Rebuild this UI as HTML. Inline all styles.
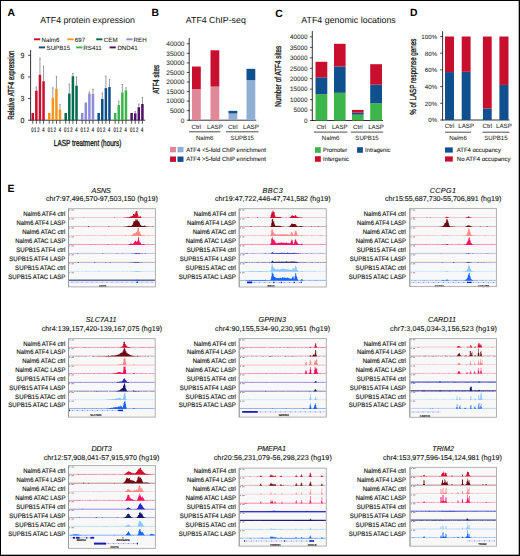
<!DOCTYPE html>
<html><head><meta charset="utf-8"><title>ATF4 figure</title>
<style>html,body{margin:0;padding:0;background:#fff;}body{width:520px;height:556px;overflow:hidden;}svg{display:block;font-family:"Liberation Sans",sans-serif;}text{text-rendering:geometricPrecision;}</style>
</head><body>
<svg width="520" height="556" viewBox="0 0 520 556" font-family="Liberation Sans, sans-serif"><text x="7.60" y="15.90" font-size="10.4" text-anchor="start" fill="#000" font-weight="bold">A</text>
<text x="151.60" y="16.40" font-size="10.4" text-anchor="start" fill="#000" font-weight="bold">B</text>
<text x="275.30" y="16.60" font-size="10.4" text-anchor="start" fill="#000" font-weight="bold">C</text>
<text x="409.90" y="16.40" font-size="10.4" text-anchor="start" fill="#000" font-weight="bold">D</text>
<text x="7.60" y="191.90" font-size="10.4" text-anchor="start" fill="#000" font-weight="bold">E</text>
<text x="87.60" y="22.60" font-size="8.75" text-anchor="middle" fill="#111">ATF4 protein expression</text>
<rect x="34.00" y="38.35" width="6.20" height="1.90" fill="#c8102e"/>
<text x="41.50" y="41.50" font-size="6.2" text-anchor="start" fill="#1a1a1a" stroke="#1a1a1a" stroke-width="0.06">Nalm6</text>
<rect x="67.40" y="38.35" width="6.20" height="1.90" fill="#f7941d"/>
<text x="74.80" y="41.50" font-size="6.2" text-anchor="start" fill="#1a1a1a" stroke="#1a1a1a" stroke-width="0.06">697</text>
<rect x="96.20" y="38.35" width="6.20" height="1.90" fill="#006b4f"/>
<text x="103.80" y="41.50" font-size="6.2" text-anchor="start" fill="#1a1a1a" stroke="#1a1a1a" stroke-width="0.06">CEM</text>
<rect x="126.30" y="38.35" width="6.20" height="1.90" fill="#8b8bd8"/>
<text x="133.60" y="41.50" font-size="6.2" text-anchor="start" fill="#1a1a1a" stroke="#1a1a1a" stroke-width="0.06">REH</text>
<rect x="38.80" y="46.45" width="6.20" height="1.90" fill="#0d4f8b"/>
<text x="46.50" y="49.60" font-size="6.2" text-anchor="start" fill="#1a1a1a" stroke="#1a1a1a" stroke-width="0.06">SUPB15</text>
<rect x="76.20" y="46.45" width="6.20" height="1.90" fill="#3ab54a"/>
<text x="83.30" y="49.60" font-size="6.2" text-anchor="start" fill="#1a1a1a" stroke="#1a1a1a" stroke-width="0.06">RS411</text>
<rect x="109.60" y="46.45" width="6.20" height="1.90" fill="#4b1166"/>
<text x="117.40" y="49.60" font-size="6.2" text-anchor="start" fill="#1a1a1a" stroke="#1a1a1a" stroke-width="0.06">DND41</text>
<line x1="30.60" y1="50.00" x2="30.60" y2="120.60" stroke="#000" stroke-width="0.8"/>
<line x1="30.20" y1="120.20" x2="145.20" y2="120.20" stroke="#000" stroke-width="0.8"/>
<line x1="28.00" y1="120.20" x2="30.60" y2="120.20" stroke="#000" stroke-width="0.7"/>
<text x="24.30" y="122.70" font-size="7.4" text-anchor="end" fill="#222" stroke="#222" stroke-width="0.12" textLength="3.9" lengthAdjust="spacingAndGlyphs">0</text>
<line x1="28.00" y1="98.57" x2="30.60" y2="98.57" stroke="#000" stroke-width="0.7"/>
<text x="24.30" y="101.07" font-size="7.4" text-anchor="end" fill="#222" stroke="#222" stroke-width="0.12" textLength="3.9" lengthAdjust="spacingAndGlyphs">3</text>
<line x1="28.00" y1="76.94" x2="30.60" y2="76.94" stroke="#000" stroke-width="0.7"/>
<text x="24.30" y="79.44" font-size="7.4" text-anchor="end" fill="#222" stroke="#222" stroke-width="0.12" textLength="3.9" lengthAdjust="spacingAndGlyphs">6</text>
<line x1="28.00" y1="55.31" x2="30.60" y2="55.31" stroke="#000" stroke-width="0.7"/>
<text x="24.30" y="57.81" font-size="7.4" text-anchor="end" fill="#222" stroke="#222" stroke-width="0.12" textLength="3.9" lengthAdjust="spacingAndGlyphs">9</text>
<text x="13.90" y="85.20" font-size="8.8" text-anchor="middle" fill="#111" stroke="#111" stroke-width="0.3" textLength="69.3" lengthAdjust="spacingAndGlyphs" transform="rotate(-90 13.90 85.20)">Relative ATF4 expression</text>
<text x="87.60" y="145.60" font-size="8.8" text-anchor="middle" fill="#111" stroke="#111" stroke-width="0.3" textLength="67.5" lengthAdjust="spacingAndGlyphs">LASP treatment (hours)</text>
<rect x="31.50" y="112.99" width="2.50" height="7.21" fill="#c8102e"/>
<line x1="32.75" y1="120.20" x2="32.75" y2="123.80" stroke="#222" stroke-width="0.75"/>
<line x1="36.35" y1="90.64" x2="36.35" y2="87.03" stroke="#5a5a5a" stroke-width="0.6"/>
<line x1="35.65" y1="87.03" x2="37.05" y2="87.03" stroke="#5a5a5a" stroke-width="0.6"/>
<rect x="35.10" y="90.64" width="2.50" height="29.56" fill="#c8102e"/>
<line x1="36.35" y1="120.20" x2="36.35" y2="123.80" stroke="#222" stroke-width="0.75"/>
<line x1="39.95" y1="74.78" x2="39.95" y2="58.19" stroke="#5a5a5a" stroke-width="0.6"/>
<line x1="39.25" y1="58.19" x2="40.65" y2="58.19" stroke="#5a5a5a" stroke-width="0.6"/>
<rect x="38.70" y="74.78" width="2.50" height="45.42" fill="#c8102e"/>
<line x1="39.95" y1="120.20" x2="39.95" y2="123.80" stroke="#222" stroke-width="0.75"/>
<line x1="43.55" y1="81.27" x2="43.55" y2="66.12" stroke="#5a5a5a" stroke-width="0.6"/>
<line x1="42.85" y1="66.12" x2="44.25" y2="66.12" stroke="#5a5a5a" stroke-width="0.6"/>
<rect x="42.30" y="81.27" width="2.50" height="38.93" fill="#c8102e"/>
<line x1="43.55" y1="120.20" x2="43.55" y2="123.80" stroke="#222" stroke-width="0.75"/>
<text x="32.30" y="131.70" font-size="6.6" text-anchor="middle" fill="#222" stroke="#222" stroke-width="0.2" textLength="2.3" lengthAdjust="spacingAndGlyphs">0</text>
<text x="35.10" y="131.70" font-size="6.6" text-anchor="middle" fill="#222" stroke="#222" stroke-width="0.2" textLength="2.3" lengthAdjust="spacingAndGlyphs">1</text>
<text x="38.35" y="131.70" font-size="6.6" text-anchor="middle" fill="#222" stroke="#222" stroke-width="0.2" textLength="2.3" lengthAdjust="spacingAndGlyphs">2</text>
<text x="43.35" y="131.70" font-size="6.6" text-anchor="middle" fill="#222" stroke="#222" stroke-width="0.2" textLength="2.3" lengthAdjust="spacingAndGlyphs">4</text>
<rect x="47.98" y="112.99" width="2.50" height="7.21" fill="#f7941d"/>
<line x1="49.23" y1="120.20" x2="49.23" y2="123.80" stroke="#222" stroke-width="0.75"/>
<line x1="52.83" y1="97.85" x2="52.83" y2="87.75" stroke="#5a5a5a" stroke-width="0.6"/>
<line x1="52.13" y1="87.75" x2="53.53" y2="87.75" stroke="#5a5a5a" stroke-width="0.6"/>
<rect x="51.58" y="97.85" width="2.50" height="22.35" fill="#f7941d"/>
<line x1="52.83" y1="120.20" x2="52.83" y2="123.80" stroke="#222" stroke-width="0.75"/>
<line x1="56.43" y1="88.84" x2="56.43" y2="76.22" stroke="#5a5a5a" stroke-width="0.6"/>
<line x1="55.73" y1="76.22" x2="57.13" y2="76.22" stroke="#5a5a5a" stroke-width="0.6"/>
<rect x="55.18" y="88.84" width="2.50" height="31.36" fill="#f7941d"/>
<line x1="56.43" y1="120.20" x2="56.43" y2="123.80" stroke="#222" stroke-width="0.75"/>
<line x1="60.03" y1="109.39" x2="60.03" y2="104.34" stroke="#5a5a5a" stroke-width="0.6"/>
<line x1="59.33" y1="104.34" x2="60.73" y2="104.34" stroke="#5a5a5a" stroke-width="0.6"/>
<rect x="58.78" y="109.39" width="2.50" height="10.81" fill="#f7941d"/>
<line x1="60.03" y1="120.20" x2="60.03" y2="123.80" stroke="#222" stroke-width="0.75"/>
<text x="48.78" y="131.70" font-size="6.6" text-anchor="middle" fill="#222" stroke="#222" stroke-width="0.2" textLength="2.3" lengthAdjust="spacingAndGlyphs">0</text>
<text x="51.58" y="131.70" font-size="6.6" text-anchor="middle" fill="#222" stroke="#222" stroke-width="0.2" textLength="2.3" lengthAdjust="spacingAndGlyphs">1</text>
<text x="54.83" y="131.70" font-size="6.6" text-anchor="middle" fill="#222" stroke="#222" stroke-width="0.2" textLength="2.3" lengthAdjust="spacingAndGlyphs">2</text>
<text x="59.83" y="131.70" font-size="6.6" text-anchor="middle" fill="#222" stroke="#222" stroke-width="0.2" textLength="2.3" lengthAdjust="spacingAndGlyphs">4</text>
<rect x="64.46" y="112.99" width="2.50" height="7.21" fill="#006b4f"/>
<line x1="65.71" y1="120.20" x2="65.71" y2="123.80" stroke="#222" stroke-width="0.75"/>
<line x1="69.31" y1="93.52" x2="69.31" y2="84.15" stroke="#5a5a5a" stroke-width="0.6"/>
<line x1="68.61" y1="84.15" x2="70.01" y2="84.15" stroke="#5a5a5a" stroke-width="0.6"/>
<rect x="68.06" y="93.52" width="2.50" height="26.68" fill="#006b4f"/>
<line x1="69.31" y1="120.20" x2="69.31" y2="123.80" stroke="#222" stroke-width="0.75"/>
<line x1="72.91" y1="76.22" x2="72.91" y2="73.34" stroke="#5a5a5a" stroke-width="0.6"/>
<line x1="72.21" y1="73.34" x2="73.61" y2="73.34" stroke="#5a5a5a" stroke-width="0.6"/>
<rect x="71.66" y="76.22" width="2.50" height="43.98" fill="#006b4f"/>
<line x1="72.91" y1="120.20" x2="72.91" y2="123.80" stroke="#222" stroke-width="0.75"/>
<line x1="76.51" y1="85.59" x2="76.51" y2="76.94" stroke="#5a5a5a" stroke-width="0.6"/>
<line x1="75.81" y1="76.94" x2="77.21" y2="76.94" stroke="#5a5a5a" stroke-width="0.6"/>
<rect x="75.26" y="85.59" width="2.50" height="34.61" fill="#006b4f"/>
<line x1="76.51" y1="120.20" x2="76.51" y2="123.80" stroke="#222" stroke-width="0.75"/>
<text x="65.26" y="131.70" font-size="6.6" text-anchor="middle" fill="#222" stroke="#222" stroke-width="0.2" textLength="2.3" lengthAdjust="spacingAndGlyphs">0</text>
<text x="68.06" y="131.70" font-size="6.6" text-anchor="middle" fill="#222" stroke="#222" stroke-width="0.2" textLength="2.3" lengthAdjust="spacingAndGlyphs">1</text>
<text x="71.31" y="131.70" font-size="6.6" text-anchor="middle" fill="#222" stroke="#222" stroke-width="0.2" textLength="2.3" lengthAdjust="spacingAndGlyphs">2</text>
<text x="76.31" y="131.70" font-size="6.6" text-anchor="middle" fill="#222" stroke="#222" stroke-width="0.2" textLength="2.3" lengthAdjust="spacingAndGlyphs">4</text>
<rect x="80.94" y="112.99" width="2.50" height="7.21" fill="#8b8bd8"/>
<line x1="82.19" y1="120.20" x2="82.19" y2="123.80" stroke="#222" stroke-width="0.75"/>
<rect x="84.54" y="102.54" width="2.50" height="17.66" fill="#8b8bd8"/>
<line x1="85.79" y1="120.20" x2="85.79" y2="123.80" stroke="#222" stroke-width="0.75"/>
<line x1="89.39" y1="93.52" x2="89.39" y2="92.08" stroke="#5a5a5a" stroke-width="0.6"/>
<line x1="88.69" y1="92.08" x2="90.09" y2="92.08" stroke="#5a5a5a" stroke-width="0.6"/>
<rect x="88.14" y="93.52" width="2.50" height="26.68" fill="#8b8bd8"/>
<line x1="89.39" y1="120.20" x2="89.39" y2="123.80" stroke="#222" stroke-width="0.75"/>
<line x1="92.99" y1="93.88" x2="92.99" y2="89.20" stroke="#5a5a5a" stroke-width="0.6"/>
<line x1="92.29" y1="89.20" x2="93.69" y2="89.20" stroke="#5a5a5a" stroke-width="0.6"/>
<rect x="91.74" y="93.88" width="2.50" height="26.32" fill="#8b8bd8"/>
<line x1="92.99" y1="120.20" x2="92.99" y2="123.80" stroke="#222" stroke-width="0.75"/>
<text x="81.74" y="131.70" font-size="6.6" text-anchor="middle" fill="#222" stroke="#222" stroke-width="0.2" textLength="2.3" lengthAdjust="spacingAndGlyphs">0</text>
<text x="84.54" y="131.70" font-size="6.6" text-anchor="middle" fill="#222" stroke="#222" stroke-width="0.2" textLength="2.3" lengthAdjust="spacingAndGlyphs">1</text>
<text x="87.79" y="131.70" font-size="6.6" text-anchor="middle" fill="#222" stroke="#222" stroke-width="0.2" textLength="2.3" lengthAdjust="spacingAndGlyphs">2</text>
<text x="92.79" y="131.70" font-size="6.6" text-anchor="middle" fill="#222" stroke="#222" stroke-width="0.2" textLength="2.3" lengthAdjust="spacingAndGlyphs">4</text>
<rect x="97.42" y="112.99" width="2.50" height="7.21" fill="#0d4f8b"/>
<line x1="98.67" y1="120.20" x2="98.67" y2="123.80" stroke="#222" stroke-width="0.75"/>
<line x1="102.27" y1="98.93" x2="102.27" y2="93.16" stroke="#5a5a5a" stroke-width="0.6"/>
<line x1="101.57" y1="93.16" x2="102.97" y2="93.16" stroke="#5a5a5a" stroke-width="0.6"/>
<rect x="101.02" y="98.93" width="2.50" height="21.27" fill="#0d4f8b"/>
<line x1="102.27" y1="120.20" x2="102.27" y2="123.80" stroke="#222" stroke-width="0.75"/>
<line x1="105.87" y1="88.12" x2="105.87" y2="76.22" stroke="#5a5a5a" stroke-width="0.6"/>
<line x1="105.17" y1="76.22" x2="106.57" y2="76.22" stroke="#5a5a5a" stroke-width="0.6"/>
<rect x="104.62" y="88.12" width="2.50" height="32.08" fill="#0d4f8b"/>
<line x1="105.87" y1="120.20" x2="105.87" y2="123.80" stroke="#222" stroke-width="0.75"/>
<line x1="109.47" y1="87.03" x2="109.47" y2="79.46" stroke="#5a5a5a" stroke-width="0.6"/>
<line x1="108.77" y1="79.46" x2="110.17" y2="79.46" stroke="#5a5a5a" stroke-width="0.6"/>
<rect x="108.22" y="87.03" width="2.50" height="33.17" fill="#0d4f8b"/>
<line x1="109.47" y1="120.20" x2="109.47" y2="123.80" stroke="#222" stroke-width="0.75"/>
<text x="98.22" y="131.70" font-size="6.6" text-anchor="middle" fill="#222" stroke="#222" stroke-width="0.2" textLength="2.3" lengthAdjust="spacingAndGlyphs">0</text>
<text x="101.02" y="131.70" font-size="6.6" text-anchor="middle" fill="#222" stroke="#222" stroke-width="0.2" textLength="2.3" lengthAdjust="spacingAndGlyphs">1</text>
<text x="104.27" y="131.70" font-size="6.6" text-anchor="middle" fill="#222" stroke="#222" stroke-width="0.2" textLength="2.3" lengthAdjust="spacingAndGlyphs">2</text>
<text x="109.27" y="131.70" font-size="6.6" text-anchor="middle" fill="#222" stroke="#222" stroke-width="0.2" textLength="2.3" lengthAdjust="spacingAndGlyphs">4</text>
<rect x="113.90" y="112.99" width="2.50" height="7.21" fill="#3ab54a"/>
<line x1="115.15" y1="120.20" x2="115.15" y2="123.80" stroke="#222" stroke-width="0.75"/>
<line x1="118.75" y1="105.06" x2="118.75" y2="101.09" stroke="#5a5a5a" stroke-width="0.6"/>
<line x1="118.05" y1="101.09" x2="119.45" y2="101.09" stroke="#5a5a5a" stroke-width="0.6"/>
<rect x="117.50" y="105.06" width="2.50" height="15.14" fill="#3ab54a"/>
<line x1="118.75" y1="120.20" x2="118.75" y2="123.80" stroke="#222" stroke-width="0.75"/>
<line x1="122.35" y1="92.44" x2="122.35" y2="84.51" stroke="#5a5a5a" stroke-width="0.6"/>
<line x1="121.65" y1="84.51" x2="123.05" y2="84.51" stroke="#5a5a5a" stroke-width="0.6"/>
<rect x="121.10" y="92.44" width="2.50" height="27.76" fill="#3ab54a"/>
<line x1="122.35" y1="120.20" x2="122.35" y2="123.80" stroke="#222" stroke-width="0.75"/>
<line x1="125.95" y1="90.28" x2="125.95" y2="87.75" stroke="#5a5a5a" stroke-width="0.6"/>
<line x1="125.25" y1="87.75" x2="126.65" y2="87.75" stroke="#5a5a5a" stroke-width="0.6"/>
<rect x="124.70" y="90.28" width="2.50" height="29.92" fill="#3ab54a"/>
<line x1="125.95" y1="120.20" x2="125.95" y2="123.80" stroke="#222" stroke-width="0.75"/>
<text x="114.70" y="131.70" font-size="6.6" text-anchor="middle" fill="#222" stroke="#222" stroke-width="0.2" textLength="2.3" lengthAdjust="spacingAndGlyphs">0</text>
<text x="117.50" y="131.70" font-size="6.6" text-anchor="middle" fill="#222" stroke="#222" stroke-width="0.2" textLength="2.3" lengthAdjust="spacingAndGlyphs">1</text>
<text x="120.75" y="131.70" font-size="6.6" text-anchor="middle" fill="#222" stroke="#222" stroke-width="0.2" textLength="2.3" lengthAdjust="spacingAndGlyphs">2</text>
<text x="125.75" y="131.70" font-size="6.6" text-anchor="middle" fill="#222" stroke="#222" stroke-width="0.2" textLength="2.3" lengthAdjust="spacingAndGlyphs">4</text>
<rect x="130.38" y="112.99" width="2.50" height="7.21" fill="#4b1166"/>
<line x1="131.63" y1="120.20" x2="131.63" y2="123.80" stroke="#222" stroke-width="0.75"/>
<line x1="135.23" y1="113.35" x2="135.23" y2="111.55" stroke="#5a5a5a" stroke-width="0.6"/>
<line x1="134.53" y1="111.55" x2="135.93" y2="111.55" stroke="#5a5a5a" stroke-width="0.6"/>
<rect x="133.98" y="113.35" width="2.50" height="6.85" fill="#4b1166"/>
<line x1="135.23" y1="120.20" x2="135.23" y2="123.80" stroke="#222" stroke-width="0.75"/>
<line x1="138.83" y1="107.22" x2="138.83" y2="103.98" stroke="#5a5a5a" stroke-width="0.6"/>
<line x1="138.13" y1="103.98" x2="139.53" y2="103.98" stroke="#5a5a5a" stroke-width="0.6"/>
<rect x="137.58" y="107.22" width="2.50" height="12.98" fill="#4b1166"/>
<line x1="138.83" y1="120.20" x2="138.83" y2="123.80" stroke="#222" stroke-width="0.75"/>
<line x1="142.43" y1="103.98" x2="142.43" y2="97.49" stroke="#5a5a5a" stroke-width="0.6"/>
<line x1="141.73" y1="97.49" x2="143.13" y2="97.49" stroke="#5a5a5a" stroke-width="0.6"/>
<rect x="141.18" y="103.98" width="2.50" height="16.22" fill="#4b1166"/>
<line x1="142.43" y1="120.20" x2="142.43" y2="123.80" stroke="#222" stroke-width="0.75"/>
<text x="131.18" y="131.70" font-size="6.6" text-anchor="middle" fill="#222" stroke="#222" stroke-width="0.2" textLength="2.3" lengthAdjust="spacingAndGlyphs">0</text>
<text x="133.98" y="131.70" font-size="6.6" text-anchor="middle" fill="#222" stroke="#222" stroke-width="0.2" textLength="2.3" lengthAdjust="spacingAndGlyphs">1</text>
<text x="137.23" y="131.70" font-size="6.6" text-anchor="middle" fill="#222" stroke="#222" stroke-width="0.2" textLength="2.3" lengthAdjust="spacingAndGlyphs">2</text>
<text x="142.23" y="131.70" font-size="6.6" text-anchor="middle" fill="#222" stroke="#222" stroke-width="0.2" textLength="2.3" lengthAdjust="spacingAndGlyphs">4</text>
<text x="215.80" y="23.00" font-size="8.8" text-anchor="middle" fill="#111">ATF4 ChIP-seq</text>
<line x1="189.20" y1="38.00" x2="189.20" y2="120.60" stroke="#000" stroke-width="0.8"/>
<line x1="186.80" y1="120.20" x2="189.20" y2="120.20" stroke="#000" stroke-width="0.7"/>
<text x="184.40" y="122.50" font-size="6.5" text-anchor="end" fill="#222" stroke="#222" stroke-width="0.04">0</text>
<line x1="186.80" y1="110.65" x2="189.20" y2="110.65" stroke="#000" stroke-width="0.7"/>
<text x="184.40" y="112.95" font-size="6.5" text-anchor="end" fill="#222" stroke="#222" stroke-width="0.04">5000</text>
<line x1="186.80" y1="101.10" x2="189.20" y2="101.10" stroke="#000" stroke-width="0.7"/>
<text x="184.40" y="103.40" font-size="6.5" text-anchor="end" fill="#222" stroke="#222" stroke-width="0.04">10000</text>
<line x1="186.80" y1="91.55" x2="189.20" y2="91.55" stroke="#000" stroke-width="0.7"/>
<text x="184.40" y="93.85" font-size="6.5" text-anchor="end" fill="#222" stroke="#222" stroke-width="0.04">15000</text>
<line x1="186.80" y1="82.00" x2="189.20" y2="82.00" stroke="#000" stroke-width="0.7"/>
<text x="184.40" y="84.30" font-size="6.5" text-anchor="end" fill="#222" stroke="#222" stroke-width="0.04">20000</text>
<line x1="186.80" y1="72.45" x2="189.20" y2="72.45" stroke="#000" stroke-width="0.7"/>
<text x="184.40" y="74.75" font-size="6.5" text-anchor="end" fill="#222" stroke="#222" stroke-width="0.04">25000</text>
<line x1="186.80" y1="62.90" x2="189.20" y2="62.90" stroke="#000" stroke-width="0.7"/>
<text x="184.40" y="65.20" font-size="6.5" text-anchor="end" fill="#222" stroke="#222" stroke-width="0.04">30000</text>
<line x1="186.80" y1="53.35" x2="189.20" y2="53.35" stroke="#000" stroke-width="0.7"/>
<text x="184.40" y="55.65" font-size="6.5" text-anchor="end" fill="#222" stroke="#222" stroke-width="0.04">35000</text>
<line x1="186.80" y1="43.80" x2="189.20" y2="43.80" stroke="#000" stroke-width="0.7"/>
<text x="184.40" y="46.10" font-size="6.5" text-anchor="end" fill="#222" stroke="#222" stroke-width="0.04">40000</text>
<line x1="188.80" y1="120.20" x2="256.30" y2="120.20" stroke="#000" stroke-width="0.8"/>
<rect x="192.00" y="89.07" width="8.80" height="31.13" fill="#e08898"/>
<rect x="192.00" y="66.53" width="8.80" height="22.54" fill="#c8102e"/>
<text x="196.40" y="128.60" font-size="6.2" text-anchor="middle" fill="#222" stroke="#222" stroke-width="0.04">Ctrl</text>
<rect x="210.50" y="86.58" width="8.80" height="33.62" fill="#e08898"/>
<rect x="210.50" y="50.29" width="8.80" height="36.29" fill="#c8102e"/>
<text x="214.90" y="128.60" font-size="6.2" text-anchor="middle" fill="#222" stroke="#222" stroke-width="0.04">LASP</text>
<rect x="228.50" y="113.52" width="8.80" height="6.69" fill="#8fb0d2"/>
<rect x="228.50" y="110.84" width="8.80" height="2.67" fill="#11508e"/>
<text x="232.90" y="128.60" font-size="6.2" text-anchor="middle" fill="#222" stroke="#222" stroke-width="0.04">Ctrl</text>
<rect x="246.50" y="80.09" width="8.80" height="40.11" fill="#8fb0d2"/>
<rect x="246.50" y="68.82" width="8.80" height="11.27" fill="#11508e"/>
<text x="250.90" y="128.60" font-size="6.2" text-anchor="middle" fill="#222" stroke="#222" stroke-width="0.04">LASP</text>
<line x1="189.00" y1="131.80" x2="220.40" y2="131.80" stroke="#000" stroke-width="0.7"/>
<text x="204.70" y="139.70" font-size="6.1" text-anchor="middle" fill="#222" stroke="#222" stroke-width="0.04">Nalm6</text>
<line x1="226.00" y1="131.80" x2="258.50" y2="131.80" stroke="#000" stroke-width="0.7"/>
<text x="242.25" y="139.70" font-size="6.1" text-anchor="middle" fill="#222" stroke="#222" stroke-width="0.04">SUPB15</text>
<text x="158.60" y="79.40" font-size="8.8" text-anchor="middle" fill="#111" stroke="#111" stroke-width="0.3" textLength="28.8" lengthAdjust="spacingAndGlyphs" transform="rotate(-90 158.60 79.40)">ATF4 sites</text>
<rect x="170.00" y="146.90" width="6.00" height="5.40" fill="#e08898"/>
<rect x="177.50" y="146.90" width="6.00" height="5.40" fill="#8fb0d2"/>
<text x="186.20" y="151.80" font-size="6.2" text-anchor="start" fill="#1a1a1a" stroke="#1a1a1a" stroke-width="0.08" textLength="79.8" lengthAdjust="spacingAndGlyphs">ATF4 &lt;5-fold ChIP enrichment</text>
<rect x="170.00" y="156.50" width="6.00" height="5.40" fill="#c8102e"/>
<rect x="177.50" y="156.50" width="6.00" height="5.40" fill="#11508e"/>
<text x="186.20" y="161.40" font-size="6.2" text-anchor="start" fill="#1a1a1a" stroke="#1a1a1a" stroke-width="0.08" textLength="79.8" lengthAdjust="spacingAndGlyphs">ATF4 &gt;5-fold ChIP enrichment</text>
<text x="348.50" y="23.00" font-size="8.9" text-anchor="middle" fill="#111">ATF4 genomic locations</text>
<line x1="312.30" y1="31.00" x2="312.30" y2="120.90" stroke="#000" stroke-width="0.8"/>
<line x1="309.90" y1="120.50" x2="312.30" y2="120.50" stroke="#000" stroke-width="0.7"/>
<text x="307.60" y="122.80" font-size="6.35" text-anchor="end" fill="#222" stroke="#222" stroke-width="0.04">0</text>
<line x1="309.90" y1="110.05" x2="312.30" y2="110.05" stroke="#000" stroke-width="0.7"/>
<text x="307.60" y="112.35" font-size="6.35" text-anchor="end" fill="#222" stroke="#222" stroke-width="0.04">5000</text>
<line x1="309.90" y1="99.60" x2="312.30" y2="99.60" stroke="#000" stroke-width="0.7"/>
<text x="307.60" y="101.90" font-size="6.35" text-anchor="end" fill="#222" stroke="#222" stroke-width="0.04">10000</text>
<line x1="309.90" y1="89.15" x2="312.30" y2="89.15" stroke="#000" stroke-width="0.7"/>
<text x="307.60" y="91.45" font-size="6.35" text-anchor="end" fill="#222" stroke="#222" stroke-width="0.04">15000</text>
<line x1="309.90" y1="78.70" x2="312.30" y2="78.70" stroke="#000" stroke-width="0.7"/>
<text x="307.60" y="81.00" font-size="6.35" text-anchor="end" fill="#222" stroke="#222" stroke-width="0.04">20000</text>
<line x1="309.90" y1="68.25" x2="312.30" y2="68.25" stroke="#000" stroke-width="0.7"/>
<text x="307.60" y="70.55" font-size="6.35" text-anchor="end" fill="#222" stroke="#222" stroke-width="0.04">25000</text>
<line x1="309.90" y1="57.80" x2="312.30" y2="57.80" stroke="#000" stroke-width="0.7"/>
<text x="307.60" y="60.10" font-size="6.35" text-anchor="end" fill="#222" stroke="#222" stroke-width="0.04">30000</text>
<line x1="309.90" y1="47.35" x2="312.30" y2="47.35" stroke="#000" stroke-width="0.7"/>
<text x="307.60" y="49.65" font-size="6.35" text-anchor="end" fill="#222" stroke="#222" stroke-width="0.04">35000</text>
<line x1="309.90" y1="36.90" x2="312.30" y2="36.90" stroke="#000" stroke-width="0.7"/>
<text x="307.60" y="39.20" font-size="6.35" text-anchor="end" fill="#222" stroke="#222" stroke-width="0.04">40000</text>
<line x1="311.90" y1="120.50" x2="383.00" y2="120.50" stroke="#000" stroke-width="0.8"/>
<rect x="315.50" y="94.17" width="11.80" height="26.33" fill="#3cb54a"/>
<rect x="315.50" y="77.30" width="11.80" height="16.87" fill="#11508e"/>
<rect x="315.50" y="61.79" width="11.80" height="15.51" fill="#c8102e"/>
<text x="321.40" y="128.60" font-size="6.2" text-anchor="middle" fill="#222" stroke="#222" stroke-width="0.04">Ctrl</text>
<rect x="334.00" y="92.81" width="11.60" height="27.69" fill="#3cb54a"/>
<rect x="334.00" y="66.49" width="11.60" height="26.31" fill="#11508e"/>
<rect x="334.00" y="43.80" width="11.60" height="22.70" fill="#c8102e"/>
<text x="339.80" y="128.60" font-size="6.2" text-anchor="middle" fill="#222" stroke="#222" stroke-width="0.04">LASP</text>
<rect x="352.00" y="114.70" width="11.60" height="5.80" fill="#3cb54a"/>
<rect x="352.00" y="112.70" width="11.60" height="2.00" fill="#11508e"/>
<rect x="352.00" y="109.90" width="11.60" height="2.80" fill="#c8102e"/>
<text x="357.80" y="128.60" font-size="6.2" text-anchor="middle" fill="#222" stroke="#222" stroke-width="0.04">Ctrl</text>
<rect x="370.20" y="103.19" width="11.80" height="17.31" fill="#3cb54a"/>
<rect x="370.20" y="84.70" width="11.80" height="18.50" fill="#11508e"/>
<rect x="370.20" y="64.20" width="11.80" height="20.50" fill="#c8102e"/>
<text x="376.10" y="128.60" font-size="6.2" text-anchor="middle" fill="#222" stroke="#222" stroke-width="0.04">LASP</text>
<line x1="313.90" y1="132.10" x2="347.40" y2="132.10" stroke="#000" stroke-width="0.7"/>
<text x="330.65" y="140.00" font-size="6.1" text-anchor="middle" fill="#222" stroke="#222" stroke-width="0.04">Nalm6</text>
<line x1="350.80" y1="132.10" x2="383.20" y2="132.10" stroke="#000" stroke-width="0.7"/>
<text x="367.00" y="140.00" font-size="6.1" text-anchor="middle" fill="#222" stroke="#222" stroke-width="0.04">SUPB15</text>
<text x="281.40" y="76.20" font-size="8.8" text-anchor="middle" fill="#111" stroke="#111" stroke-width="0.3" textLength="61" lengthAdjust="spacingAndGlyphs" transform="rotate(-90 281.40 76.20)">Number of ATF4 sites</text>
<rect x="315.00" y="147.20" width="5.80" height="5.60" fill="#3cb54a"/>
<text x="323.00" y="152.20" font-size="6.2" text-anchor="start" fill="#1a1a1a" stroke="#1a1a1a" stroke-width="0.08" textLength="24.1" lengthAdjust="spacingAndGlyphs">Promoter</text>
<rect x="357.10" y="147.20" width="5.80" height="5.60" fill="#11508e"/>
<text x="365.10" y="152.20" font-size="6.2" text-anchor="start" fill="#1a1a1a" stroke="#1a1a1a" stroke-width="0.08" textLength="25.4" lengthAdjust="spacingAndGlyphs">Intragenic</text>
<rect x="315.00" y="156.20" width="5.80" height="5.60" fill="#c8102e"/>
<text x="323.00" y="161.20" font-size="6.2" text-anchor="start" fill="#1a1a1a" stroke="#1a1a1a" stroke-width="0.08" textLength="26.0" lengthAdjust="spacingAndGlyphs">Intergenic</text>
<line x1="442.60" y1="31.20" x2="442.60" y2="120.40" stroke="#000" stroke-width="0.8"/>
<line x1="440.20" y1="120.00" x2="442.60" y2="120.00" stroke="#000" stroke-width="0.7"/>
<text x="437.20" y="122.30" font-size="6.2" text-anchor="end" fill="#222" stroke="#222" stroke-width="0.04">0%</text>
<line x1="440.20" y1="103.30" x2="442.60" y2="103.30" stroke="#000" stroke-width="0.7"/>
<text x="437.20" y="105.60" font-size="6.2" text-anchor="end" fill="#222" stroke="#222" stroke-width="0.04">20%</text>
<line x1="440.20" y1="86.60" x2="442.60" y2="86.60" stroke="#000" stroke-width="0.7"/>
<text x="437.20" y="88.90" font-size="6.2" text-anchor="end" fill="#222" stroke="#222" stroke-width="0.04">40%</text>
<line x1="440.20" y1="69.90" x2="442.60" y2="69.90" stroke="#000" stroke-width="0.7"/>
<text x="437.20" y="72.20" font-size="6.2" text-anchor="end" fill="#222" stroke="#222" stroke-width="0.04">60%</text>
<line x1="440.20" y1="53.20" x2="442.60" y2="53.20" stroke="#000" stroke-width="0.7"/>
<text x="437.20" y="55.50" font-size="6.2" text-anchor="end" fill="#222" stroke="#222" stroke-width="0.04">80%</text>
<line x1="440.20" y1="36.50" x2="442.60" y2="36.50" stroke="#000" stroke-width="0.7"/>
<text x="437.20" y="38.80" font-size="6.2" text-anchor="end" fill="#222" stroke="#222" stroke-width="0.04">100%</text>
<line x1="442.20" y1="120.00" x2="509.50" y2="120.00" stroke="#000" stroke-width="0.8"/>
<rect x="445.00" y="72.07" width="9.00" height="47.93" fill="#11508e"/>
<rect x="445.00" y="36.50" width="9.00" height="35.57" fill="#c8102e"/>
<text x="449.50" y="128.30" font-size="6.2" text-anchor="middle" fill="#222" stroke="#222" stroke-width="0.04">Ctrl</text>
<rect x="461.70" y="71.82" width="8.90" height="48.18" fill="#11508e"/>
<rect x="461.70" y="36.50" width="8.90" height="35.32" fill="#c8102e"/>
<text x="466.15" y="128.30" font-size="6.2" text-anchor="middle" fill="#222" stroke="#222" stroke-width="0.04">LASP</text>
<rect x="482.90" y="108.48" width="8.80" height="11.52" fill="#11508e"/>
<rect x="482.90" y="36.50" width="8.80" height="71.98" fill="#c8102e"/>
<text x="487.30" y="128.30" font-size="6.2" text-anchor="middle" fill="#222" stroke="#222" stroke-width="0.04">Ctrl</text>
<rect x="499.40" y="84.93" width="9.10" height="35.07" fill="#11508e"/>
<rect x="499.40" y="36.50" width="9.10" height="48.43" fill="#c8102e"/>
<text x="503.95" y="128.30" font-size="6.2" text-anchor="middle" fill="#222" stroke="#222" stroke-width="0.04">LASP</text>
<line x1="445.00" y1="132.20" x2="471.00" y2="132.20" stroke="#000" stroke-width="0.7"/>
<text x="458.00" y="140.10" font-size="6.1" text-anchor="middle" fill="#222" stroke="#222" stroke-width="0.04">Nalm6</text>
<line x1="482.50" y1="132.20" x2="509.40" y2="132.20" stroke="#000" stroke-width="0.7"/>
<text x="495.95" y="140.10" font-size="6.1" text-anchor="middle" fill="#222" stroke="#222" stroke-width="0.04">SUPB15</text>
<text x="415.80" y="76.70" font-size="8.8" text-anchor="middle" fill="#111" stroke="#111" stroke-width="0.3" textLength="76" lengthAdjust="spacingAndGlyphs" transform="rotate(-90 415.80 76.70)">% of LASP response genes</text>
<rect x="445.00" y="147.40" width="7.80" height="5.20" fill="#11508e"/>
<text x="456.80" y="152.20" font-size="6.2" text-anchor="start" fill="#1a1a1a" stroke="#1a1a1a" stroke-width="0.08" textLength="44.1" lengthAdjust="spacingAndGlyphs">ATF4 occupancy</text>
<rect x="445.00" y="156.40" width="7.80" height="5.20" fill="#c8102e"/>
<text x="456.80" y="161.20" font-size="6.2" text-anchor="start" fill="#1a1a1a" stroke="#1a1a1a" stroke-width="0.08" textLength="53.6" lengthAdjust="spacingAndGlyphs">No ATF4 occupancy</text>
<text x="91.40" y="193.00" font-size="7.2" text-anchor="start" fill="#111" stroke="#111" stroke-width="0.12" font-style="italic" textLength="19.5" lengthAdjust="spacing">ASNS</text>
<text x="46.00" y="201.20" font-size="7.1" text-anchor="start" fill="#111" stroke="#111" stroke-width="0.1" textLength="111.8" lengthAdjust="spacing">chr7:97,496,570-97,503,150 (hg19)</text>
<rect x="68.50" y="208.70" width="86.90" height="78.20" fill="#f8f8f8"/>
<text x="65.40" y="215.60" font-size="6.5" text-anchor="end" fill="#111" stroke="#111" stroke-width="0.14" textLength="42.1" lengthAdjust="spacingAndGlyphs">Nalm6 ATF4 ctrl</text>
<rect x="69.20" y="209.54" width="1.00" height="1.00" fill="#888"/>
<rect x="71.50" y="209.54" width="2.40" height="1.00" fill="#999"/>
<rect x="69.00" y="217.10" width="85.90" height="0.90" fill="#f0c6d0"/>
<path d="M69.0,218.0V217.9H69.5V218.0H70.0V217.9H71.5V218.0H73.5V217.9H74.0V218.0H74.5V217.9H80.0V218.0H81.0V217.9H81.5V218.0H83.0V217.8H83.5V217.7H84.0V217.9H85.0V218.0H85.5V217.9H86.0V218.0H86.5V217.9H87.5V218.0H88.0V217.9H90.5V218.0H91.5V217.9H92.0V218.0H93.0V217.9H94.5V218.0H95.5V217.9H96.0V218.0H96.5V217.9H97.0V218.0H97.5V217.9H98.0V218.0H98.5V217.9H100.0V218.0H101.5V217.9H103.0V218.0H104.0V217.9H105.5V218.0H106.0V217.9H106.5V218.0H107.0V217.9H107.5V218.0H108.0V217.9H108.5V218.0H109.0V217.9H111.0V218.0H111.5V217.9H112.5V218.0H113.0V217.9H114.0V217.6H114.5V217.8H115.0V218.0H115.5V217.9H116.0V218.0H117.0V217.9H118.0V218.0H118.5V217.9H119.0V218.0H119.5V217.9H121.0V218.0H122.5V217.9H123.5V217.7H124.0V217.6H124.5V217.8H126.0V217.7H126.5V217.3H127.5V217.5H128.0V217.4H128.5V217.3H129.0V217.1H129.5V217.0H130.0V216.5H130.5V216.4H131.5V216.1H132.0V215.9H132.5V215.4H133.0V214.1H133.5V213.9H134.0V213.7H134.5V214.8H135.0V213.5H135.5V211.6H136.0V211.0H136.5V211.1H137.0V211.4H137.5V213.7H138.0V215.3H138.5V216.9H139.5V216.2H140.0V216.0H140.5V216.5H141.0V217.4H141.5V217.8H142.0V217.9H143.0V218.0H144.0V217.9H145.5V218.0H147.5V217.9H148.0V218.0H149.0V217.9H149.5V218.0H150.5V217.9H151.5V218.0H152.0V217.9H154.5V218.0H154.9V218.0Z" fill="#d20f2c"/>
<text x="65.40" y="224.64" font-size="6.5" text-anchor="end" fill="#111" stroke="#111" stroke-width="0.14" textLength="49.0" lengthAdjust="spacingAndGlyphs">Nalm6 ATF4 LASP</text>
<rect x="69.20" y="218.50" width="1.00" height="1.00" fill="#888"/>
<rect x="71.50" y="218.50" width="2.40" height="1.00" fill="#999"/>
<rect x="69.00" y="226.06" width="85.90" height="0.90" fill="#d6b8bc"/>
<path d="M69.0,227.0V226.9H86.0V226.8H86.5V226.9H88.0V226.7H88.5V225.9H89.0V226.7H89.5V226.9H108.0V226.6H108.5V226.7H109.0V226.8H109.5V226.9H123.0V226.8H123.5V226.9H124.0V226.8H125.0V226.7H125.5V226.6H126.0V226.5H126.5V226.4H127.5V226.1H128.5V225.8H129.5V226.0H130.5V226.1H131.0V226.0H131.5V225.6H132.0V224.8H132.5V224.5H133.0V222.8H133.5V221.2H134.0V221.5H134.5V220.9H135.0V219.2H135.5V220.7H136.0V219.1H136.5V220.4H137.0V219.3H137.5V220.5H138.0V221.6H138.5V221.0H139.0V221.6H139.5V223.3H140.0V224.4H140.5V225.1H141.0V225.6H141.5V226.1H142.0V226.0H142.5V225.8H143.0V225.9H143.5V226.1H144.0V225.8H144.5V225.6H145.0V226.0H145.5V226.4H146.0V226.5H146.5V226.6H147.0V226.7H147.5V226.8H149.5V226.9H150.0V226.8H150.5V226.9H151.5V226.8H152.0V226.4H152.5V226.7H153.0V226.9H154.9V227.0Z" fill="#6e0a12"/>
<text x="65.40" y="233.68" font-size="6.5" text-anchor="end" fill="#111" stroke="#111" stroke-width="0.14" textLength="43.2" lengthAdjust="spacingAndGlyphs">Nalm6 ATAC ctrl</text>
<rect x="69.20" y="227.46" width="1.00" height="1.00" fill="#888"/>
<rect x="71.50" y="227.46" width="2.40" height="1.00" fill="#999"/>
<rect x="69.00" y="235.02" width="85.90" height="0.90" fill="#ffd6d6"/>
<path d="M69.0,235.9V235.9H70.0V235.8H70.5V235.9H72.0V235.8H72.5V235.9H73.0V235.8H73.5V235.9H76.0V235.8H76.5V235.3H77.0V235.7H77.5V235.8H80.0V235.9H80.5V235.8H81.0V235.9H82.5V235.8H83.5V235.9H85.0V235.8H85.5V235.9H86.0V235.8H86.5V235.9H87.0V235.8H89.5V235.9H90.0V235.8H90.5V235.9H91.0V235.8H91.5V235.9H92.5V235.8H94.0V235.9H94.5V235.8H95.5V235.9H99.5V235.8H100.0V235.9H101.0V235.8H102.0V235.9H103.0V235.8H105.0V235.6H105.5V235.5H106.0V235.8H106.5V235.9H108.5V235.8H109.5V235.9H110.0V235.8H110.5V235.9H111.0V235.8H112.0V235.9H112.5V235.8H114.5V235.9H115.5V235.8H117.0V235.9H117.5V235.8H118.0V235.9H118.5V235.8H119.0V235.9H119.5V235.8H120.5V235.9H121.0V235.8H121.5V235.9H122.0V235.8H122.5V235.9H123.0V235.8H123.5V235.9H124.0V235.8H125.0V235.3H125.5V235.7H126.0V235.2H126.5V235.7H127.0V235.9H128.5V235.8H130.0V235.7H131.0V235.5H131.5V235.1H132.0V234.8H132.5V234.5H133.0V233.7H133.5V232.9H134.0V233.5H134.5V233.3H135.0V233.2H135.5V232.5H136.0V232.1H136.5V232.0H137.0V230.5H137.5V228.3H138.0V227.7H139.0V231.2H139.5V232.0H140.0V233.6H140.5V233.9H141.0V234.5H141.5V235.2H142.0V235.4H142.5V235.3H143.0V235.5H144.0V235.6H144.5V235.7H145.0V235.8H145.5V235.9H146.5V235.8H147.0V235.9H147.5V235.8H148.5V235.5H149.0V235.7H149.5V235.9H151.0V235.8H151.5V235.9H152.0V235.8H153.5V235.9H154.9V235.9Z" fill="#ff8a8a"/>
<text x="65.40" y="242.72" font-size="6.5" text-anchor="end" fill="#111" stroke="#111" stroke-width="0.14" textLength="50.1" lengthAdjust="spacingAndGlyphs">Nalm6 ATAC LASP</text>
<rect x="69.20" y="236.42" width="1.00" height="1.00" fill="#888"/>
<rect x="71.50" y="236.42" width="2.40" height="1.00" fill="#999"/>
<rect x="69.00" y="243.98" width="85.90" height="0.90" fill="#ffbcd4"/>
<path d="M69.0,244.9V244.8H90.5V244.5H91.5V244.7H92.0V244.8H94.5V244.5H95.0V244.6H95.5V244.8H107.5V244.6H108.0V244.3H108.5V244.7H109.0V244.8H115.5V244.7H116.0V244.3H116.5V244.7H117.0V244.8H127.5V244.7H128.0V244.6H128.5V244.5H129.0V244.3H129.5V243.9H130.0V243.8H130.5V243.4H131.0V243.6H132.0V243.9H132.5V243.7H133.0V243.6H133.5V242.9H134.0V242.3H134.5V241.6H135.0V240.8H136.0V241.3H136.5V242.3H137.0V241.3H137.5V240.4H138.0V236.7H138.5V237.8H139.0V240.3H139.5V242.3H140.0V242.4H140.5V242.7H141.0V243.7H141.5V244.5H142.0V244.6H142.5V244.3H143.0V244.0H144.0V244.2H144.5V244.4H145.0V244.7H145.5V244.8H154.9V244.9Z" fill="#ff1060"/>
<text x="65.40" y="251.76" font-size="6.5" text-anchor="end" fill="#111" stroke="#111" stroke-width="0.14" textLength="49.2" lengthAdjust="spacingAndGlyphs">SUPB15 ATF4 ctrl</text>
<rect x="69.20" y="245.38" width="1.00" height="1.00" fill="#888"/>
<rect x="71.50" y="245.38" width="2.40" height="1.00" fill="#999"/>
<rect x="69.00" y="252.94" width="85.90" height="0.90" fill="#bcbcee"/>
<path d="M69.0,253.8V253.8H71.0V253.7H73.5V253.8H74.0V253.7H75.5V253.8H77.0V253.6H77.5V253.2H78.0V253.6H78.5V253.8H80.5V253.7H81.0V253.8H82.5V253.7H83.5V253.8H84.5V253.7H86.5V253.8H87.0V253.7H87.5V253.8H88.0V253.7H89.0V253.8H90.0V253.7H92.0V253.8H93.0V253.7H93.5V253.8H95.0V253.7H97.0V253.8H97.5V253.7H98.0V253.8H99.0V253.7H99.5V253.8H100.0V253.7H100.5V253.8H102.0V253.6H102.5V253.3H103.0V253.6H103.5V253.8H104.5V253.7H105.0V253.8H106.0V253.7H107.5V253.8H108.5V253.7H110.0V253.8H110.5V253.7H112.0V253.8H112.5V253.7H113.5V253.8H115.0V253.7H115.5V253.8H116.5V253.5H117.0V253.3H117.5V253.8H119.0V253.7H120.0V253.8H121.5V253.7H122.0V253.5H122.5V253.6H123.0V253.8H123.5V253.7H126.5V253.8H127.0V253.7H127.5V253.8H128.5V253.7H129.0V253.8H129.5V253.7H131.5V253.6H132.0V253.5H133.5V253.4H134.5V253.3H135.5V253.0H136.5V253.1H137.5V253.2H138.0V253.1H138.5V253.2H139.0V253.1H139.5V253.2H140.0V253.4H141.0V253.5H142.0V253.6H143.0V253.7H144.0V253.8H144.5V253.6H145.0V253.3H145.5V253.5H146.0V253.8H147.5V253.7H150.0V253.8H152.0V253.7H154.0V253.8H154.9V253.8Z" fill="#2828c4"/>
<text x="65.40" y="260.80" font-size="6.5" text-anchor="end" fill="#111" stroke="#111" stroke-width="0.14" textLength="56.1" lengthAdjust="spacingAndGlyphs">SUPB15 ATF4 LASP</text>
<rect x="69.20" y="254.34" width="1.00" height="1.00" fill="#888"/>
<rect x="71.50" y="254.34" width="2.40" height="1.00" fill="#999"/>
<rect x="69.00" y="261.90" width="85.90" height="0.90" fill="#ababcc"/>
<path d="M69.0,262.8V262.7H72.0V262.8H72.5V262.7H77.5V262.4H78.0V262.1H78.5V262.5H79.0V262.7H83.5V262.8H84.0V262.7H85.0V262.8H85.5V262.7H94.0V262.6H94.5V262.3H95.0V262.6H95.5V262.7H103.5V262.8H104.0V262.7H105.0V262.4H105.5V262.5H106.0V262.7H109.5V262.4H110.0V262.3H110.5V262.7H113.5V262.8H114.0V262.7H114.5V262.8H115.0V262.7H124.5V262.8H125.5V262.7H127.0V262.8H127.5V262.7H128.5V262.6H129.0V262.7H130.0V262.6H130.5V262.5H132.5V262.4H133.5V262.2H135.5V262.1H136.0V262.2H137.0V262.1H137.5V262.2H138.5V262.3H139.0V262.4H139.5V262.5H141.5V262.6H142.0V262.7H142.5V262.6H143.0V262.7H145.5V262.8H146.0V262.7H152.5V262.8H153.0V262.7H154.9V262.8Z" fill="#16166c"/>
<text x="65.40" y="269.84" font-size="6.5" text-anchor="end" fill="#111" stroke="#111" stroke-width="0.14" textLength="50.3" lengthAdjust="spacingAndGlyphs">SUPB15 ATAC ctrl</text>
<rect x="69.20" y="263.30" width="1.00" height="1.00" fill="#888"/>
<rect x="71.50" y="263.30" width="2.40" height="1.00" fill="#999"/>
<rect x="69.00" y="270.86" width="85.90" height="0.90" fill="#cfe6ff"/>
<path d="M69.0,271.8V271.7H73.5V271.6H74.0V271.7H77.5V271.3H78.0V271.5H78.5V271.7H81.5V271.6H82.0V271.7H85.5V271.6H86.0V271.2H86.5V271.5H87.0V271.7H88.5V271.4H89.0V271.6H89.5V271.7H95.0V271.6H95.5V271.7H98.0V271.5H98.5V271.3H99.0V271.6H99.5V271.7H123.0V271.5H123.5V271.4H124.0V271.7H127.0V271.6H128.0V271.7H130.5V271.6H132.5V271.5H133.0V271.4H134.0V271.2H135.0V271.3H135.5V271.1H136.0V271.0H136.5V271.1H137.5V271.0H138.0V271.1H139.0V271.2H139.5V271.3H140.0V271.4H141.0V271.5H142.5V271.6H143.5V271.7H150.5V271.6H151.0V271.7H154.0V271.6H154.5V271.7H154.9V271.8Z" fill="#8cc6ff"/>
<text x="65.40" y="278.88" font-size="6.5" text-anchor="end" fill="#111" stroke="#111" stroke-width="0.14" textLength="57.2" lengthAdjust="spacingAndGlyphs">SUPB15 ATAC LASP</text>
<rect x="69.20" y="272.26" width="1.00" height="1.00" fill="#888"/>
<rect x="71.50" y="272.26" width="2.40" height="1.00" fill="#999"/>
<rect x="69.00" y="279.62" width="85.90" height="1.10" fill="#2c3466"/>
<path d="M69.0,280.7V280.6H69.5V280.7H70.0V280.6H76.0V280.7H77.0V280.6H78.0V280.7H78.5V280.6H79.0V280.7H79.5V280.6H80.5V280.7H81.0V280.6H84.0V280.4H84.5V280.3H85.0V280.6H86.0V280.7H86.5V280.6H89.5V280.7H90.0V280.6H91.5V280.7H93.0V280.6H93.5V280.5H94.0V280.4H94.5V280.7H95.5V280.6H96.0V280.7H96.5V280.6H98.0V280.7H98.5V280.6H100.0V280.7H101.0V280.6H103.0V280.7H103.5V280.6H104.5V280.7H106.0V280.6H106.5V280.7H107.0V280.6H107.5V280.7H108.0V280.6H108.5V280.7H109.5V280.6H110.5V280.7H111.5V280.6H112.0V280.7H112.5V280.6H114.0V280.7H115.0V280.6H116.0V280.7H116.5V280.4H117.0V280.1H117.5V280.6H118.0V280.7H118.5V280.6H121.0V280.7H121.5V280.6H122.5V280.7H123.0V280.6H132.0V280.4H133.0V280.5H134.0V280.3H135.0V280.1H136.0V280.0H136.5V279.8H137.0V279.9H137.5V279.8H138.0V279.9H138.5V279.7H139.0V280.2H139.5V280.3H140.0V280.4H140.5V280.5H142.0V280.6H143.0V280.7H143.5V280.6H145.0V280.7H145.5V280.6H148.0V280.7H148.5V280.6H149.5V280.7H150.0V280.6H152.0V280.7H153.0V280.6H154.0V280.7H154.5V280.6H154.9V280.7Z" fill="#1468ff"/>
<line x1="69.50" y1="282.20" x2="154.50" y2="282.20" stroke="#b4b4f0" stroke-width="0.6"/>
<rect x="71.65" y="281.85" width="0.70" height="0.70" fill="#5a5ae0"/>
<rect x="76.65" y="281.85" width="0.70" height="0.70" fill="#5a5ae0"/>
<rect x="81.65" y="281.85" width="0.70" height="0.70" fill="#5a5ae0"/>
<rect x="86.65" y="281.85" width="0.70" height="0.70" fill="#5a5ae0"/>
<rect x="91.65" y="281.85" width="0.70" height="0.70" fill="#5a5ae0"/>
<rect x="96.65" y="281.85" width="0.70" height="0.70" fill="#5a5ae0"/>
<rect x="101.65" y="281.85" width="0.70" height="0.70" fill="#5a5ae0"/>
<rect x="106.65" y="281.85" width="0.70" height="0.70" fill="#5a5ae0"/>
<rect x="111.65" y="281.85" width="0.70" height="0.70" fill="#5a5ae0"/>
<rect x="116.65" y="281.85" width="0.70" height="0.70" fill="#5a5ae0"/>
<rect x="121.65" y="281.85" width="0.70" height="0.70" fill="#5a5ae0"/>
<rect x="126.65" y="281.85" width="0.70" height="0.70" fill="#5a5ae0"/>
<rect x="131.65" y="281.85" width="0.70" height="0.70" fill="#5a5ae0"/>
<rect x="136.65" y="281.85" width="0.70" height="0.70" fill="#5a5ae0"/>
<rect x="141.65" y="281.85" width="0.70" height="0.70" fill="#5a5ae0"/>
<rect x="146.65" y="281.85" width="0.70" height="0.70" fill="#5a5ae0"/>
<rect x="151.65" y="281.85" width="0.70" height="0.70" fill="#5a5ae0"/>
<rect x="136.60" y="281.50" width="1.40" height="1.40" fill="#1a1ab8"/>
<text x="102.60" y="286.60" font-size="2.7" text-anchor="middle" fill="#2a2a2a" stroke="#2a2a2a" stroke-width="0.2">ASNS</text>
<rect x="68.50" y="208.70" width="86.90" height="78.20" fill="none" stroke="#a8a8a8" stroke-width="0.9"/>
<line x1="68.50" y1="208.70" x2="68.50" y2="286.90" stroke="#9a9a9a" stroke-width="0.9"/>
<text x="262.40" y="193.00" font-size="7.2" text-anchor="start" fill="#111" stroke="#111" stroke-width="0.12" font-style="italic" textLength="20.4" lengthAdjust="spacing">BBC3</text>
<text x="215.00" y="201.20" font-size="7.1" text-anchor="start" fill="#111" stroke="#111" stroke-width="0.1" textLength="115.5" lengthAdjust="spacing">chr19:47,722,446-47,741,582 (hg19)</text>
<rect x="239.20" y="208.70" width="87.10" height="78.30" fill="#f8f8f8"/>
<text x="235.90" y="215.60" font-size="6.5" text-anchor="end" fill="#111" stroke="#111" stroke-width="0.14" textLength="42.1" lengthAdjust="spacingAndGlyphs">Nalm6 ATF4 ctrl</text>
<rect x="239.90" y="209.54" width="1.00" height="1.00" fill="#888"/>
<rect x="242.20" y="209.54" width="2.40" height="1.00" fill="#999"/>
<rect x="239.70" y="217.10" width="86.10" height="0.90" fill="#f0c6d0"/>
<path d="M239.7,218.0V217.9H241.7V218.0H242.2V217.9H243.7V218.0H244.2V217.9H244.7V218.0H245.2V217.9H246.7V218.0H247.2V217.8H247.7V217.4H248.2V217.6H248.7V217.9H249.2V218.0H249.7V217.9H252.2V218.0H252.7V217.9H253.2V218.0H254.7V217.9H256.7V217.8H257.2V217.1H257.7V217.7H258.2V217.9H264.2V218.0H264.7V217.9H265.7V218.0H266.2V217.9H269.7V217.8H270.2V217.1H270.7V215.1H271.2V213.2H271.7V211.8H272.2V210.7H272.7V212.4H273.2V210.6H273.7V211.9H274.2V212.3H274.7V215.3H275.2V216.5H275.7V217.0H276.2V217.2H276.7V216.9H277.2V216.8H277.7V216.9H278.7V217.0H279.7V216.7H280.2V216.9H280.7V217.4H281.2V217.5H281.7V217.8H282.2V217.9H285.7V217.5H286.2V217.7H286.7V217.9H287.2V218.0H287.7V217.9H288.7V217.8H289.2V217.7H289.7V217.4H290.2V216.9H290.7V216.2H291.2V215.9H291.7V215.1H292.2V215.2H292.7V215.8H293.2V216.0H293.7V216.1H294.2V216.3H294.7V215.3H295.2V215.0H295.7V215.5H296.2V216.2H296.7V216.7H297.2V216.9H297.7V217.1H298.2V217.4H298.7V217.3H299.2V217.4H299.7V217.5H300.2V217.4H300.7V217.5H301.7V217.8H302.7V217.9H304.7V218.0H305.2V217.9H306.7V218.0H307.7V217.9H308.2V218.0H308.7V217.9H313.2V218.0H313.7V217.9H315.7V218.0H316.2V217.9H319.2V218.0H319.7V217.9H321.2V218.0H321.7V217.9H322.2V218.0H322.7V217.9H323.7V218.0H324.7V217.9H325.8V218.0Z" fill="#d20f2c"/>
<text x="235.90" y="224.64" font-size="6.5" text-anchor="end" fill="#111" stroke="#111" stroke-width="0.14" textLength="49.0" lengthAdjust="spacingAndGlyphs">Nalm6 ATF4 LASP</text>
<rect x="239.90" y="218.50" width="1.00" height="1.00" fill="#888"/>
<rect x="242.20" y="218.50" width="2.40" height="1.00" fill="#999"/>
<rect x="239.70" y="226.06" width="86.10" height="0.90" fill="#d6b8bc"/>
<path d="M239.7,227.0V226.9H240.7V226.8H241.2V226.9H241.7V226.8H242.2V226.9H245.2V226.8H245.7V226.9H247.7V226.8H248.2V226.9H249.2V226.8H249.7V226.9H250.2V226.8H250.7V226.3H251.2V226.7H251.7V226.8H252.2V226.9H254.2V226.8H254.7V226.9H256.7V226.8H257.2V226.9H258.2V226.7H258.7V226.8H259.2V226.9H260.2V226.8H260.7V226.9H263.2V226.8H263.7V226.9H264.2V226.8H264.7V226.9H265.2V226.8H266.2V226.9H269.7V226.8H270.2V226.6H270.7V225.9H271.2V223.2H271.7V219.7H272.2V218.8H273.2V221.7H273.7V221.1H274.2V223.4H274.7V224.8H275.2V225.9H275.7V225.7H276.2V226.0H276.7V225.8H277.2V226.1H277.7V225.7H278.2V225.9H278.7V225.8H279.2V225.9H279.7V225.8H280.2V226.0H280.7V226.3H281.2V226.4H281.7V226.6H282.2V226.7H282.7V226.5H283.2V226.4H283.7V226.9H287.7V226.8H288.7V226.6H289.2V226.4H289.7V225.8H290.2V225.2H290.7V224.4H291.2V223.4H291.7V224.1H292.2V223.5H292.7V224.0H293.7V224.1H294.2V223.9H294.7V224.1H295.2V224.3H295.7V224.4H296.2V225.5H296.7V225.8H297.2V226.2H297.7V226.4H299.2V226.2H299.7V226.0H300.2V226.1H300.7V226.2H301.2V226.1H301.7V226.3H302.2V226.5H302.7V226.7H303.7V226.8H304.2V226.9H305.2V226.8H306.2V226.9H308.2V226.8H308.7V226.9H310.7V226.5H311.2V226.6H311.7V226.8H312.2V226.9H313.7V226.8H314.7V226.9H315.7V226.8H316.2V226.9H317.7V226.8H318.2V226.6H318.7V226.8H319.2V226.9H320.7V226.8H321.2V226.9H322.2V226.8H322.7V226.9H323.2V226.8H323.7V226.9H324.2V226.8H324.7V226.9H325.8V227.0Z" fill="#6e0a12"/>
<text x="235.90" y="233.68" font-size="6.5" text-anchor="end" fill="#111" stroke="#111" stroke-width="0.14" textLength="43.2" lengthAdjust="spacingAndGlyphs">Nalm6 ATAC ctrl</text>
<rect x="239.90" y="227.46" width="1.00" height="1.00" fill="#888"/>
<rect x="242.20" y="227.46" width="2.40" height="1.00" fill="#999"/>
<rect x="239.70" y="235.02" width="86.10" height="0.90" fill="#ffd6d6"/>
<path d="M239.7,235.9V235.8H240.7V235.9H241.2V235.8H242.2V235.9H242.7V235.8H243.2V235.9H244.7V235.8H245.2V235.9H245.7V235.8H246.2V235.9H247.2V235.8H248.2V235.9H248.7V235.8H249.2V235.9H249.7V235.8H251.7V235.9H252.2V235.8H253.2V235.7H253.7V235.4H254.2V235.7H254.7V235.8H255.7V235.9H256.2V235.8H258.2V235.9H258.7V235.8H259.7V235.9H260.2V235.8H261.7V235.5H262.2V235.7H262.7V235.8H264.2V235.9H264.7V235.8H266.7V235.9H267.7V235.5H268.2V235.6H268.7V235.8H269.7V235.7H270.2V235.4H270.7V234.1H271.2V230.2H271.7V228.6H272.2V229.2H272.7V230.4H273.2V232.1H273.7V233.2H274.2V233.6H274.7V234.0H275.2V234.2H275.7V234.6H276.2V234.7H276.7V234.4H277.2V234.3H277.7V234.4H278.2V234.2H278.7V234.5H279.7V234.3H281.2V234.5H281.7V234.3H282.2V234.2H282.7V234.4H283.2V234.1H283.7V234.2H284.2V234.3H284.7V234.4H285.2V234.2H286.2V234.3H287.2V234.6H288.2V234.7H288.7V234.8H289.2V234.7H289.7V234.6H290.7V233.8H291.2V232.0H291.7V232.1H292.2V232.8H292.7V233.8H293.2V235.0H294.2V233.5H294.7V231.4H295.2V231.0H295.7V230.3H296.2V231.6H296.7V233.2H297.2V234.8H297.7V235.2H298.2V235.5H298.7V235.7H299.2V235.8H299.7V235.7H300.2V235.5H300.7V235.1H301.2V235.0H301.7V235.2H302.2V235.5H302.7V235.8H303.7V235.9H304.2V235.8H305.7V235.9H306.2V235.8H307.2V235.9H307.7V235.8H309.2V235.9H310.7V235.8H311.2V235.4H311.7V235.6H312.2V235.8H312.7V235.9H313.2V235.8H314.2V235.9H315.2V235.8H315.7V235.9H316.7V235.8H318.2V235.9H318.7V235.8H320.2V235.6H321.2V235.8H323.2V235.9H323.7V235.8H324.7V235.9H325.2V235.8H325.8V235.9Z" fill="#ff8a8a"/>
<text x="235.90" y="242.72" font-size="6.5" text-anchor="end" fill="#111" stroke="#111" stroke-width="0.14" textLength="50.1" lengthAdjust="spacingAndGlyphs">Nalm6 ATAC LASP</text>
<rect x="239.90" y="236.42" width="1.00" height="1.00" fill="#888"/>
<rect x="242.20" y="236.42" width="2.40" height="1.00" fill="#999"/>
<rect x="239.70" y="243.98" width="86.10" height="0.90" fill="#ffbcd4"/>
<path d="M239.7,244.9V244.8H241.2V244.7H241.7V244.8H250.7V244.7H251.2V244.6H251.7V244.5H252.2V244.8H253.2V244.7H253.7V244.8H255.7V244.7H256.2V244.8H256.7V244.7H257.2V244.8H257.7V244.7H258.2V244.4H258.7V244.7H259.2V244.8H259.7V244.7H260.2V244.8H263.7V244.7H264.7V244.8H267.2V244.7H267.7V244.8H268.2V244.7H270.2V244.3H270.7V242.7H271.2V239.1H271.7V238.1H272.2V236.7H272.7V239.1H273.2V239.6H273.7V240.0H274.2V240.5H274.7V241.2H275.2V242.5H275.7V242.8H276.2V243.0H276.7V243.2H277.7V243.1H278.2V242.8H278.7V242.6H279.2V243.1H279.7V242.8H280.2V242.5H280.7V243.1H281.2V242.4H281.7V242.2H282.2V242.9H282.7V242.8H283.2V242.6H283.7V242.9H284.2V242.7H284.7V243.0H285.2V243.1H285.7V242.6H286.7V243.0H287.2V243.2H287.7V242.8H288.2V243.1H288.7V243.3H289.2V243.5H289.7V243.3H290.2V243.1H290.7V241.6H291.2V240.2H291.7V239.2H292.2V240.2H292.7V242.3H293.2V243.9H293.7V243.7H294.2V242.1H294.7V240.0H295.2V239.0H295.7V239.4H296.2V241.0H296.7V242.3H297.2V242.4H297.7V243.5H298.2V243.7H298.7V244.3H299.2V244.5H299.7V244.6H300.2V244.4H300.7V243.9H301.2V243.7H302.2V244.4H302.7V244.6H303.2V244.7H304.2V244.8H306.7V244.7H307.2V244.8H309.2V244.7H309.7V244.8H311.2V244.7H311.7V244.8H314.7V244.7H315.7V244.8H316.7V244.7H317.2V244.8H318.7V244.7H319.2V244.8H320.2V244.7H320.7V244.8H321.2V244.7H321.7V244.8H322.2V244.7H323.2V244.8H323.7V244.7H324.7V244.8H325.7V244.7H325.8V244.9Z" fill="#ff1060"/>
<text x="235.90" y="251.76" font-size="6.5" text-anchor="end" fill="#111" stroke="#111" stroke-width="0.14" textLength="49.2" lengthAdjust="spacingAndGlyphs">SUPB15 ATF4 ctrl</text>
<rect x="239.90" y="245.38" width="1.00" height="1.00" fill="#888"/>
<rect x="242.20" y="245.38" width="2.40" height="1.00" fill="#999"/>
<rect x="239.70" y="252.94" width="86.10" height="0.90" fill="#bcbcee"/>
<path d="M239.7,253.8V253.7H240.2V253.8H240.7V253.7H241.7V253.6H242.2V253.7H243.2V253.6H244.2V253.7H245.2V253.6H245.7V253.4H246.2V253.2H246.7V253.3H247.7V253.7H250.7V253.6H251.2V253.7H252.2V253.6H252.7V253.7H253.2V253.6H253.7V253.7H254.2V253.6H254.7V253.7H260.7V253.8H261.2V253.7H261.7V253.8H262.2V253.7H262.7V253.6H263.2V253.7H263.7V253.8H264.2V253.6H265.2V253.4H265.7V253.2H266.2V253.6H266.7V253.7H268.2V253.6H269.2V253.7H269.7V253.6H270.7V253.4H271.2V253.1H271.7V252.5H272.2V252.3H272.7V252.2H273.2V252.9H273.7V253.1H274.2V253.2H275.7V253.1H276.2V253.0H276.7V253.1H277.7V253.0H278.7V252.9H280.7V252.8H282.7V253.0H283.2V252.9H283.7V252.7H284.2V252.8H284.7V252.9H285.2V253.0H285.7V252.9H286.7V252.8H287.2V252.5H287.7V252.8H288.2V252.9H289.7V253.0H290.7V252.9H292.2V253.0H292.7V252.8H293.2V252.9H293.7V253.1H294.2V252.8H295.2V253.2H295.7V253.0H296.2V253.1H296.7V253.3H297.2V253.2H298.2V253.3H299.2V253.5H300.2V253.3H300.7V253.4H301.2V253.7H302.2V253.6H303.2V253.8H303.7V253.7H305.2V253.6H305.7V253.7H306.2V253.6H307.7V253.7H308.2V253.8H308.7V253.7H310.7V253.6H312.2V253.7H318.7V253.6H319.2V253.7H320.2V253.6H320.7V253.8H321.2V253.6H321.7V253.8H322.7V253.6H323.2V253.7H325.8V253.8Z" fill="#2828c4"/>
<text x="235.90" y="260.80" font-size="6.5" text-anchor="end" fill="#111" stroke="#111" stroke-width="0.14" textLength="56.1" lengthAdjust="spacingAndGlyphs">SUPB15 ATF4 LASP</text>
<rect x="239.90" y="254.34" width="1.00" height="1.00" fill="#888"/>
<rect x="242.20" y="254.34" width="2.40" height="1.00" fill="#999"/>
<rect x="239.70" y="261.90" width="86.10" height="0.90" fill="#ababcc"/>
<path d="M239.7,262.8V262.6H240.2V262.7H241.2V262.6H241.7V262.7H244.7V262.6H247.7V262.7H249.2V262.6H250.2V262.7H251.7V262.6H253.2V262.7H254.2V262.6H254.7V262.7H256.2V262.4H257.2V262.6H259.7V262.7H261.2V262.6H262.2V262.7H262.7V262.6H265.7V262.7H266.2V262.6H266.7V262.7H267.2V262.6H267.7V262.7H268.7V262.5H269.2V262.3H269.7V262.5H270.7V262.4H271.2V261.8H271.7V261.5H272.2V260.5H272.7V261.0H273.2V261.8H274.2V262.0H274.7V261.9H275.2V261.8H276.7V261.9H277.2V261.8H278.2V261.9H278.7V261.6H279.2V261.8H280.7V261.9H281.2V261.6H281.7V261.8H282.2V261.7H283.2V261.8H283.7V261.6H284.2V261.9H284.7V261.7H285.7V261.5H286.2V261.6H286.7V261.4H287.2V261.7H287.7V261.8H288.2V261.7H288.7V261.8H290.7V261.6H291.2V261.5H291.7V261.4H292.2V261.5H292.7V261.6H293.2V261.7H293.7V261.6H294.7V261.7H295.7V261.8H296.7V261.9H297.7V262.2H298.7V262.3H299.2V262.4H299.7V262.5H300.7V262.6H301.7V262.5H302.2V262.7H302.7V262.6H304.7V262.3H305.2V262.6H305.7V262.7H306.2V262.6H306.7V262.7H308.2V262.6H308.7V262.7H309.7V262.6H310.2V262.7H310.7V262.5H311.2V262.6H313.2V262.7H315.2V262.6H315.7V262.7H317.2V262.6H318.7V262.7H320.2V262.6H321.2V262.7H322.7V262.6H323.2V262.7H324.2V262.6H325.2V262.7H325.8V262.8Z" fill="#16166c"/>
<text x="235.90" y="269.84" font-size="6.5" text-anchor="end" fill="#111" stroke="#111" stroke-width="0.14" textLength="50.3" lengthAdjust="spacingAndGlyphs">SUPB15 ATAC ctrl</text>
<rect x="239.90" y="263.30" width="1.00" height="1.00" fill="#888"/>
<rect x="242.20" y="263.30" width="2.40" height="1.00" fill="#999"/>
<rect x="239.70" y="270.86" width="86.10" height="0.90" fill="#cfe6ff"/>
<path d="M239.7,271.8V271.7H242.2V271.6H244.7V271.5H246.2V271.4H246.7V271.5H247.2V271.4H248.2V271.3H249.2V270.9H250.2V271.2H250.7V271.3H251.2V271.1H252.2V271.3H252.7V271.1H253.7V271.2H256.2V271.3H256.7V271.1H259.7V271.0H260.2V271.1H262.2V271.3H262.7V271.2H263.2V271.1H263.7V271.3H264.2V271.2H265.2V271.3H265.7V271.2H266.2V271.3H267.7V271.4H269.2V271.5H269.7V271.4H270.2V271.1H270.7V269.9H271.2V266.8H271.7V263.9H272.2V264.6H272.7V266.1H273.2V267.5H273.7V267.9H274.2V268.1H274.7V268.7H275.2V269.0H275.7V269.6H276.2V269.4H276.7V269.8H277.2V269.1H278.2V269.5H279.2V269.4H279.7V269.3H280.2V269.0H280.7V269.2H281.7V268.9H282.2V268.6H282.7V268.7H283.2V268.6H283.7V269.3H284.2V268.6H284.7V269.0H285.2V269.2H285.7V269.4H286.2V269.2H286.7V269.1H287.2V269.5H287.7V269.6H288.2V269.8H288.7V269.3H289.2V269.4H289.7V269.6H290.2V270.1H291.2V270.0H292.2V268.4H292.7V268.1H293.2V268.3H293.7V269.5H294.2V269.3H294.7V267.5H295.2V265.5H295.7V266.1H296.2V267.1H296.7V269.2H297.2V270.0H297.7V270.8H298.2V271.2H298.7V271.4H299.2V271.6H300.7V271.4H301.2V271.0H301.7V270.8H302.2V270.9H302.7V271.2H303.2V271.5H303.7V271.6H305.2V271.7H305.7V271.6H306.2V271.7H306.7V271.6H308.7V271.7H309.7V271.5H310.2V271.3H310.7V271.6H312.7V271.7H313.2V271.6H314.2V271.3H314.7V271.4H315.2V271.6H316.2V271.7H318.2V271.6H318.7V271.7H319.2V271.6H319.7V271.7H324.2V271.6H324.7V271.7H325.8V271.8Z" fill="#8cc6ff"/>
<text x="235.90" y="278.88" font-size="6.5" text-anchor="end" fill="#111" stroke="#111" stroke-width="0.14" textLength="57.2" lengthAdjust="spacingAndGlyphs">SUPB15 ATAC LASP</text>
<rect x="239.90" y="272.26" width="1.00" height="1.00" fill="#888"/>
<rect x="242.20" y="272.26" width="2.40" height="1.00" fill="#999"/>
<rect x="239.70" y="279.82" width="86.10" height="0.90" fill="#b4ccff"/>
<path d="M239.7,280.7V280.6H242.7V280.5H245.2V280.4H245.7V280.3H247.7V280.2H248.7V280.3H249.2V280.1H249.7V280.2H250.7V280.0H251.2V279.9H251.7V280.1H252.2V280.0H254.7V280.1H255.2V280.0H255.7V279.9H256.2V280.1H256.7V280.0H257.7V279.9H258.7V280.0H259.2V280.1H259.7V280.0H260.2V280.1H260.7V280.0H262.7V280.1H263.2V280.0H263.7V280.1H264.2V280.0H264.7V280.1H265.2V279.6H265.7V279.9H266.2V280.2H267.2V280.1H267.7V280.3H268.2V280.2H268.7V280.3H269.2V280.2H270.2V280.0H270.7V278.4H271.2V276.2H271.7V272.6H272.2V272.5H272.7V273.9H273.7V276.3H274.2V276.8H274.7V276.9H275.2V277.2H275.7V278.3H276.2V278.1H276.7V277.7H277.2V277.9H277.7V278.2H278.2V278.0H278.7V278.1H279.2V278.2H279.7V277.6H280.2V277.8H280.7V278.0H281.2V278.2H281.7V277.4H282.2V277.3H282.7V277.5H283.2V277.8H283.7V277.6H284.2V277.8H284.7V277.3H285.2V277.7H285.7V277.9H286.7V277.7H287.2V277.8H287.7V277.2H288.2V278.0H288.7V278.5H289.2V278.2H289.7V278.4H290.2V278.5H290.7V279.0H291.2V278.6H291.7V278.0H292.2V276.9H292.7V276.5H293.2V276.4H293.7V278.6H294.7V276.0H295.2V272.9H295.7V273.4H296.2V275.8H296.7V277.1H297.2V278.8H297.7V279.4H298.2V280.2H298.7V280.5H299.2V280.6H300.2V280.3H300.7V279.7H301.2V279.3H301.7V279.0H302.2V279.6H302.7V280.0H303.2V280.4H303.7V280.6H305.2V280.5H305.7V280.7H306.7V280.6H307.2V280.7H307.7V280.6H310.7V280.7H311.2V280.6H312.2V280.7H312.7V280.6H315.7V280.4H316.2V280.2H316.7V280.5H317.2V280.6H318.2V280.5H318.7V280.6H319.2V280.7H319.7V280.5H320.2V280.6H321.2V280.7H321.7V280.6H325.8V280.7Z" fill="#1468ff"/>
<line x1="251.80" y1="282.40" x2="302.00" y2="282.40" stroke="#b4b4f0" stroke-width="0.6"/>
<rect x="253.95" y="282.05" width="0.70" height="0.70" fill="#5a5ae0"/>
<rect x="258.95" y="282.05" width="0.70" height="0.70" fill="#5a5ae0"/>
<rect x="263.95" y="282.05" width="0.70" height="0.70" fill="#5a5ae0"/>
<rect x="268.95" y="282.05" width="0.70" height="0.70" fill="#5a5ae0"/>
<rect x="273.95" y="282.05" width="0.70" height="0.70" fill="#5a5ae0"/>
<rect x="278.95" y="282.05" width="0.70" height="0.70" fill="#5a5ae0"/>
<rect x="283.95" y="282.05" width="0.70" height="0.70" fill="#5a5ae0"/>
<rect x="288.95" y="282.05" width="0.70" height="0.70" fill="#5a5ae0"/>
<rect x="293.95" y="282.05" width="0.70" height="0.70" fill="#5a5ae0"/>
<rect x="298.95" y="282.05" width="0.70" height="0.70" fill="#5a5ae0"/>
<rect x="247.10" y="281.50" width="5.10" height="1.80" fill="#1a1ab8"/>
<rect x="273.30" y="281.60" width="1.00" height="1.60" fill="#1a1ab8"/>
<rect x="280.80" y="281.60" width="1.00" height="1.60" fill="#1a1ab8"/>
<rect x="293.70" y="281.60" width="1.00" height="1.60" fill="#1a1ab8"/>
<rect x="300.70" y="281.60" width="1.00" height="1.60" fill="#1a1ab8"/>
<text x="271.10" y="286.60" font-size="2.7" text-anchor="middle" fill="#2a2a2a" stroke="#2a2a2a" stroke-width="0.2">BBC3</text>
<rect x="239.20" y="208.70" width="87.10" height="78.30" fill="none" stroke="#a8a8a8" stroke-width="0.9"/>
<line x1="239.20" y1="208.70" x2="239.20" y2="287.00" stroke="#9a9a9a" stroke-width="0.9"/>
<text x="429.70" y="193.00" font-size="7.2" text-anchor="start" fill="#111" stroke="#111" stroke-width="0.12" font-style="italic" textLength="26.3" lengthAdjust="spacing">CCPG1</text>
<text x="385.00" y="201.20" font-size="7.1" text-anchor="start" fill="#111" stroke="#111" stroke-width="0.1" textLength="116.3" lengthAdjust="spacing">chr15:55,687,730-55,706,891 (hg19)</text>
<rect x="409.80" y="208.40" width="86.60" height="78.20" fill="#f8f8f8"/>
<text x="405.90" y="215.60" font-size="6.5" text-anchor="end" fill="#111" stroke="#111" stroke-width="0.14" textLength="42.1" lengthAdjust="spacingAndGlyphs">Nalm6 ATF4 ctrl</text>
<rect x="410.50" y="209.54" width="1.00" height="1.00" fill="#888"/>
<rect x="412.80" y="209.54" width="2.40" height="1.00" fill="#999"/>
<rect x="410.30" y="217.10" width="85.60" height="0.90" fill="#f0c6d0"/>
<path d="M410.3,218.0V218.0H410.8V217.9H412.8V217.8H413.3V217.5H413.8V217.8H414.3V217.9H418.3V218.0H418.8V217.9H420.8V218.0H421.8V217.9H422.8V218.0H423.3V217.9H423.8V218.0H424.3V217.9H424.8V218.0H425.3V217.9H426.3V217.8H426.8V217.6H427.3V217.9H429.8V217.8H430.3V217.6H430.8V217.9H431.3V218.0H432.3V217.9H432.8V218.0H433.3V217.9H433.8V218.0H434.3V217.9H434.8V218.0H435.8V217.9H436.8V218.0H437.8V217.9H438.3V218.0H439.8V217.9H441.3V218.0H441.8V217.9H444.8V217.8H445.3V217.5H445.8V217.2H446.3V216.7H447.3V216.9H447.8V217.2H448.3V217.5H448.8V217.7H449.3V217.9H452.3V218.0H452.8V217.9H453.3V218.0H453.8V217.9H455.3V218.0H456.3V217.9H456.8V218.0H457.3V217.9H458.8V218.0H459.3V217.9H459.8V218.0H460.8V217.9H461.8V218.0H463.3V217.9H465.3V217.8H465.8V217.6H466.3V217.5H466.8V217.2H467.3V216.9H468.3V215.9H468.8V216.4H469.3V217.3H469.8V217.5H470.3V217.6H470.8V217.8H471.8V217.9H474.3V218.0H475.3V217.9H476.8V218.0H477.8V217.9H478.3V218.0H478.8V217.9H479.3V218.0H479.8V217.9H480.3V218.0H480.8V217.9H481.8V218.0H482.8V217.9H483.3V218.0H484.3V217.9H484.8V218.0H485.3V217.9H486.3V218.0H486.8V217.9H487.8V218.0H488.3V217.9H488.8V218.0H489.3V217.9H490.3V218.0H490.8V217.9H491.3V218.0H491.8V217.9H493.3V218.0H493.8V217.9H495.3V218.0H495.9V218.0Z" fill="#d20f2c"/>
<text x="405.90" y="224.64" font-size="6.5" text-anchor="end" fill="#111" stroke="#111" stroke-width="0.14" textLength="49.0" lengthAdjust="spacingAndGlyphs">Nalm6 ATF4 LASP</text>
<rect x="410.50" y="218.50" width="1.00" height="1.00" fill="#888"/>
<rect x="412.80" y="218.50" width="2.40" height="1.00" fill="#999"/>
<rect x="410.30" y="226.06" width="85.60" height="0.90" fill="#d6b8bc"/>
<path d="M410.3,227.0V226.9H438.8V226.8H439.3V226.9H439.8V226.8H440.8V226.7H441.3V226.5H442.3V226.2H442.8V225.7H443.3V225.5H443.8V224.7H444.3V223.6H444.8V222.7H445.3V222.9H445.8V221.6H446.3V218.8H446.8V219.0H447.3V219.7H447.8V221.3H448.3V222.7H448.8V224.6H449.3V225.7H449.8V226.2H450.3V226.4H451.3V226.5H451.8V226.6H452.8V226.8H453.3V226.7H453.8V226.6H454.3V226.8H455.3V226.9H464.8V226.8H465.3V226.7H465.8V226.5H466.3V226.1H466.8V225.7H467.3V225.4H467.8V225.2H468.3V225.4H468.8V225.5H469.8V225.8H470.3V226.1H470.8V226.5H471.3V226.4H471.8V226.5H472.3V226.9H479.8V226.7H480.3V226.6H480.8V226.9H486.3V226.8H486.8V226.3H487.3V226.8H487.8V226.9H495.9V227.0Z" fill="#6e0a12"/>
<text x="405.90" y="233.68" font-size="6.5" text-anchor="end" fill="#111" stroke="#111" stroke-width="0.14" textLength="43.2" lengthAdjust="spacingAndGlyphs">Nalm6 ATAC ctrl</text>
<rect x="410.50" y="227.46" width="1.00" height="1.00" fill="#888"/>
<rect x="412.80" y="227.46" width="2.40" height="1.00" fill="#999"/>
<rect x="410.30" y="235.02" width="85.60" height="0.90" fill="#ffd6d6"/>
<path d="M410.3,235.9V235.9H413.8V235.8H414.3V235.9H416.3V235.8H417.3V235.9H417.8V235.8H418.3V235.9H418.8V235.8H420.3V235.9H421.8V235.8H422.3V235.9H423.8V235.8H424.3V235.9H426.3V235.8H427.3V235.9H427.8V235.8H428.3V235.9H428.8V235.8H429.8V235.9H430.8V235.8H431.3V235.9H431.8V235.8H432.3V235.9H432.8V235.8H433.3V235.9H434.3V235.7H435.3V235.9H442.3V235.8H442.8V235.6H443.3V235.4H443.8V235.6H444.3V235.8H445.3V235.7H445.8V235.6H446.3V235.5H447.8V235.7H448.3V235.8H449.3V235.9H451.8V235.8H452.3V235.9H456.3V235.8H457.3V235.9H458.8V235.8H459.3V235.9H461.8V235.8H463.8V235.7H464.8V235.5H465.8V235.2H466.3V235.0H466.8V234.2H467.3V232.2H467.8V230.5H468.3V228.3H468.8V229.1H469.3V228.7H469.8V231.6H470.3V232.6H470.8V234.4H471.3V234.9H471.8V235.3H472.3V235.4H472.8V235.6H473.3V235.7H474.3V235.8H477.3V235.9H477.8V235.8H478.3V235.9H479.3V235.8H479.8V235.9H480.8V235.8H481.3V235.9H483.3V235.8H484.3V235.4H484.8V235.7H485.3V235.8H485.8V235.9H486.3V235.8H487.3V235.9H488.8V235.8H489.3V235.9H491.3V235.8H491.8V235.9H492.3V235.8H493.8V235.9H495.9V235.9Z" fill="#ff8a8a"/>
<text x="405.90" y="242.72" font-size="6.5" text-anchor="end" fill="#111" stroke="#111" stroke-width="0.14" textLength="50.1" lengthAdjust="spacingAndGlyphs">Nalm6 ATAC LASP</text>
<rect x="410.50" y="236.42" width="1.00" height="1.00" fill="#888"/>
<rect x="412.80" y="236.42" width="2.40" height="1.00" fill="#999"/>
<rect x="410.30" y="243.98" width="85.60" height="0.90" fill="#ffbcd4"/>
<path d="M410.3,244.9V244.8H414.3V244.9H414.8V244.8H424.8V244.7H425.3V244.5H425.8V244.8H431.3V244.9H431.8V244.8H434.3V244.9H434.8V244.8H440.8V244.7H441.8V244.5H443.8V244.6H444.3V244.7H445.3V244.5H445.8V244.3H446.3V244.2H446.8V244.1H447.8V244.4H448.3V244.6H448.8V244.7H449.3V244.8H450.3V244.7H450.8V244.4H451.3V244.7H451.8V244.8H454.3V244.9H454.8V244.8H458.3V244.6H459.3V244.8H463.8V244.7H464.3V244.6H464.8V244.5H465.3V244.3H465.8V244.1H466.3V243.5H466.8V242.5H467.3V241.5H467.8V240.5H468.3V238.5H468.8V237.2H469.3V237.4H469.8V240.0H470.3V241.4H470.8V242.9H471.3V243.3H471.8V243.9H472.3V244.4H472.8V244.5H473.3V244.6H473.8V244.7H474.8V244.8H491.3V244.7H491.8V244.4H492.3V244.7H492.8V244.8H495.9V244.9Z" fill="#ff1060"/>
<text x="405.90" y="251.76" font-size="6.5" text-anchor="end" fill="#111" stroke="#111" stroke-width="0.14" textLength="49.2" lengthAdjust="spacingAndGlyphs">SUPB15 ATF4 ctrl</text>
<rect x="410.50" y="245.38" width="1.00" height="1.00" fill="#888"/>
<rect x="412.80" y="245.38" width="2.40" height="1.00" fill="#999"/>
<rect x="410.30" y="252.94" width="85.60" height="0.90" fill="#bcbcee"/>
<path d="M410.3,253.8V253.8H410.8V253.7H411.3V253.8H413.3V253.7H413.8V253.8H414.8V253.7H415.3V253.8H415.8V253.7H416.3V253.8H416.8V253.7H417.8V253.8H419.8V253.7H420.3V253.8H420.8V253.7H421.8V253.8H422.3V253.7H422.8V253.8H423.8V253.7H424.3V253.8H424.8V253.7H425.8V253.8H428.3V253.7H428.8V253.8H431.3V253.7H431.8V253.8H432.8V253.7H433.8V253.8H435.3V253.7H436.3V253.8H439.8V253.7H440.3V253.8H440.8V253.6H441.3V253.5H441.8V253.8H444.8V253.7H445.3V253.8H446.8V253.7H447.3V253.8H448.8V253.7H449.3V253.8H453.3V253.7H453.8V253.8H454.8V253.7H455.3V253.8H456.3V253.7H457.3V253.8H459.8V253.7H460.8V253.8H461.3V253.7H461.8V253.8H463.3V253.7H463.8V253.8H465.3V253.7H465.8V253.4H466.3V253.3H466.8V253.5H467.3V253.4H467.8V253.2H468.3V253.1H468.8V253.2H469.3V253.4H469.8V253.6H470.3V253.7H470.8V253.8H471.8V253.7H472.3V253.4H472.8V253.3H473.3V253.8H473.8V253.7H474.3V253.8H475.3V253.7H475.8V253.8H476.8V253.7H477.3V253.8H479.3V253.7H479.8V253.8H480.3V253.7H480.8V253.8H481.8V253.7H482.8V253.8H483.3V253.7H483.8V253.8H485.3V253.5H485.8V253.4H486.3V253.8H487.3V253.4H487.8V253.5H488.3V253.7H488.8V253.8H489.3V253.7H489.8V253.8H491.3V253.7H491.8V253.8H492.3V253.7H492.8V253.8H495.9V253.8Z" fill="#2828c4"/>
<text x="405.90" y="260.80" font-size="6.5" text-anchor="end" fill="#111" stroke="#111" stroke-width="0.14" textLength="56.1" lengthAdjust="spacingAndGlyphs">SUPB15 ATF4 LASP</text>
<rect x="410.50" y="254.34" width="1.00" height="1.00" fill="#888"/>
<rect x="412.80" y="254.34" width="2.40" height="1.00" fill="#999"/>
<rect x="410.30" y="261.90" width="85.60" height="0.90" fill="#ababcc"/>
<path d="M410.3,262.8V262.7H412.3V262.8H412.8V262.7H413.3V262.8H413.8V262.7H414.3V262.8H415.3V262.7H419.3V262.8H419.8V262.7H423.8V262.8H424.8V262.7H425.3V262.8H426.8V262.7H428.3V262.8H428.8V262.7H431.3V262.8H431.8V262.7H432.3V262.8H432.8V262.7H434.3V262.8H434.8V262.7H435.3V262.8H435.8V262.7H437.8V262.8H438.3V262.7H441.8V262.3H442.3V262.6H442.8V262.7H443.8V262.8H444.8V262.7H447.3V262.8H448.3V262.7H450.8V262.8H451.3V262.7H452.3V262.8H452.8V262.6H453.3V262.1H453.8V262.5H454.3V262.7H454.8V262.8H455.3V262.7H465.8V262.6H466.3V262.4H466.8V262.3H467.3V262.2H467.8V262.1H468.3V262.0H468.8V262.2H469.8V262.3H470.3V262.5H470.8V262.6H471.8V262.7H476.8V262.8H477.3V262.6H477.8V262.3H478.3V262.6H478.8V262.8H479.3V262.7H480.8V262.5H481.8V262.7H483.3V262.5H484.3V262.7H486.3V262.8H486.8V262.7H489.8V262.8H490.3V262.7H490.8V262.8H491.3V262.7H495.9V262.8Z" fill="#16166c"/>
<text x="405.90" y="269.84" font-size="6.5" text-anchor="end" fill="#111" stroke="#111" stroke-width="0.14" textLength="50.3" lengthAdjust="spacingAndGlyphs">SUPB15 ATAC ctrl</text>
<rect x="410.50" y="263.30" width="1.00" height="1.00" fill="#888"/>
<rect x="412.80" y="263.30" width="2.40" height="1.00" fill="#999"/>
<rect x="410.30" y="270.86" width="85.60" height="0.90" fill="#cfe6ff"/>
<path d="M410.3,271.8V271.7H417.8V271.6H418.3V271.5H418.8V271.7H422.3V271.6H422.8V271.4H423.3V271.7H444.3V271.5H444.8V271.3H445.3V271.5H445.8V271.3H446.8V271.1H447.3V271.3H447.8V271.4H448.3V271.6H448.8V271.7H462.3V271.6H464.3V271.4H464.8V271.1H465.3V271.0H465.8V270.9H466.3V270.5H466.8V269.8H467.3V269.0H467.8V267.2H468.3V264.0H468.8V265.9H469.3V265.5H469.8V267.7H470.3V268.9H470.8V270.0H471.3V270.4H471.8V271.1H472.3V271.2H472.8V271.4H473.8V271.5H474.3V271.6H475.3V271.7H478.3V271.6H478.8V271.5H479.3V271.7H495.9V271.8Z" fill="#8cc6ff"/>
<text x="405.90" y="278.88" font-size="6.5" text-anchor="end" fill="#111" stroke="#111" stroke-width="0.14" textLength="57.2" lengthAdjust="spacingAndGlyphs">SUPB15 ATAC LASP</text>
<rect x="410.50" y="272.26" width="1.00" height="1.00" fill="#888"/>
<rect x="412.80" y="272.26" width="2.40" height="1.00" fill="#999"/>
<rect x="410.30" y="279.82" width="85.60" height="0.90" fill="#b4ccff"/>
<path d="M410.3,280.7V280.7H410.8V280.6H411.8V280.7H413.8V280.6H416.3V280.7H417.8V280.6H418.3V280.7H419.8V280.6H420.8V280.7H422.3V280.6H423.3V280.4H423.8V280.3H424.3V280.6H425.3V280.7H425.8V280.6H426.3V280.7H426.8V280.6H427.3V280.7H428.8V280.6H429.3V280.7H430.3V280.6H430.8V280.7H431.8V280.6H432.8V280.7H433.8V280.6H434.3V280.7H434.8V280.6H437.8V280.7H438.3V280.6H439.3V280.7H440.8V280.6H441.3V280.5H441.8V280.2H442.3V280.0H443.3V280.1H443.8V280.3H444.3V280.4H444.8V280.2H445.3V280.3H445.8V280.2H446.3V279.6H446.8V279.4H447.3V279.7H447.8V280.1H448.3V280.6H450.3V280.7H450.8V280.6H451.3V280.7H452.3V280.6H454.3V280.4H454.8V280.3H455.3V280.2H456.3V280.3H456.8V280.4H457.3V280.5H457.8V280.6H458.3V280.7H458.8V280.6H460.3V280.7H460.8V280.6H463.3V280.5H463.8V280.4H464.3V280.3H464.8V280.2H465.3V279.8H465.8V279.7H466.3V278.9H466.8V278.3H467.3V277.4H467.8V275.3H468.3V274.2H468.8V272.5H469.3V273.3H469.8V275.7H470.3V277.6H470.8V278.7H471.3V279.3H471.8V279.9H472.3V280.1H472.8V280.3H473.3V280.4H473.8V280.5H474.8V280.6H475.8V280.5H476.3V280.2H476.8V280.5H477.3V280.6H477.8V280.7H478.8V280.6H479.3V280.7H479.8V280.6H480.8V280.7H481.3V280.5H481.8V280.3H482.3V280.6H482.8V280.7H483.3V280.6H484.3V280.7H485.3V280.6H485.8V280.4H486.3V280.6H486.8V280.7H488.8V280.6H489.8V280.7H490.3V280.6H492.3V280.7H492.8V280.6H493.3V280.7H493.8V280.6H494.8V280.7H495.3V280.6H495.9V280.7Z" fill="#1468ff"/>
<line x1="411.00" y1="282.40" x2="495.50" y2="282.40" stroke="#b4b4f0" stroke-width="0.6"/>
<rect x="413.15" y="282.05" width="0.70" height="0.70" fill="#5a5ae0"/>
<rect x="418.15" y="282.05" width="0.70" height="0.70" fill="#5a5ae0"/>
<rect x="423.15" y="282.05" width="0.70" height="0.70" fill="#5a5ae0"/>
<rect x="428.15" y="282.05" width="0.70" height="0.70" fill="#5a5ae0"/>
<rect x="433.15" y="282.05" width="0.70" height="0.70" fill="#5a5ae0"/>
<rect x="438.15" y="282.05" width="0.70" height="0.70" fill="#5a5ae0"/>
<rect x="443.15" y="282.05" width="0.70" height="0.70" fill="#5a5ae0"/>
<rect x="448.15" y="282.05" width="0.70" height="0.70" fill="#5a5ae0"/>
<rect x="453.15" y="282.05" width="0.70" height="0.70" fill="#5a5ae0"/>
<rect x="458.15" y="282.05" width="0.70" height="0.70" fill="#5a5ae0"/>
<rect x="463.15" y="282.05" width="0.70" height="0.70" fill="#5a5ae0"/>
<rect x="468.15" y="282.05" width="0.70" height="0.70" fill="#5a5ae0"/>
<rect x="473.15" y="282.05" width="0.70" height="0.70" fill="#5a5ae0"/>
<rect x="478.15" y="282.05" width="0.70" height="0.70" fill="#5a5ae0"/>
<rect x="483.15" y="282.05" width="0.70" height="0.70" fill="#5a5ae0"/>
<rect x="488.15" y="282.05" width="0.70" height="0.70" fill="#5a5ae0"/>
<rect x="493.15" y="282.05" width="0.70" height="0.70" fill="#5a5ae0"/>
<rect x="467.00" y="281.75" width="4.60" height="1.30" fill="#1a1ab8"/>
<text x="439.50" y="286.60" font-size="2.7" text-anchor="middle" fill="#2a2a2a" stroke="#2a2a2a" stroke-width="0.2">CCPG1</text>
<text x="483.60" y="286.60" font-size="2.7" text-anchor="middle" fill="#2a2a2a" stroke="#2a2a2a" stroke-width="0.2">C15orf65</text>
<rect x="409.80" y="208.40" width="86.60" height="78.20" fill="none" stroke="#a8a8a8" stroke-width="0.9"/>
<line x1="409.80" y1="208.40" x2="409.80" y2="286.60" stroke="#9a9a9a" stroke-width="0.9"/>
<text x="85.80" y="321.50" font-size="7.2" text-anchor="start" fill="#111" stroke="#111" stroke-width="0.12" font-style="italic" textLength="30.7" lengthAdjust="spacing">SLC7A11</text>
<text x="41.80" y="330.50" font-size="7.1" text-anchor="start" fill="#111" stroke="#111" stroke-width="0.1" textLength="120.2" lengthAdjust="spacing">chr4:139,157,420-139,167,075 (hg19)</text>
<rect x="68.50" y="338.60" width="86.70" height="78.50" fill="#f8f8f8"/>
<text x="65.40" y="345.60" font-size="6.5" text-anchor="end" fill="#111" stroke="#111" stroke-width="0.14" textLength="42.1" lengthAdjust="spacingAndGlyphs">Nalm6 ATF4 ctrl</text>
<rect x="69.20" y="339.46" width="1.00" height="1.00" fill="#888"/>
<rect x="71.50" y="339.46" width="2.40" height="1.00" fill="#999"/>
<rect x="69.00" y="346.80" width="85.70" height="0.90" fill="#f0c6d0"/>
<path d="M69.0,347.7V347.6H71.5V347.7H72.5V347.6H73.0V347.7H73.5V347.6H74.5V347.5H75.0V347.4H75.5V347.6H78.5V347.7H79.0V347.6H79.5V347.7H80.5V347.6H81.0V347.7H81.5V347.6H84.5V347.3H85.5V347.6H87.0V347.7H87.5V347.6H91.0V347.7H91.5V347.6H93.0V347.7H93.5V347.6H94.5V347.7H95.0V347.6H96.5V347.7H97.0V347.6H99.5V347.7H100.0V347.6H102.0V347.7H102.5V347.6H105.0V347.5H105.5V347.3H106.0V347.5H106.5V347.6H110.5V347.7H111.0V347.6H115.0V347.7H115.5V347.6H116.0V347.7H116.5V347.6H119.5V347.5H120.0V347.4H120.5V347.2H121.0V347.0H121.5V346.7H122.0V346.6H122.5V345.7H123.0V344.0H123.5V342.1H124.0V341.6H124.5V341.9H125.0V343.9H125.5V344.7H126.0V345.4H126.5V346.1H127.0V346.5H127.5V346.7H128.0V346.9H128.5V347.0H129.5V347.3H130.5V347.4H131.0V347.5H131.5V347.6H132.0V347.5H132.5V347.6H135.0V347.7H135.5V347.6H136.0V347.7H136.5V347.6H137.5V347.7H138.5V347.6H141.5V347.5H142.0V347.4H142.5V347.3H143.0V347.5H143.5V347.6H146.5V347.7H147.0V347.6H154.5V347.7H154.7V347.7Z" fill="#d20f2c"/>
<text x="65.40" y="354.44" font-size="6.5" text-anchor="end" fill="#111" stroke="#111" stroke-width="0.14" textLength="49.0" lengthAdjust="spacingAndGlyphs">Nalm6 ATF4 LASP</text>
<rect x="69.20" y="348.20" width="1.00" height="1.00" fill="#888"/>
<rect x="71.50" y="348.20" width="2.40" height="1.00" fill="#999"/>
<rect x="69.00" y="355.54" width="85.70" height="0.90" fill="#d6b8bc"/>
<path d="M69.0,356.4V356.4H69.5V356.3H70.5V356.4H72.0V356.3H72.5V356.4H73.0V356.3H74.0V356.4H75.0V356.3H75.5V356.4H76.5V356.3H77.5V356.4H78.0V356.3H79.5V356.4H80.0V356.3H80.5V356.4H81.0V356.3H81.5V356.4H82.0V356.3H82.5V356.4H83.0V356.3H83.5V356.4H84.0V356.3H84.5V356.4H85.0V356.3H86.0V356.4H86.5V356.3H87.0V356.4H89.5V356.3H90.0V356.4H92.0V356.3H93.5V356.0H94.0V356.2H94.5V356.3H95.5V356.4H96.5V356.3H102.5V356.2H105.0V356.1H105.5V356.2H106.0V356.1H107.0V356.0H108.0V355.7H108.5V355.6H109.0V356.0H110.5V355.8H111.0V355.9H111.5V355.3H112.5V355.8H113.0V355.7H113.5V355.6H114.0V355.7H114.5V355.3H115.0V355.5H115.5V355.1H116.0V355.3H116.5V355.1H117.0V354.9H117.5V354.4H118.0V354.7H118.5V354.1H119.0V354.3H119.5V353.8H120.0V353.6H120.5V352.9H121.0V353.1H121.5V352.2H122.0V352.6H122.5V351.4H123.0V350.5H123.5V348.7H124.0V348.2H125.0V349.2H125.5V351.3H126.0V351.5H126.5V353.0H127.0V352.7H127.5V353.7H128.0V354.1H128.5V353.9H129.0V354.4H129.5V354.5H130.0V354.9H130.5V355.0H131.0V355.4H132.0V355.5H132.5V355.9H133.5V356.0H134.0V356.1H134.5V356.2H136.0V356.3H136.5V356.2H137.0V355.7H137.5V355.9H138.0V356.2H138.5V356.3H141.5V356.4H142.0V356.3H142.5V356.4H143.0V356.3H143.5V356.4H144.5V356.3H146.0V356.4H147.0V356.3H149.0V356.4H151.5V356.3H152.5V356.4H154.0V356.3H154.5V356.4H154.7V356.4Z" fill="#6e0a12"/>
<text x="65.40" y="363.28" font-size="6.5" text-anchor="end" fill="#111" stroke="#111" stroke-width="0.14" textLength="43.2" lengthAdjust="spacingAndGlyphs">Nalm6 ATAC ctrl</text>
<rect x="69.20" y="356.94" width="1.00" height="1.00" fill="#888"/>
<rect x="71.50" y="356.94" width="2.40" height="1.00" fill="#999"/>
<rect x="69.00" y="364.28" width="85.70" height="0.90" fill="#ffd6d6"/>
<path d="M69.0,365.2V365.1H77.0V365.0H77.5V364.6H78.0V365.0H78.5V365.1H81.5V364.8H82.0V364.9H82.5V365.1H97.0V364.9H97.5V364.8H98.0V365.1H101.0V364.7H101.5V365.0H102.0V365.1H112.0V364.9H112.5V364.7H113.0V365.1H115.5V365.0H116.0V364.9H117.5V364.8H118.0V364.7H118.5V364.6H119.0V364.5H119.5V364.4H120.5V364.2H121.0V364.3H121.5V364.4H123.0V362.1H123.5V358.9H124.0V358.7H124.5V357.6H125.0V358.6H125.5V361.2H126.0V364.4H126.5V365.0H127.0V365.1H132.5V365.0H133.0V364.8H133.5V364.6H134.5V364.8H135.0V365.0H135.5V365.1H154.7V365.2Z" fill="#ff8a8a"/>
<text x="65.40" y="372.12" font-size="6.5" text-anchor="end" fill="#111" stroke="#111" stroke-width="0.14" textLength="50.1" lengthAdjust="spacingAndGlyphs">Nalm6 ATAC LASP</text>
<rect x="69.20" y="365.68" width="1.00" height="1.00" fill="#888"/>
<rect x="71.50" y="365.68" width="2.40" height="1.00" fill="#999"/>
<rect x="69.00" y="373.02" width="85.70" height="0.90" fill="#ffbcd4"/>
<path d="M69.0,373.9V373.8H72.0V373.9H72.5V373.8H73.5V373.9H74.0V373.8H75.0V373.9H75.5V373.8H77.0V373.9H77.5V373.8H79.0V373.9H79.5V373.8H81.0V373.7H82.0V373.9H82.5V373.7H83.0V373.6H83.5V373.8H86.0V373.9H86.5V373.8H92.0V373.9H93.0V373.8H93.5V373.5H94.0V373.6H94.5V373.8H95.0V373.9H96.5V373.8H102.0V373.9H102.5V373.8H103.5V373.7H104.5V373.8H105.0V373.9H105.5V373.8H106.0V373.9H106.5V373.8H110.0V373.7H110.5V373.8H111.0V373.7H112.0V373.6H113.0V373.5H113.5V373.4H114.0V373.2H115.5V372.9H116.0V373.0H116.5V372.8H117.0V372.7H117.5V372.3H118.0V372.2H118.5V372.0H119.0V371.9H119.5V372.2H120.0V372.1H120.5V372.4H121.0V372.3H121.5V372.7H122.5V372.8H123.0V370.7H123.5V366.6H124.0V367.0H124.5V366.6H125.0V366.3H125.5V369.5H126.0V373.2H126.5V373.8H129.5V373.7H130.0V373.4H130.5V373.8H131.0V373.9H132.0V373.8H132.5V373.7H133.0V373.5H133.5V373.2H134.0V373.1H134.5V373.5H135.0V373.8H135.5V373.9H136.0V373.8H137.0V373.9H137.5V373.8H139.5V373.9H140.0V373.8H143.0V373.9H143.5V373.8H144.5V373.9H145.0V373.8H146.5V373.9H147.0V373.8H147.5V373.9H149.0V373.8H151.5V373.9H152.5V373.8H154.0V373.9H154.7V373.9Z" fill="#ff1060"/>
<text x="65.40" y="380.96" font-size="6.5" text-anchor="end" fill="#111" stroke="#111" stroke-width="0.14" textLength="49.2" lengthAdjust="spacingAndGlyphs">SUPB15 ATF4 ctrl</text>
<rect x="69.20" y="374.42" width="1.00" height="1.00" fill="#888"/>
<rect x="71.50" y="374.42" width="2.40" height="1.00" fill="#999"/>
<rect x="69.00" y="381.76" width="85.70" height="0.90" fill="#bcbcee"/>
<path d="M69.0,382.7V382.5H69.5V382.6H70.5V382.5H71.0V382.6H72.0V382.5H73.0V382.6H76.5V382.5H77.0V382.6H77.5V382.5H78.0V382.6H79.5V382.4H80.0V382.3H80.5V382.5H82.5V382.6H84.5V382.5H85.0V382.6H86.0V382.5H86.5V382.6H87.5V382.5H88.5V382.6H91.0V382.5H91.5V382.6H93.5V382.5H94.0V382.6H96.0V382.5H96.5V382.6H98.5V382.5H99.0V382.6H99.5V382.4H100.5V382.6H108.0V382.5H108.5V382.6H111.5V382.4H112.0V382.1H112.5V382.5H113.0V382.6H113.5V382.5H115.0V382.6H115.5V382.5H116.0V382.4H116.5V382.2H117.0V381.8H117.5V382.1H118.5V381.9H119.0V381.8H119.5V381.6H120.0V381.5H121.0V381.6H121.5V381.4H122.0V381.1H122.5V380.2H123.0V379.4H123.5V378.9H124.0V378.3H124.5V378.6H125.0V379.4H125.5V380.0H126.0V380.6H126.5V381.5H127.0V381.9H127.5V382.2H128.0V381.9H128.5V382.1H129.0V382.4H130.5V382.5H132.5V382.6H133.0V382.5H133.5V382.6H134.5V382.5H135.0V382.6H136.0V382.5H137.0V382.6H141.5V382.5H142.0V382.6H142.5V382.5H144.0V382.6H145.0V382.5H145.5V382.6H148.0V382.5H148.5V382.6H149.5V382.5H150.0V382.6H153.5V382.5H154.0V382.6H154.7V382.7Z" fill="#2828c4"/>
<text x="65.40" y="389.80" font-size="6.5" text-anchor="end" fill="#111" stroke="#111" stroke-width="0.14" textLength="56.1" lengthAdjust="spacingAndGlyphs">SUPB15 ATF4 LASP</text>
<rect x="69.20" y="383.16" width="1.00" height="1.00" fill="#888"/>
<rect x="71.50" y="383.16" width="2.40" height="1.00" fill="#999"/>
<rect x="69.00" y="390.50" width="85.70" height="0.90" fill="#ababcc"/>
<path d="M69.0,391.4V391.3H69.5V391.4H70.0V391.3H72.5V391.4H74.0V391.3H75.5V391.4H76.0V391.3H78.0V391.4H78.5V391.3H89.5V391.4H90.0V391.3H92.0V391.4H92.5V391.3H96.0V390.9H96.5V391.1H97.0V391.3H98.0V391.2H98.5V390.9H99.0V391.2H99.5V391.3H108.0V391.4H109.0V391.3H114.5V391.2H116.0V391.1H116.5V391.0H117.0V390.9H117.5V390.7H118.0V390.6H118.5V390.5H119.0V390.2H120.0V389.6H121.0V388.6H121.5V388.8H122.0V388.2H122.5V387.7H123.0V385.9H123.5V384.8H124.0V383.7H124.5V383.2H125.0V385.5H125.5V388.4H126.0V389.2H126.5V390.4H127.0V390.9H127.5V391.1H128.0V391.3H133.0V390.7H133.5V390.4H134.0V390.7H134.5V390.9H135.5V391.0H136.0V391.1H136.5V391.2H137.0V391.3H138.0V391.0H139.0V391.3H142.0V391.4H142.5V391.3H147.5V391.4H148.5V391.3H149.5V391.4H150.0V391.3H154.7V391.4Z" fill="#16166c"/>
<text x="65.40" y="398.64" font-size="6.5" text-anchor="end" fill="#111" stroke="#111" stroke-width="0.14" textLength="50.3" lengthAdjust="spacingAndGlyphs">SUPB15 ATAC ctrl</text>
<rect x="69.20" y="391.90" width="1.00" height="1.00" fill="#888"/>
<rect x="71.50" y="391.90" width="2.40" height="1.00" fill="#999"/>
<rect x="69.00" y="399.24" width="85.70" height="0.90" fill="#cfe6ff"/>
<path d="M69.0,400.1V400.1H71.0V400.0H72.5V400.1H74.5V400.0H75.0V399.7H75.5V399.8H76.0V400.0H76.5V400.1H77.5V400.0H78.0V400.1H78.5V400.0H79.0V400.1H79.5V400.0H81.0V400.1H82.0V400.0H82.5V400.1H83.0V400.0H83.5V400.1H84.5V400.0H86.0V400.1H88.5V400.0H89.5V400.1H90.5V400.0H91.0V400.1H92.0V400.0H92.5V400.1H94.0V400.0H94.5V400.1H95.5V400.0H97.0V400.1H97.5V400.0H99.0V400.1H99.5V400.0H102.5V399.9H103.0V400.0H104.0V399.9H105.0V399.8H105.5V399.9H106.0V399.8H107.0V399.6H107.5V399.7H108.0V399.6H108.5V399.5H109.0V399.6H110.0V399.4H110.5V399.3H111.0V399.5H111.5V399.3H112.0V399.4H112.5V399.1H113.0V399.0H113.5V399.1H114.0V399.2H114.5V398.9H115.0V398.6H115.5V398.9H116.0V398.4H116.5V398.3H117.0V398.4H118.0V397.7H118.5V398.3H119.0V397.5H119.5V398.1H120.0V398.2H121.0V398.4H121.5V398.8H122.0V398.9H122.5V399.2H123.0V397.7H123.5V394.8H124.0V393.4H124.5V392.7H125.0V393.4H125.5V396.3H126.0V399.3H126.5V400.0H127.0V399.8H127.5V400.0H128.5V400.1H130.0V400.0H130.5V400.1H131.0V400.0H132.5V400.1H134.0V400.0H135.5V400.1H136.5V400.0H137.0V399.8H137.5V399.9H138.0V400.1H138.5V400.0H139.0V400.1H139.5V400.0H140.0V400.1H141.0V400.0H143.0V400.1H143.5V399.7H144.5V400.0H146.0V400.1H147.5V400.0H148.0V400.1H148.5V400.0H149.0V400.1H151.0V400.0H151.5V400.1H152.5V400.0H154.0V400.1H154.7V400.1Z" fill="#8cc6ff"/>
<text x="65.40" y="407.48" font-size="6.5" text-anchor="end" fill="#111" stroke="#111" stroke-width="0.14" textLength="57.2" lengthAdjust="spacingAndGlyphs">SUPB15 ATAC LASP</text>
<rect x="69.20" y="400.64" width="1.00" height="1.00" fill="#888"/>
<rect x="71.50" y="400.64" width="2.40" height="1.00" fill="#999"/>
<rect x="69.00" y="407.98" width="85.70" height="0.90" fill="#b4ccff"/>
<path d="M69.0,408.9V408.8H71.0V408.7H71.5V408.8H75.5V408.7H76.0V408.8H80.0V408.7H80.5V408.8H84.0V408.7H84.5V408.3H85.0V408.6H85.5V408.8H92.0V408.6H92.5V408.4H93.0V408.7H93.5V408.8H95.0V408.7H96.0V408.3H96.5V408.8H97.5V408.7H98.0V408.8H103.0V408.7H103.5V408.8H104.5V408.7H106.5V408.5H107.0V408.4H108.5V408.3H109.0V408.2H109.5V408.0H110.0V408.1H110.5V407.9H111.0V407.8H111.5V407.7H112.0V407.9H112.5V407.7H113.0V407.6H113.5V407.3H114.0V407.5H114.5V407.3H115.0V407.2H115.5V407.0H116.0V407.2H116.5V407.0H117.0V407.1H117.5V407.3H118.0V406.5H118.5V406.6H119.0V406.7H119.5V406.3H120.0V406.6H120.5V405.5H121.0V406.1H121.5V406.7H122.0V407.2H123.0V405.2H123.5V403.0H124.0V401.9H124.5V401.0H125.0V401.3H125.5V404.0H126.0V406.8H126.5V408.7H127.0V408.8H131.5V408.7H132.0V408.8H132.5V408.7H133.0V408.5H133.5V408.1H134.0V408.2H134.5V408.4H135.0V408.7H135.5V408.8H136.0V408.7H136.5V408.8H140.5V408.7H141.0V408.4H141.5V408.7H142.0V408.8H154.7V408.9Z" fill="#1468ff"/>
<line x1="70.00" y1="410.40" x2="123.10" y2="410.40" stroke="#b4b4f0" stroke-width="0.6"/>
<rect x="72.15" y="410.05" width="0.70" height="0.70" fill="#5a5ae0"/>
<rect x="77.15" y="410.05" width="0.70" height="0.70" fill="#5a5ae0"/>
<rect x="82.15" y="410.05" width="0.70" height="0.70" fill="#5a5ae0"/>
<rect x="87.15" y="410.05" width="0.70" height="0.70" fill="#5a5ae0"/>
<rect x="92.15" y="410.05" width="0.70" height="0.70" fill="#5a5ae0"/>
<rect x="97.15" y="410.05" width="0.70" height="0.70" fill="#5a5ae0"/>
<rect x="102.15" y="410.05" width="0.70" height="0.70" fill="#5a5ae0"/>
<rect x="107.15" y="410.05" width="0.70" height="0.70" fill="#5a5ae0"/>
<rect x="112.15" y="410.05" width="0.70" height="0.70" fill="#5a5ae0"/>
<rect x="117.15" y="410.05" width="0.70" height="0.70" fill="#5a5ae0"/>
<rect x="68.90" y="409.50" width="1.00" height="1.80" fill="#1a1ab8"/>
<rect x="118.20" y="409.65" width="4.90" height="1.50" fill="#1a1ab8"/>
<text x="95.90" y="415.80" font-size="2.7" text-anchor="middle" fill="#2a2a2a" stroke="#2a2a2a" stroke-width="0.2">SLC7A11</text>
<rect x="68.50" y="338.60" width="86.70" height="78.50" fill="none" stroke="#a8a8a8" stroke-width="0.9"/>
<line x1="68.50" y1="338.60" x2="68.50" y2="417.10" stroke="#9a9a9a" stroke-width="0.9"/>
<text x="258.45" y="321.50" font-size="7.2" text-anchor="start" fill="#111" stroke="#111" stroke-width="0.12" font-style="italic" textLength="27.5" lengthAdjust="spacing">GPRIN3</text>
<text x="215.10" y="330.50" font-size="7.1" text-anchor="start" fill="#111" stroke="#111" stroke-width="0.1" textLength="115.1" lengthAdjust="spacing">chr4:90,155,534-90,230,951 (hg19)</text>
<rect x="239.20" y="338.60" width="87.10" height="78.50" fill="#f8f8f8"/>
<text x="235.90" y="345.60" font-size="6.5" text-anchor="end" fill="#111" stroke="#111" stroke-width="0.14" textLength="42.1" lengthAdjust="spacingAndGlyphs">Nalm6 ATF4 ctrl</text>
<rect x="239.90" y="339.46" width="1.00" height="1.00" fill="#888"/>
<rect x="242.20" y="339.46" width="2.40" height="1.00" fill="#999"/>
<rect x="239.70" y="346.80" width="86.10" height="0.90" fill="#f0c6d0"/>
<path d="M239.7,347.7V347.6H244.7V347.7H245.2V347.6H248.7V347.7H249.2V347.6H253.7V347.7H254.2V347.6H257.7V347.7H258.2V347.6H265.7V347.7H266.2V347.6H266.7V347.7H267.7V347.6H268.2V347.7H268.7V347.6H269.2V347.4H269.7V347.6H274.7V347.7H275.7V347.6H277.2V347.7H277.7V347.6H278.2V347.7H278.7V347.6H279.2V347.5H279.7V347.3H280.2V347.6H281.7V347.7H282.7V347.6H285.2V347.7H286.2V347.6H286.7V347.3H287.2V347.4H287.7V347.2H288.2V347.4H288.7V347.6H292.2V347.7H292.7V347.6H296.2V347.7H296.7V347.6H297.2V347.7H297.7V347.6H299.7V347.7H300.2V347.6H303.2V347.7H303.7V347.6H304.2V347.7H304.7V347.6H307.7V347.7H308.2V347.6H309.2V347.4H309.7V346.9H310.2V346.7H310.7V347.0H311.2V347.5H311.7V347.6H314.2V347.1H314.7V345.1H315.2V343.1H315.7V343.8H316.2V346.0H316.7V347.3H317.2V347.6H322.7V347.2H323.7V347.6H325.8V347.7Z" fill="#d20f2c"/>
<text x="235.90" y="354.44" font-size="6.5" text-anchor="end" fill="#111" stroke="#111" stroke-width="0.14" textLength="49.0" lengthAdjust="spacingAndGlyphs">Nalm6 ATF4 LASP</text>
<rect x="239.90" y="348.20" width="1.00" height="1.00" fill="#888"/>
<rect x="242.20" y="348.20" width="2.40" height="1.00" fill="#999"/>
<rect x="239.70" y="355.54" width="86.10" height="0.90" fill="#d6b8bc"/>
<path d="M239.7,356.4V356.3H240.2V356.4H240.7V356.3H241.7V356.4H244.2V356.3H244.7V356.4H245.7V356.3H246.2V356.4H247.2V356.3H248.2V356.4H251.2V356.3H252.2V356.4H253.7V356.3H254.2V356.4H255.2V356.3H255.7V356.4H256.2V356.3H257.2V356.4H260.7V356.3H261.2V356.4H262.2V356.3H263.7V356.4H265.7V356.3H266.2V356.4H268.7V356.2H269.2V356.1H269.7V356.3H270.2V356.1H270.7V356.0H271.2V356.3H271.7V356.4H272.2V356.3H273.2V356.4H274.7V356.3H275.7V356.4H277.7V356.3H278.7V356.4H280.2V356.3H280.7V356.4H284.2V356.3H284.7V356.4H285.2V356.1H285.7V356.0H286.2V356.4H287.7V356.3H288.7V356.4H289.2V356.3H289.7V356.4H290.2V356.3H290.7V356.4H291.2V356.3H291.7V356.1H292.2V356.2H292.7V356.4H293.2V356.3H294.2V356.4H294.7V356.3H295.2V356.4H295.7V356.3H296.2V356.4H296.7V356.3H297.2V356.4H298.7V356.3H299.2V356.4H300.7V356.3H301.7V356.4H305.7V356.3H306.2V356.4H308.7V356.3H309.2V356.2H309.7V355.6H310.2V355.2H310.7V355.8H311.2V356.2H311.7V356.3H312.2V355.9H312.7V354.9H313.2V354.5H313.7V354.6H314.2V355.0H314.7V353.2H315.2V350.0H315.7V350.4H316.2V354.8H316.7V356.2H317.2V356.4H318.7V356.3H319.7V356.4H323.2V356.3H323.7V356.4H324.2V356.3H324.7V356.4H325.8V356.4Z" fill="#6e0a12"/>
<text x="235.90" y="363.28" font-size="6.5" text-anchor="end" fill="#111" stroke="#111" stroke-width="0.14" textLength="43.2" lengthAdjust="spacingAndGlyphs">Nalm6 ATAC ctrl</text>
<rect x="239.90" y="356.94" width="1.00" height="1.00" fill="#888"/>
<rect x="242.20" y="356.94" width="2.40" height="1.00" fill="#999"/>
<rect x="239.70" y="364.28" width="86.10" height="0.90" fill="#ffd6d6"/>
<path d="M239.7,365.2V365.1H241.7V365.0H242.2V365.1H253.2V365.0H253.7V365.1H262.2V364.9H262.7V364.7H263.2V365.1H267.7V365.0H268.2V365.1H268.7V365.0H269.7V365.1H277.2V365.0H277.7V365.1H284.2V364.7H285.2V365.1H290.2V365.0H290.7V364.8H291.2V365.0H291.7V365.1H293.7V364.9H294.2V364.6H294.7V365.0H295.2V365.1H301.7V364.7H302.2V364.9H302.7V365.1H304.7V364.7H305.2V363.1H305.7V361.3H306.2V362.1H306.7V364.4H307.2V365.1H308.7V365.0H309.2V364.0H309.7V360.4H310.2V359.7H310.7V361.5H311.2V364.4H311.7V365.0H312.2V365.1H313.2V365.0H313.7V364.6H314.2V362.2H314.7V360.1H315.2V360.9H315.7V360.7H316.2V359.0H316.7V359.9H317.2V363.5H317.7V364.7H318.2V365.1H325.8V365.2Z" fill="#ff8a8a"/>
<text x="235.90" y="372.12" font-size="6.5" text-anchor="end" fill="#111" stroke="#111" stroke-width="0.14" textLength="50.1" lengthAdjust="spacingAndGlyphs">Nalm6 ATAC LASP</text>
<rect x="239.90" y="365.68" width="1.00" height="1.00" fill="#888"/>
<rect x="242.20" y="365.68" width="2.40" height="1.00" fill="#999"/>
<rect x="239.70" y="373.02" width="86.10" height="0.90" fill="#ffbcd4"/>
<path d="M239.7,373.9V373.8H242.2V373.9H243.2V373.8H244.7V373.9H245.2V373.8H246.2V373.9H246.7V373.8H247.7V373.9H248.2V373.7H248.7V373.5H249.2V373.8H250.2V373.9H250.7V373.8H252.7V373.9H253.2V373.8H254.7V373.9H255.2V373.8H259.2V373.9H259.7V373.8H262.2V373.9H262.7V373.8H264.7V373.9H265.2V373.8H266.2V373.2H266.7V373.7H267.2V373.9H267.7V373.8H268.7V373.9H269.2V373.8H270.7V373.9H271.2V373.8H274.7V373.7H275.2V373.4H275.7V373.8H278.2V373.9H278.7V373.8H282.7V373.9H283.2V373.8H286.7V373.9H287.2V373.8H288.7V373.9H289.2V373.8H291.7V373.9H292.2V373.8H294.2V373.9H294.7V373.8H295.2V373.9H296.2V373.8H300.2V373.5H300.7V373.7H301.2V373.8H302.2V373.9H302.7V373.8H303.2V373.9H303.7V373.8H304.7V373.4H305.2V371.2H305.7V370.1H306.2V371.0H306.7V373.1H307.2V373.8H308.7V373.4H309.2V372.5H309.7V368.9H310.2V366.9H310.7V369.8H311.2V373.0H311.7V373.7H312.2V373.8H313.7V373.1H314.2V370.1H314.7V367.2H315.2V367.6H315.7V369.0H316.2V368.0H316.7V368.7H317.2V372.0H317.7V373.4H318.2V373.8H321.7V373.9H322.7V373.8H325.8V373.9Z" fill="#ff1060"/>
<text x="235.90" y="380.96" font-size="6.5" text-anchor="end" fill="#111" stroke="#111" stroke-width="0.14" textLength="49.2" lengthAdjust="spacingAndGlyphs">SUPB15 ATF4 ctrl</text>
<rect x="239.90" y="374.42" width="1.00" height="1.00" fill="#888"/>
<rect x="242.20" y="374.42" width="2.40" height="1.00" fill="#999"/>
<rect x="239.70" y="381.76" width="86.10" height="0.90" fill="#bcbcee"/>
<path d="M239.7,382.7V382.6H240.2V382.5H241.2V382.6H242.7V382.5H243.7V382.6H245.2V382.5H245.7V382.6H246.2V382.5H246.7V382.6H247.2V382.5H247.7V382.6H248.7V382.5H249.7V382.6H250.2V382.5H251.7V382.2H252.2V382.5H253.2V382.6H253.7V382.5H254.2V382.6H254.7V382.5H255.2V382.6H255.7V382.5H256.2V382.6H256.7V382.5H257.2V382.6H257.7V382.5H258.7V382.6H259.2V382.5H259.7V382.6H260.2V382.5H260.7V382.6H261.2V382.5H261.7V382.6H262.2V382.5H263.2V382.6H264.2V382.5H266.2V382.3H266.7V382.4H267.2V382.5H269.7V382.6H270.7V382.5H271.2V382.6H272.2V382.5H273.7V382.6H274.2V382.5H274.7V382.6H275.2V382.5H276.2V382.6H277.7V382.5H279.2V382.6H280.7V382.5H281.7V382.6H282.7V382.5H283.2V382.6H283.7V382.5H284.2V382.6H284.7V382.5H288.2V382.6H288.7V382.4H289.7V382.5H290.7V382.6H291.7V382.5H293.2V382.6H293.7V382.5H294.2V382.6H294.7V382.5H295.7V382.6H296.2V382.5H297.7V382.6H299.7V382.5H300.7V382.6H301.7V382.5H302.2V382.6H303.2V382.5H304.2V382.6H304.7V382.5H305.2V382.6H305.7V382.2H306.2V382.4H306.7V382.6H307.7V382.5H308.2V382.6H308.7V382.5H312.2V382.6H312.7V382.5H314.2V382.3H314.7V381.6H315.2V381.0H315.7V381.1H316.2V381.6H316.7V382.4H317.2V382.6H317.7V382.5H318.2V382.6H320.2V382.5H321.7V382.6H324.7V382.5H325.7V382.6H325.8V382.7Z" fill="#2828c4"/>
<text x="235.90" y="389.80" font-size="6.5" text-anchor="end" fill="#111" stroke="#111" stroke-width="0.14" textLength="56.1" lengthAdjust="spacingAndGlyphs">SUPB15 ATF4 LASP</text>
<rect x="239.90" y="383.16" width="1.00" height="1.00" fill="#888"/>
<rect x="242.20" y="383.16" width="2.40" height="1.00" fill="#999"/>
<rect x="239.70" y="390.50" width="86.10" height="0.90" fill="#ababcc"/>
<path d="M239.7,391.4V391.3H241.7V391.2H242.2V391.3H243.7V391.4H244.2V391.3H251.2V391.2H251.7V391.3H265.2V390.8H265.7V391.1H266.2V391.3H271.7V391.2H272.2V391.3H278.2V391.4H278.7V391.3H282.7V391.2H283.2V391.3H285.7V391.4H286.2V391.3H294.2V391.2H294.7V391.3H295.7V391.2H296.2V391.3H297.2V391.2H297.7V390.9H298.2V391.2H298.7V391.3H300.7V391.2H301.2V391.3H309.2V391.0H309.7V391.1H310.2V391.2H310.7V391.3H312.2V391.2H312.7V391.3H313.7V390.9H314.2V390.3H314.7V389.6H315.2V389.0H315.7V389.8H316.2V390.5H316.7V391.2H317.2V391.3H322.7V391.4H323.2V391.3H324.2V391.2H324.7V391.3H325.7V391.2H325.8V391.4Z" fill="#16166c"/>
<text x="235.90" y="398.64" font-size="6.5" text-anchor="end" fill="#111" stroke="#111" stroke-width="0.14" textLength="50.3" lengthAdjust="spacingAndGlyphs">SUPB15 ATAC ctrl</text>
<rect x="239.90" y="391.90" width="1.00" height="1.00" fill="#888"/>
<rect x="242.20" y="391.90" width="2.40" height="1.00" fill="#999"/>
<rect x="239.70" y="399.24" width="86.10" height="0.90" fill="#cfe6ff"/>
<path d="M239.7,400.1V400.0H240.2V400.1H240.7V400.0H242.2V400.1H242.7V400.0H243.2V400.1H243.7V400.0H245.2V400.1H246.2V400.0H246.7V400.1H247.7V400.0H248.2V399.8H249.2V400.1H249.7V400.0H250.2V400.1H250.7V400.0H251.7V400.1H252.7V400.0H253.7V400.1H254.2V400.0H254.7V400.1H255.7V400.0H256.2V400.1H257.2V400.0H257.7V400.1H260.2V400.0H260.7V400.1H263.2V400.0H264.2V400.1H265.2V400.0H266.7V400.1H267.7V400.0H268.2V400.1H268.7V400.0H269.2V400.1H270.2V400.0H271.7V400.1H272.2V400.0H272.7V400.1H273.2V400.0H274.2V400.1H275.7V400.0H276.2V400.1H278.2V400.0H279.7V400.1H280.2V400.0H283.7V400.1H284.2V400.0H284.7V400.1H285.7V400.0H286.7V400.1H288.2V400.0H289.7V400.1H290.7V400.0H291.2V400.1H291.7V400.0H292.2V399.9H292.7V399.7H293.2V400.0H294.2V400.1H294.7V400.0H295.2V399.9H295.7V399.8H296.2V400.0H297.2V400.1H299.2V400.0H300.2V400.1H304.2V400.0H304.7V400.1H305.2V400.0H306.2V400.1H307.7V400.0H308.2V400.1H308.7V400.0H309.2V399.3H309.7V397.1H310.2V394.2H310.7V397.4H311.2V399.5H311.7V400.0H313.2V400.1H313.7V400.0H314.2V399.6H314.7V398.3H315.2V397.2H315.7V396.6H316.2V399.0H316.7V399.5H317.2V399.8H317.7V400.1H319.2V400.0H320.7V400.1H322.2V400.0H322.7V400.1H323.2V400.0H324.7V400.1H325.7V400.0H325.8V400.1Z" fill="#8cc6ff"/>
<text x="235.90" y="407.48" font-size="6.5" text-anchor="end" fill="#111" stroke="#111" stroke-width="0.14" textLength="57.2" lengthAdjust="spacingAndGlyphs">SUPB15 ATAC LASP</text>
<rect x="239.90" y="400.64" width="1.00" height="1.00" fill="#888"/>
<rect x="242.20" y="400.64" width="2.40" height="1.00" fill="#999"/>
<rect x="239.70" y="407.98" width="86.10" height="0.90" fill="#b4ccff"/>
<path d="M239.7,408.9V408.8H240.2V408.7H240.7V408.8H244.2V408.7H244.7V408.8H245.7V408.7H246.2V408.8H249.2V408.7H250.2V408.6H250.7V408.8H253.7V408.7H254.2V408.8H255.7V408.7H256.2V408.8H256.7V408.7H257.2V408.8H258.2V408.7H258.7V408.8H259.2V408.7H259.7V408.8H261.2V408.7H261.7V408.8H263.2V408.7H263.7V408.8H264.2V408.7H264.7V408.8H265.2V408.7H266.2V408.8H270.7V408.7H271.2V408.8H272.2V408.6H272.7V408.5H273.2V408.7H274.7V408.8H276.7V408.7H277.7V408.8H280.2V408.7H280.7V408.8H281.2V408.7H282.2V408.8H283.7V408.7H284.2V408.8H285.7V408.6H286.2V408.4H286.7V408.8H288.2V408.7H288.7V408.8H289.7V408.7H290.2V408.8H291.2V408.7H291.7V408.8H292.7V408.7H293.2V408.8H294.2V408.7H294.7V408.8H297.2V408.7H297.7V408.8H302.2V408.7H302.7V408.4H303.2V408.6H303.7V408.3H304.2V408.6H304.7V408.8H305.2V408.7H305.7V408.8H306.2V408.7H306.7V408.8H307.2V408.7H307.7V408.8H308.7V408.7H309.2V407.8H309.7V405.0H310.2V403.4H310.7V406.4H311.2V408.3H311.7V408.7H313.2V408.3H313.7V407.3H314.2V405.6H314.7V404.7H315.2V403.1H315.7V404.8H316.2V407.2H316.7V408.5H317.2V408.7H317.7V408.8H323.7V408.7H324.2V408.8H324.7V408.7H325.2V408.8H325.8V408.9Z" fill="#1468ff"/>
<line x1="257.80" y1="411.90" x2="325.80" y2="411.90" stroke="#b4b4f0" stroke-width="0.6"/>
<rect x="259.95" y="411.55" width="0.70" height="0.70" fill="#5a5ae0"/>
<rect x="264.95" y="411.55" width="0.70" height="0.70" fill="#5a5ae0"/>
<rect x="269.95" y="411.55" width="0.70" height="0.70" fill="#5a5ae0"/>
<rect x="274.95" y="411.55" width="0.70" height="0.70" fill="#5a5ae0"/>
<rect x="279.95" y="411.55" width="0.70" height="0.70" fill="#5a5ae0"/>
<rect x="284.95" y="411.55" width="0.70" height="0.70" fill="#5a5ae0"/>
<rect x="289.95" y="411.55" width="0.70" height="0.70" fill="#5a5ae0"/>
<rect x="294.95" y="411.55" width="0.70" height="0.70" fill="#5a5ae0"/>
<rect x="299.95" y="411.55" width="0.70" height="0.70" fill="#5a5ae0"/>
<rect x="304.95" y="411.55" width="0.70" height="0.70" fill="#5a5ae0"/>
<rect x="309.95" y="411.55" width="0.70" height="0.70" fill="#5a5ae0"/>
<rect x="314.95" y="411.55" width="0.70" height="0.70" fill="#5a5ae0"/>
<rect x="319.95" y="411.55" width="0.70" height="0.70" fill="#5a5ae0"/>
<rect x="242.20" y="411.00" width="15.60" height="1.80" fill="#2020b8"/>
<text x="283.70" y="416.20" font-size="2.7" text-anchor="middle" fill="#2a2a2a" stroke="#2a2a2a" stroke-width="0.2">GPRIN3</text>
<rect x="239.20" y="338.60" width="87.10" height="78.50" fill="none" stroke="#a8a8a8" stroke-width="0.9"/>
<line x1="239.20" y1="338.60" x2="239.20" y2="417.10" stroke="#9a9a9a" stroke-width="0.9"/>
<text x="428.00" y="321.50" font-size="7.2" text-anchor="start" fill="#111" stroke="#111" stroke-width="0.12" font-style="italic" textLength="28" lengthAdjust="spacing">CARD11</text>
<text x="390.00" y="330.50" font-size="7.1" text-anchor="start" fill="#111" stroke="#111" stroke-width="0.1" textLength="106.8" lengthAdjust="spacing">chr7:3,045,034-3,156,523 (hg19)</text>
<rect x="409.80" y="338.60" width="86.70" height="78.70" fill="#f8f8f8"/>
<text x="405.90" y="345.60" font-size="6.5" text-anchor="end" fill="#111" stroke="#111" stroke-width="0.14" textLength="42.1" lengthAdjust="spacingAndGlyphs">Nalm6 ATF4 ctrl</text>
<rect x="410.50" y="339.24" width="1.00" height="1.00" fill="#888"/>
<rect x="412.80" y="339.24" width="2.40" height="1.00" fill="#999"/>
<rect x="410.30" y="346.60" width="85.70" height="0.90" fill="#f0c6d0"/>
<path d="M410.3,347.5V347.4H412.8V347.5H413.3V347.4H417.8V347.3H418.3V347.0H418.8V347.3H419.3V347.4H421.3V347.5H421.8V347.4H427.8V347.5H428.3V347.4H433.8V347.5H434.3V347.4H436.3V347.5H436.8V347.4H438.3V347.5H438.8V347.4H445.3V347.5H445.8V347.4H449.3V347.5H449.8V347.4H456.3V347.2H456.8V347.0H457.3V346.2H457.8V346.1H458.8V345.9H459.3V346.2H459.8V346.4H460.3V346.9H460.8V347.1H461.3V347.2H461.8V347.4H466.8V347.2H467.3V346.9H467.8V346.6H468.3V347.0H468.8V347.4H469.3V347.3H469.8V346.5H470.3V344.9H470.8V345.3H471.3V346.5H471.8V347.0H472.3V347.4H472.8V347.5H473.3V347.4H473.8V347.3H474.3V346.9H474.8V346.6H475.3V346.8H475.8V347.2H476.3V347.4H477.3V347.1H477.8V344.6H478.3V343.1H478.8V344.3H479.3V343.1H479.8V345.5H480.3V344.8H480.8V344.0H481.3V345.7H481.8V347.3H482.3V347.4H488.3V347.5H488.8V347.4H491.8V347.1H492.3V347.2H492.8V347.4H496.0V347.5Z" fill="#d20f2c"/>
<text x="405.90" y="354.44" font-size="6.5" text-anchor="end" fill="#111" stroke="#111" stroke-width="0.14" textLength="49.0" lengthAdjust="spacingAndGlyphs">Nalm6 ATF4 LASP</text>
<rect x="410.50" y="348.00" width="1.00" height="1.00" fill="#888"/>
<rect x="412.80" y="348.00" width="2.40" height="1.00" fill="#999"/>
<rect x="410.30" y="355.36" width="85.70" height="0.90" fill="#d6b8bc"/>
<path d="M410.3,356.3V356.2H410.8V356.1H413.3V356.2H413.8V356.1H414.3V356.2H415.8V356.1H416.3V356.2H416.8V356.1H417.3V356.2H417.8V356.1H418.3V356.2H418.8V356.1H419.8V356.2H420.3V356.1H420.8V356.2H422.3V356.1H422.8V356.2H423.3V356.1H424.3V356.0H424.8V355.9H425.3V355.8H425.8V356.0H426.3V356.2H427.8V356.1H428.8V356.2H429.3V356.1H430.3V356.2H431.3V356.1H431.8V355.9H432.3V356.1H434.3V356.2H434.8V356.1H435.3V356.2H435.8V356.1H436.8V356.2H437.8V356.1H438.8V356.2H440.3V356.1H441.3V356.2H441.8V356.1H442.8V356.2H444.8V355.8H445.3V355.7H445.8V356.1H447.8V356.2H449.8V356.1H451.8V356.2H452.8V356.1H453.8V356.2H454.3V356.1H454.8V356.2H455.3V356.1H455.8V356.2H456.3V356.0H456.8V355.8H457.3V355.2H457.8V354.2H458.3V353.5H458.8V353.4H459.3V353.1H459.8V354.6H460.3V355.2H460.8V355.8H461.3V356.0H461.8V356.1H462.3V356.2H463.8V356.1H464.8V356.0H465.3V355.5H465.8V355.4H466.3V355.8H466.8V356.1H467.3V356.2H467.8V356.1H469.3V355.6H469.8V351.0H470.8V354.9H471.3V353.0H471.8V351.7H472.3V355.6H472.8V356.2H473.8V356.1H474.3V355.5H474.8V355.2H475.3V355.6H475.8V356.0H476.3V356.2H477.3V355.8H477.8V352.8H478.3V348.4H478.8V353.1H479.3V355.9H479.8V355.6H480.3V352.0H480.8V350.8H481.3V353.7H481.8V356.0H482.3V356.1H483.3V356.2H483.8V356.1H484.3V356.2H485.8V356.1H486.3V356.2H487.3V356.1H487.8V356.2H488.3V356.1H488.8V356.2H489.3V356.1H489.8V356.2H492.8V356.1H493.3V356.2H493.8V356.1H495.3V356.2H496.0V356.3Z" fill="#6e0a12"/>
<text x="405.90" y="363.28" font-size="6.5" text-anchor="end" fill="#111" stroke="#111" stroke-width="0.14" textLength="43.2" lengthAdjust="spacingAndGlyphs">Nalm6 ATAC ctrl</text>
<rect x="410.50" y="356.76" width="1.00" height="1.00" fill="#888"/>
<rect x="412.80" y="356.76" width="2.40" height="1.00" fill="#999"/>
<rect x="410.30" y="364.12" width="85.70" height="0.90" fill="#ffd6d6"/>
<path d="M410.3,365.0V365.0H411.3V364.9H412.3V365.0H412.8V364.9H413.8V365.0H414.8V364.9H415.8V365.0H416.3V364.9H417.3V365.0H417.8V364.9H419.3V365.0H419.8V364.9H425.3V365.0H426.3V364.9H428.3V364.6H428.8V364.8H429.3V364.9H429.8V365.0H430.3V364.9H430.8V365.0H431.3V364.9H432.8V364.7H433.3V364.9H434.3V364.8H435.3V364.9H435.8V365.0H436.3V364.9H438.3V365.0H438.8V364.9H442.3V365.0H442.8V364.9H444.3V365.0H444.8V364.9H448.8V365.0H449.3V364.9H450.3V365.0H450.8V364.9H451.8V365.0H452.8V364.9H453.3V365.0H453.8V364.9H454.3V365.0H454.8V364.9H455.3V365.0H455.8V364.9H456.8V364.8H457.3V364.4H457.8V363.8H458.3V363.0H458.8V362.6H459.3V363.1H459.8V363.8H460.3V364.6H460.8V364.9H461.8V365.0H462.3V364.9H464.8V365.0H465.3V364.9H465.8V364.8H466.3V364.4H466.8V363.9H467.3V364.6H467.8V364.9H469.3V364.7H469.8V362.9H470.3V361.0H470.8V363.7H471.3V364.9H473.3V364.8H473.8V363.9H474.3V362.4H474.8V364.1H475.3V364.8H475.8V364.9H476.8V364.8H477.3V364.2H477.8V362.1H478.3V359.6H478.8V363.0H479.3V364.7H479.8V361.7H480.3V359.0H480.8V363.1H481.3V362.6H481.8V359.9H482.3V363.4H482.8V364.9H485.3V365.0H486.3V364.9H487.3V365.0H487.8V364.9H488.3V365.0H488.8V364.9H489.3V365.0H489.8V364.9H490.3V365.0H490.8V364.9H493.3V365.0H494.3V364.9H495.8V365.0H496.0V365.0Z" fill="#ff8a8a"/>
<text x="405.90" y="372.12" font-size="6.5" text-anchor="end" fill="#111" stroke="#111" stroke-width="0.14" textLength="50.1" lengthAdjust="spacingAndGlyphs">Nalm6 ATAC LASP</text>
<rect x="410.50" y="365.52" width="1.00" height="1.00" fill="#888"/>
<rect x="412.80" y="365.52" width="2.40" height="1.00" fill="#999"/>
<rect x="410.30" y="372.88" width="85.70" height="0.90" fill="#ffbcd4"/>
<path d="M410.3,373.8V373.7H411.8V373.6H412.3V373.7H413.3V373.6H413.8V373.7H414.8V373.6H415.3V373.7H415.8V373.6H416.3V373.7H417.8V373.5H418.3V373.4H418.8V373.7H419.3V373.6H419.8V373.7H421.3V373.6H422.3V373.7H423.3V373.6H423.8V373.7H432.3V373.4H433.3V373.6H433.8V373.7H434.8V373.6H435.3V373.7H436.3V373.6H436.8V373.7H437.8V373.6H438.3V373.7H438.8V373.6H439.8V373.7H442.3V373.6H442.8V373.7H444.3V373.6H444.8V373.7H445.8V373.6H446.3V373.7H448.3V373.6H449.8V373.7H453.8V373.6H454.3V373.7H454.8V373.6H455.3V373.7H456.3V373.6H456.8V373.5H457.3V373.1H457.8V372.0H458.3V371.0H458.8V370.9H459.3V371.6H459.8V372.3H460.3V373.2H460.8V373.5H461.3V373.4H462.3V373.6H462.8V373.7H465.8V373.6H466.3V372.9H466.8V372.0H467.3V373.0H467.8V373.6H468.3V373.7H469.3V373.6H469.8V372.2H470.3V370.8H470.8V372.7H471.3V373.6H471.8V373.7H473.3V373.5H473.8V372.4H474.3V371.0H474.8V372.6H475.3V373.6H476.3V373.7H476.8V373.6H477.3V373.5H477.8V370.6H478.3V368.0H478.8V371.6H479.3V373.5H480.3V370.7H480.8V367.8H481.3V371.5H481.8V373.6H482.8V373.7H483.8V373.6H484.3V373.7H487.3V373.6H487.8V373.7H489.8V373.6H490.3V373.7H493.3V373.6H493.8V373.7H494.8V373.6H495.3V373.7H495.8V373.6H496.0V373.8Z" fill="#ff1060"/>
<text x="405.90" y="380.96" font-size="6.5" text-anchor="end" fill="#111" stroke="#111" stroke-width="0.14" textLength="49.2" lengthAdjust="spacingAndGlyphs">SUPB15 ATF4 ctrl</text>
<rect x="410.50" y="374.28" width="1.00" height="1.00" fill="#888"/>
<rect x="412.80" y="374.28" width="2.40" height="1.00" fill="#999"/>
<rect x="410.30" y="381.54" width="85.70" height="1.00" fill="#3c3cc8"/>
<path d="M410.3,382.5V382.4H411.3V382.3H411.8V382.1H412.3V381.8H412.8V382.2H413.3V382.3H415.3V382.4H415.8V382.3H416.3V382.4H417.8V382.3H418.8V382.5H419.3V382.3H419.8V382.4H421.3V382.3H421.8V382.4H422.8V382.3H423.8V382.4H424.3V382.3H424.8V382.4H425.3V382.3H426.8V382.5H427.3V382.3H428.8V382.4H429.8V382.0H430.3V382.2H430.8V382.3H431.3V382.4H432.3V382.3H433.3V382.5H433.8V382.4H434.8V382.3H435.3V382.4H435.8V382.3H438.3V382.4H438.8V382.1H439.3V381.6H439.8V381.3H440.3V381.8H440.8V382.2H441.3V382.4H441.8V382.3H443.3V382.4H443.8V382.3H444.8V382.4H445.3V382.3H446.3V382.4H447.3V382.3H448.3V382.4H448.8V382.3H449.3V382.4H452.3V382.3H452.8V382.5H453.3V382.3H454.3V381.9H454.8V382.1H455.3V382.3H456.3V382.4H456.8V382.3H457.3V382.4H457.8V382.3H458.3V382.4H459.8V382.3H460.3V382.4H460.8V382.3H461.3V382.4H464.3V382.3H464.8V382.5H465.3V382.3H465.8V382.2H466.3V382.1H466.8V382.3H468.8V382.4H469.3V382.3H470.3V382.4H472.3V382.3H474.3V382.4H475.3V382.3H475.8V382.4H477.8V382.1H478.3V381.7H478.8V381.3H479.3V381.8H479.8V382.2H480.3V382.3H480.8V382.4H482.8V382.3H483.3V382.4H486.8V382.3H487.3V382.4H488.3V382.3H488.8V382.4H489.3V381.9H489.8V382.2H490.3V382.4H490.8V382.3H493.3V382.4H494.3V382.3H494.8V382.4H495.3V382.3H496.0V382.5Z" fill="#2828c4"/>
<text x="405.90" y="389.80" font-size="6.5" text-anchor="end" fill="#111" stroke="#111" stroke-width="0.14" textLength="56.1" lengthAdjust="spacingAndGlyphs">SUPB15 ATF4 LASP</text>
<rect x="410.50" y="383.04" width="1.00" height="1.00" fill="#888"/>
<rect x="412.80" y="383.04" width="2.40" height="1.00" fill="#999"/>
<rect x="410.30" y="390.30" width="85.70" height="1.00" fill="#2a2a80"/>
<path d="M410.3,391.3V391.1H410.8V391.2H411.3V391.1H411.8V391.2H412.8V391.1H414.3V391.2H415.3V391.1H416.3V391.2H416.8V391.1H417.3V391.2H418.3V391.1H418.8V391.2H421.3V391.0H421.8V391.1H422.3V390.9H422.8V390.6H423.3V391.1H423.8V390.6H424.3V390.7H424.8V391.1H425.8V391.2H426.8V391.1H427.8V391.2H428.3V391.0H428.8V391.2H429.8V391.0H430.3V391.1H431.8V391.2H432.3V391.0H432.8V391.1H433.8V391.2H434.8V391.1H437.3V391.2H437.8V391.1H438.3V391.0H439.3V390.7H439.8V390.1H440.3V390.5H440.8V391.0H441.3V391.1H442.3V391.2H442.8V391.0H443.3V391.1H443.8V391.2H444.3V391.1H444.8V391.2H445.3V391.1H446.3V391.2H446.8V391.1H447.3V391.2H447.8V391.1H451.3V391.2H452.3V391.1H453.3V391.2H454.8V391.1H455.3V391.0H455.8V391.2H456.3V391.1H457.3V391.2H458.3V391.1H458.8V391.0H459.3V391.1H459.8V391.2H460.8V391.1H462.3V391.0H462.8V391.1H463.8V391.2H464.3V391.0H464.8V391.1H466.3V391.2H467.8V391.0H468.3V391.2H468.8V391.1H469.3V390.8H469.8V388.1H470.3V386.8H470.8V386.3H471.3V387.1H471.8V390.7H472.3V391.1H472.8V391.2H473.3V391.1H473.8V391.2H474.3V391.1H474.8V390.8H475.8V391.1H476.8V391.0H477.3V391.1H477.8V390.9H478.3V390.0H478.8V389.7H479.3V390.3H479.8V391.0H480.3V391.2H480.8V391.1H481.8V391.2H482.3V391.1H482.8V391.0H483.3V391.1H484.3V391.2H484.8V391.1H485.8V391.2H487.3V391.1H488.3V391.2H488.8V391.1H490.3V391.2H490.8V391.1H491.3V391.2H491.8V391.0H492.3V390.9H492.8V391.1H493.3V391.2H493.8V391.1H494.3V391.2H495.8V391.1H496.0V391.3Z" fill="#16166c"/>
<text x="405.90" y="398.64" font-size="6.5" text-anchor="end" fill="#111" stroke="#111" stroke-width="0.14" textLength="50.3" lengthAdjust="spacingAndGlyphs">SUPB15 ATAC ctrl</text>
<rect x="410.50" y="391.80" width="1.00" height="1.00" fill="#888"/>
<rect x="412.80" y="391.80" width="2.40" height="1.00" fill="#999"/>
<rect x="410.30" y="399.16" width="85.70" height="0.90" fill="#cfe6ff"/>
<path d="M410.3,400.1V400.0H410.8V399.9H411.3V400.0H413.8V399.9H414.3V400.0H414.8V399.9H415.8V400.0H418.3V399.9H419.8V400.0H423.3V399.9H423.8V400.0H424.8V399.9H425.3V400.0H426.3V399.9H426.8V400.0H429.3V399.8H429.8V399.5H430.3V399.9H430.8V400.0H434.3V399.9H434.8V399.7H435.3V399.8H435.8V400.0H438.3V399.9H438.8V400.0H439.8V399.9H440.3V400.0H442.3V399.9H443.3V399.6H443.8V399.7H444.3V400.0H445.3V399.9H445.8V400.0H449.8V399.9H450.3V400.0H451.3V399.9H452.3V399.5H452.8V399.6H453.3V400.0H455.8V399.9H456.3V398.2H456.8V396.0H457.3V399.0H457.8V399.9H458.3V400.0H458.8V399.8H459.3V397.5H459.8V396.9H460.3V399.2H460.8V400.0H461.3V399.9H461.8V400.0H462.8V399.9H463.3V399.6H463.8V399.7H464.3V400.0H466.3V399.9H466.8V400.0H469.8V399.5H470.3V396.2H470.8V396.1H471.3V399.6H471.8V399.9H472.3V400.0H473.8V399.9H474.3V399.3H474.8V398.2H475.3V398.8H475.8V399.9H476.3V400.0H476.8V399.9H477.3V400.0H477.8V399.5H478.3V395.5H478.8V395.1H479.3V398.5H479.8V398.9H480.3V394.8H480.8V392.4H481.3V393.4H481.8V398.0H482.3V399.9H482.8V400.0H483.8V399.9H484.3V400.0H485.8V399.9H486.3V400.0H488.3V399.9H488.8V400.0H489.3V399.9H489.8V400.0H491.8V399.9H492.3V400.0H496.0V400.1Z" fill="#8cc6ff"/>
<text x="405.90" y="407.48" font-size="6.5" text-anchor="end" fill="#111" stroke="#111" stroke-width="0.14" textLength="57.2" lengthAdjust="spacingAndGlyphs">SUPB15 ATAC LASP</text>
<rect x="410.50" y="400.56" width="1.00" height="1.00" fill="#888"/>
<rect x="412.80" y="400.56" width="2.40" height="1.00" fill="#999"/>
<rect x="410.30" y="407.92" width="85.70" height="0.90" fill="#b4ccff"/>
<path d="M410.3,408.8V408.7H411.3V408.8H411.8V408.7H412.8V408.8H413.3V408.7H417.8V408.8H418.3V408.7H420.8V408.8H421.3V408.7H424.8V408.8H425.3V408.7H429.8V408.6H430.3V408.3H430.8V408.7H432.3V408.1H432.8V408.6H433.3V408.8H433.8V408.7H434.8V408.8H435.3V408.7H435.8V408.8H436.3V408.7H437.8V408.5H438.3V408.6H438.8V408.8H439.3V408.7H441.3V408.8H441.8V408.7H442.3V408.8H442.8V408.7H445.8V408.8H446.3V408.7H447.8V408.8H448.3V408.7H449.3V408.8H449.8V408.7H450.3V408.8H450.8V408.7H451.3V408.8H451.8V408.7H452.8V408.8H453.3V408.7H455.8V408.6H456.3V406.9H456.8V404.1H457.3V407.6H457.8V408.6H458.3V408.8H458.8V408.5H459.3V406.6H459.8V405.5H460.3V407.9H460.8V408.7H461.3V408.8H461.8V408.7H462.3V408.8H462.8V408.7H463.8V408.5H464.3V408.1H464.8V407.6H465.3V408.0H465.8V408.2H466.3V408.6H466.8V408.7H467.3V408.8H467.8V408.7H469.8V408.2H470.3V405.7H470.8V405.1H471.3V408.3H471.8V408.7H473.8V408.6H474.3V407.0H474.8V406.2H475.3V407.9H475.8V408.6H476.3V408.8H476.8V408.7H477.8V408.3H478.3V404.5H478.8V402.9H479.3V407.5H479.8V408.5H480.3V405.9H480.8V403.5H481.3V407.0H481.8V408.7H484.3V408.8H484.8V408.7H485.8V408.8H486.3V408.7H488.8V408.8H489.3V408.7H492.8V408.8H493.3V408.7H496.0V408.8Z" fill="#1468ff"/>
<line x1="410.60" y1="412.00" x2="440.50" y2="412.00" stroke="#b4b4f0" stroke-width="0.6"/>
<rect x="412.75" y="411.65" width="0.70" height="0.70" fill="#5a5ae0"/>
<rect x="417.75" y="411.65" width="0.70" height="0.70" fill="#5a5ae0"/>
<rect x="422.75" y="411.65" width="0.70" height="0.70" fill="#5a5ae0"/>
<rect x="427.75" y="411.65" width="0.70" height="0.70" fill="#5a5ae0"/>
<rect x="432.75" y="411.65" width="0.70" height="0.70" fill="#5a5ae0"/>
<rect x="437.75" y="411.65" width="0.70" height="0.70" fill="#5a5ae0"/>
<text x="425.00" y="416.50" font-size="2.7" text-anchor="middle" fill="#2a2a2a" stroke="#2a2a2a" stroke-width="0.2">CARD11</text>
<rect x="409.80" y="338.60" width="86.70" height="78.70" fill="none" stroke="#a8a8a8" stroke-width="0.9"/>
<line x1="409.80" y1="338.60" x2="409.80" y2="417.30" stroke="#9a9a9a" stroke-width="0.9"/>
<text x="91.40" y="451.20" font-size="7.2" text-anchor="start" fill="#111" stroke="#111" stroke-width="0.12" font-style="italic" textLength="20.3" lengthAdjust="spacing">DDIT3</text>
<text x="43.70" y="460.20" font-size="7.1" text-anchor="start" fill="#111" stroke="#111" stroke-width="0.1" textLength="115.7" lengthAdjust="spacing">chr12:57,908,041-57,915,970 (hg19)</text>
<rect x="68.50" y="465.60" width="86.90" height="82.80" fill="#f8f8f8"/>
<text x="65.40" y="472.90" font-size="6.5" text-anchor="end" fill="#111" stroke="#111" stroke-width="0.14" textLength="42.1" lengthAdjust="spacingAndGlyphs">Nalm6 ATF4 ctrl</text>
<rect x="69.20" y="466.53" width="1.00" height="1.00" fill="#888"/>
<rect x="71.50" y="466.53" width="2.40" height="1.00" fill="#999"/>
<rect x="69.00" y="473.80" width="85.90" height="0.90" fill="#f0c6d0"/>
<path d="M69.0,474.7V474.6H70.0V474.7H70.5V474.6H72.0V474.7H72.5V474.6H74.5V474.7H75.5V474.6H76.0V474.7H76.5V474.6H77.5V474.5H78.0V474.1H78.5V474.5H79.0V474.6H87.0V474.7H87.5V474.6H97.5V474.7H98.0V474.6H98.5V474.7H99.0V474.6H100.5V474.7H101.0V474.6H102.0V474.7H102.5V474.6H107.0V474.7H107.5V474.6H109.0V474.7H109.5V474.6H111.5V474.7H112.0V474.6H116.5V474.7H117.0V474.6H117.5V474.7H118.5V474.6H122.5V474.5H124.0V474.2H124.5V474.0H125.0V473.5H125.5V473.3H126.0V472.9H126.5V472.4H127.0V471.7H127.5V471.9H128.0V471.5H128.5V471.2H129.0V471.5H129.5V471.8H130.0V472.0H130.5V472.3H131.0V472.7H131.5V472.8H132.5V473.3H133.0V473.0H133.5V473.4H134.0V473.3H134.5V473.2H135.5V472.7H136.0V472.1H136.5V471.8H137.0V470.3H137.5V470.7H138.0V469.4H138.5V468.8H139.0V467.9H139.5V469.2H140.0V467.5H140.5V468.0H141.0V469.4H141.5V470.1H142.0V470.3H142.5V471.6H143.0V471.4H143.5V472.2H144.0V473.1H145.0V473.6H145.5V473.7H146.5V473.8H147.0V474.1H148.5V474.3H149.0V474.4H149.5V474.1H150.5V474.5H151.5V474.6H154.5V474.7H154.9V474.7Z" fill="#d20f2c"/>
<text x="65.40" y="481.90" font-size="6.5" text-anchor="end" fill="#111" stroke="#111" stroke-width="0.14" textLength="49.0" lengthAdjust="spacingAndGlyphs">Nalm6 ATF4 LASP</text>
<rect x="69.20" y="475.20" width="1.00" height="1.00" fill="#888"/>
<rect x="71.50" y="475.20" width="2.40" height="1.00" fill="#999"/>
<rect x="69.00" y="482.47" width="85.90" height="0.90" fill="#d6b8bc"/>
<path d="M69.0,483.4V483.3H71.0V483.2H71.5V483.3H76.5V483.2H77.0V483.3H77.5V483.2H78.0V483.3H83.0V483.1H83.5V482.6H84.0V482.9H84.5V483.2H85.0V483.3H85.5V483.2H86.0V483.3H87.5V483.2H88.0V482.9H88.5V483.1H89.0V483.3H89.5V483.2H90.5V483.3H92.0V483.2H92.5V483.3H94.0V483.2H94.5V483.3H98.5V483.2H99.0V483.3H100.0V483.2H100.5V483.3H102.5V483.2H103.5V483.3H107.0V483.2H109.0V483.3H112.0V483.2H112.5V483.3H114.0V483.1H114.5V483.0H115.0V483.2H115.5V483.3H120.0V483.2H121.0V483.3H121.5V483.2H122.5V483.0H123.0V482.9H123.5V482.5H124.0V482.2H124.5V481.4H125.0V481.1H125.5V479.7H126.0V478.7H126.5V477.5H127.0V478.2H127.5V478.1H128.0V478.6H128.5V478.8H129.0V477.9H129.5V478.2H130.0V479.8H130.5V480.3H132.0V479.9H132.5V480.9H133.0V480.2H133.5V480.9H134.0V481.0H134.5V481.5H135.0V481.8H135.5V482.0H136.0V481.8H136.5V480.6H137.0V479.8H137.5V477.4H138.0V476.4H138.5V476.8H139.0V476.6H139.5V478.2H140.0V477.3H140.5V477.7H141.0V478.4H141.5V479.3H142.0V480.4H142.5V481.8H143.0V482.6H143.5V482.7H144.5V482.5H145.0V482.4H145.5V482.5H146.0V482.6H146.5V482.5H147.0V482.6H147.5V482.7H148.0V482.8H148.5V482.9H149.0V483.0H149.5V483.1H150.0V483.2H151.5V483.3H154.0V483.2H154.5V483.3H154.9V483.4Z" fill="#6e0a12"/>
<text x="65.40" y="490.90" font-size="6.5" text-anchor="end" fill="#111" stroke="#111" stroke-width="0.14" textLength="43.2" lengthAdjust="spacingAndGlyphs">Nalm6 ATAC ctrl</text>
<rect x="69.20" y="483.87" width="1.00" height="1.00" fill="#888"/>
<rect x="71.50" y="483.87" width="2.40" height="1.00" fill="#999"/>
<rect x="69.00" y="491.14" width="85.90" height="0.90" fill="#ffd6d6"/>
<path d="M69.0,492.0V492.0H70.0V491.9H70.5V492.0H71.5V491.9H73.5V492.0H74.5V491.9H76.0V492.0H76.5V491.9H77.0V492.0H77.5V491.9H78.0V492.0H78.5V491.9H79.0V492.0H79.5V491.9H82.5V492.0H83.0V491.9H83.5V492.0H84.5V491.9H85.5V492.0H87.0V491.9H88.0V492.0H88.5V491.9H89.0V492.0H89.5V491.9H90.0V492.0H92.5V491.9H93.5V491.5H94.0V491.7H94.5V492.0H95.5V491.9H97.0V492.0H97.5V491.9H98.5V491.8H99.0V491.6H99.5V491.9H101.0V491.6H101.5V491.9H104.0V492.0H105.0V491.9H105.5V492.0H106.0V491.9H107.0V492.0H108.5V491.9H109.5V492.0H112.0V491.9H113.0V492.0H115.0V491.9H115.5V491.7H116.0V491.9H116.5V492.0H117.0V491.9H118.5V492.0H119.0V491.9H119.5V492.0H120.0V491.9H121.0V492.0H122.0V491.9H123.5V492.0H124.0V491.9H124.5V491.8H125.0V491.6H125.5V491.3H126.0V491.0H126.5V490.3H127.0V489.7H127.5V489.1H128.0V489.5H128.5V489.2H129.0V489.1H129.5V490.0H130.0V490.5H130.5V490.6H131.0V490.8H132.5V490.6H133.5V490.8H134.0V490.2H134.5V490.1H135.0V490.2H135.5V489.9H136.0V489.7H136.5V489.6H137.0V489.8H137.5V489.9H138.0V488.2H138.5V486.6H139.0V484.4H139.5V486.0H140.0V486.1H140.5V488.4H141.0V488.2H141.5V488.3H142.0V488.8H142.5V490.2H143.0V491.1H143.5V491.6H144.0V491.8H144.5V492.0H145.0V491.9H145.5V492.0H147.5V491.9H148.0V492.0H148.5V491.9H150.5V492.0H151.5V491.9H152.5V492.0H154.0V491.9H154.5V492.0H154.9V492.0Z" fill="#ff8a8a"/>
<text x="65.40" y="499.90" font-size="6.5" text-anchor="end" fill="#111" stroke="#111" stroke-width="0.14" textLength="50.1" lengthAdjust="spacingAndGlyphs">Nalm6 ATAC LASP</text>
<rect x="69.20" y="492.54" width="1.00" height="1.00" fill="#888"/>
<rect x="71.50" y="492.54" width="2.40" height="1.00" fill="#999"/>
<rect x="69.00" y="499.81" width="85.90" height="0.90" fill="#ffbcd4"/>
<path d="M69.0,500.7V500.6H71.5V500.7H72.5V500.6H79.0V500.5H79.5V500.1H80.0V500.5H80.5V500.6H81.5V500.7H82.0V500.6H83.0V500.7H83.5V500.6H84.5V500.7H85.0V500.6H86.0V500.7H87.0V500.6H89.5V500.4H90.0V500.1H90.5V500.6H91.0V500.7H91.5V500.6H92.5V500.7H93.0V500.6H98.5V500.7H99.0V500.6H100.0V500.7H100.5V500.6H101.0V500.7H101.5V500.6H102.0V500.7H102.5V500.6H106.5V500.7H107.0V500.6H116.0V500.7H116.5V500.6H120.5V500.7H121.0V500.6H123.0V500.7H123.5V500.6H124.5V500.5H125.0V500.3H125.5V499.8H126.0V499.0H126.5V498.2H127.0V496.5H127.5V494.8H128.5V495.0H129.0V495.6H129.5V497.6H130.0V497.8H130.5V498.6H131.0V498.8H131.5V499.3H132.5V499.5H133.0V499.8H133.5V499.9H134.0V500.1H134.5V500.2H135.0V500.3H135.5V500.4H136.5V500.2H137.0V499.7H137.5V498.6H138.0V497.2H138.5V495.5H139.0V495.7H139.5V493.5H140.0V494.8H140.5V496.0H141.0V497.4H141.5V497.1H142.0V496.2H142.5V497.4H143.0V497.9H143.5V498.5H144.0V499.5H144.5V500.3H145.0V500.5H145.5V500.4H146.0V500.3H146.5V500.5H147.0V500.6H147.5V500.2H148.0V500.6H151.5V500.7H152.0V500.6H154.5V500.7H154.9V500.7Z" fill="#ff1060"/>
<text x="65.40" y="508.90" font-size="6.5" text-anchor="end" fill="#111" stroke="#111" stroke-width="0.14" textLength="49.2" lengthAdjust="spacingAndGlyphs">SUPB15 ATF4 ctrl</text>
<rect x="69.20" y="501.21" width="1.00" height="1.00" fill="#888"/>
<rect x="71.50" y="501.21" width="2.40" height="1.00" fill="#999"/>
<rect x="69.00" y="508.48" width="85.90" height="0.90" fill="#bcbcee"/>
<path d="M69.0,509.4V509.3H71.0V509.2H71.5V509.3H76.5V509.2H77.0V509.3H81.5V509.2H82.5V508.8H83.0V509.2H83.5V509.3H84.0V509.2H84.5V509.3H94.5V509.2H95.0V509.3H103.5V509.2H104.0V509.3H124.0V509.2H125.0V509.1H125.5V509.0H126.0V508.7H126.5V508.5H127.0V508.1H127.5V507.8H128.0V507.5H129.0V507.9H129.5V508.2H130.0V508.6H130.5V509.0H131.5V509.1H132.0V509.2H132.5V509.3H134.0V509.2H134.5V508.9H135.0V509.0H135.5V509.1H136.0V509.0H136.5V508.7H137.0V508.3H137.5V507.7H138.0V506.5H138.5V505.2H139.0V504.5H139.5V503.8H140.0V503.7H140.5V503.0H141.0V504.6H141.5V505.0H142.0V505.6H142.5V506.5H143.0V507.3H143.5V508.1H144.0V508.2H144.5V509.0H145.0V509.1H145.5V509.2H146.0V509.3H148.0V509.2H148.5V509.3H154.9V509.4Z" fill="#2828c4"/>
<text x="65.40" y="517.90" font-size="6.5" text-anchor="end" fill="#111" stroke="#111" stroke-width="0.14" textLength="56.1" lengthAdjust="spacingAndGlyphs">SUPB15 ATF4 LASP</text>
<rect x="69.20" y="509.88" width="1.00" height="1.00" fill="#888"/>
<rect x="71.50" y="509.88" width="2.40" height="1.00" fill="#999"/>
<rect x="69.00" y="517.15" width="85.90" height="0.90" fill="#ababcc"/>
<path d="M69.0,518.0V518.0H69.5V517.9H70.0V518.0H71.5V517.9H73.0V518.0H74.0V517.9H74.5V518.0H75.0V517.9H75.5V518.0H77.5V517.9H78.0V518.0H79.0V517.8H80.0V517.9H80.5V518.0H82.0V517.9H82.5V518.0H84.0V517.9H85.0V518.0H87.0V517.9H87.5V518.0H88.0V517.9H88.5V518.0H90.5V517.9H91.5V518.0H92.0V517.9H92.5V518.0H93.0V517.9H93.5V518.0H94.5V517.9H95.0V518.0H95.5V517.8H96.0V517.3H96.5V517.8H97.0V518.0H98.5V517.9H99.0V518.0H100.5V517.9H101.5V517.8H102.0V517.6H102.5V517.9H103.0V518.0H103.5V517.9H104.0V518.0H107.5V517.9H108.5V518.0H109.0V517.9H110.0V518.0H110.5V517.9H111.5V518.0H112.5V517.9H113.5V518.0H114.0V517.9H114.5V518.0H116.0V517.9H117.0V517.6H117.5V517.9H118.0V518.0H118.5V517.9H119.0V518.0H121.5V517.9H122.0V518.0H122.5V517.9H123.0V517.8H124.0V517.6H124.5V517.4H125.0V517.0H125.5V516.6H126.0V516.2H126.5V515.3H127.0V514.1H127.5V514.6H128.0V514.1H128.5V513.5H129.0V514.0H129.5V515.4H130.0V516.0H130.5V516.4H131.0V516.9H131.5V517.4H132.0V517.6H132.5V517.7H133.0V517.9H135.5V517.8H136.0V517.7H136.5V517.4H137.0V517.0H137.5V516.1H138.0V515.2H138.5V514.9H139.0V513.1H139.5V512.3H140.0V512.1H140.5V513.2H141.0V513.6H141.5V513.4H142.0V514.0H142.5V515.2H143.0V516.0H143.5V517.0H144.0V517.3H144.5V517.6H145.0V517.7H145.5V517.6H146.0V517.9H148.5V518.0H152.5V517.9H153.5V518.0H154.0V517.9H154.5V518.0H154.9V518.0Z" fill="#16166c"/>
<text x="65.40" y="526.90" font-size="6.5" text-anchor="end" fill="#111" stroke="#111" stroke-width="0.14" textLength="50.3" lengthAdjust="spacingAndGlyphs">SUPB15 ATAC ctrl</text>
<rect x="69.20" y="518.55" width="1.00" height="1.00" fill="#888"/>
<rect x="71.50" y="518.55" width="2.40" height="1.00" fill="#999"/>
<rect x="69.00" y="525.82" width="85.90" height="0.90" fill="#cfe6ff"/>
<path d="M69.0,526.7V526.6H70.5V526.7H71.0V526.6H71.5V526.7H72.0V526.6H75.5V526.7H77.5V526.6H79.5V526.7H80.5V526.6H82.0V526.4H83.0V526.7H83.5V526.6H84.5V526.7H85.0V526.6H86.0V526.7H87.0V526.6H87.5V526.7H88.0V526.6H88.5V526.7H89.0V526.6H89.5V526.7H90.5V526.6H93.5V526.7H94.0V526.6H95.5V526.7H96.0V526.6H98.0V526.7H98.5V526.6H100.0V526.7H101.5V526.6H102.0V526.7H102.5V526.6H104.5V526.5H105.0V526.2H105.5V526.5H106.0V526.6H106.5V526.1H107.0V526.4H107.5V526.6H109.0V526.7H109.5V526.6H110.5V526.7H111.0V526.6H111.5V526.7H113.0V526.6H114.0V526.7H114.5V526.6H115.0V526.7H115.5V526.6H119.0V526.7H119.5V526.6H121.5V526.7H122.5V526.6H124.0V526.5H125.0V526.3H125.5V525.8H126.0V525.6H126.5V525.4H127.0V525.2H127.5V524.7H128.0V524.4H128.5V524.8H129.0V525.3H129.5V525.4H130.0V525.8H130.5V526.1H131.0V526.3H131.5V526.5H132.0V526.6H137.0V526.4H137.5V525.8H138.0V524.6H138.5V522.4H139.0V521.6H139.5V520.6H140.0V520.9H140.5V521.6H141.0V522.2H141.5V523.4H142.0V523.1H142.5V524.6H143.0V525.3H143.5V525.9H144.0V526.4H144.5V526.5H145.0V526.6H147.0V526.7H147.5V526.6H148.0V526.7H148.5V526.6H149.5V526.7H150.0V526.6H153.5V526.7H154.0V526.6H154.9V526.7Z" fill="#8cc6ff"/>
<text x="65.40" y="535.90" font-size="6.5" text-anchor="end" fill="#111" stroke="#111" stroke-width="0.14" textLength="57.2" lengthAdjust="spacingAndGlyphs">SUPB15 ATAC LASP</text>
<rect x="69.20" y="527.22" width="1.00" height="1.00" fill="#888"/>
<rect x="71.50" y="527.22" width="2.40" height="1.00" fill="#999"/>
<rect x="69.00" y="534.49" width="85.90" height="0.90" fill="#b4ccff"/>
<path d="M69.0,535.4V535.2H70.0V535.1H71.0V535.0H71.5V534.8H72.5V534.7H73.0V534.6H73.5V534.5H74.0V534.4H74.5V534.3H75.5V534.2H76.0V534.4H76.5V534.2H77.0V534.4H77.5V534.6H78.0V534.5H78.5V534.6H79.0V534.9H79.5V534.8H80.0V535.0H81.0V535.1H81.5V535.2H83.0V535.3H84.5V535.2H85.0V535.0H85.5V535.1H86.0V535.3H88.5V535.2H89.0V535.3H89.5V535.2H90.0V535.3H92.0V535.2H93.0V535.3H95.5V535.2H96.0V535.3H97.0V535.2H97.5V535.3H99.5V535.2H100.0V535.3H102.5V535.2H103.0V535.3H103.5V535.2H104.0V535.3H104.5V535.2H105.0V535.3H110.0V535.2H110.5V535.3H112.0V535.2H112.5V535.3H113.5V535.2H114.5V534.8H115.0V535.2H115.5V535.3H119.0V535.2H119.5V535.3H121.0V535.2H121.5V535.3H123.5V535.2H124.0V535.3H124.5V535.2H125.5V534.9H126.0V534.2H126.5V533.7H127.0V532.9H127.5V532.4H128.0V531.3H128.5V531.5H129.0V532.4H129.5V533.4H130.0V534.3H130.5V534.8H131.0V535.1H131.5V535.2H132.5V534.8H133.0V535.1H133.5V535.3H136.5V535.2H137.0V535.1H137.5V534.4H138.0V533.5H138.5V531.1H139.0V529.2H139.5V529.4H140.0V528.9H140.5V531.3H141.0V531.7H141.5V532.6H142.0V532.2H142.5V531.8H143.0V533.1H143.5V534.1H144.0V534.7H144.5V535.0H145.0V535.2H146.0V535.3H147.5V535.2H149.0V535.0H149.5V534.7H150.0V534.2H150.5V534.1H151.0V533.7H151.5V533.9H152.0V533.8H152.5V534.2H153.0V534.1H153.5V534.5H154.0V534.8H154.5V535.1H154.9V535.4Z" fill="#1468ff"/>
<line x1="70.00" y1="537.80" x2="95.00" y2="537.80" stroke="#9090e0" stroke-width="0.5"/>
<rect x="72.90" y="536.90" width="2.10" height="1.80" fill="#1a1ab8"/>
<rect x="76.00" y="536.90" width="3.60" height="1.80" fill="#1a1ab8"/>
<rect x="86.30" y="536.90" width="1.00" height="1.80" fill="#1a1ab8"/>
<rect x="90.40" y="536.90" width="3.60" height="1.80" fill="#1a1ab8"/>
<rect x="122.50" y="537.20" width="1.00" height="1.20" fill="#1a1ab8"/>
<text x="81.40" y="541.20" font-size="2.7" text-anchor="middle" fill="#2a2a2a" stroke="#2a2a2a" stroke-width="0.2">MARS1</text>
<text x="123.00" y="541.20" font-size="2.7" text-anchor="middle" fill="#2a2a2a" stroke="#2a2a2a" stroke-width="0.2">ARHGAP9</text>
<line x1="106.00" y1="543.60" x2="137.40" y2="543.60" stroke="#b4b4f0" stroke-width="0.6"/>
<rect x="108.15" y="543.25" width="0.70" height="0.70" fill="#5a5ae0"/>
<rect x="113.15" y="543.25" width="0.70" height="0.70" fill="#5a5ae0"/>
<rect x="118.15" y="543.25" width="0.70" height="0.70" fill="#5a5ae0"/>
<rect x="123.15" y="543.25" width="0.70" height="0.70" fill="#5a5ae0"/>
<rect x="128.15" y="543.25" width="0.70" height="0.70" fill="#5a5ae0"/>
<rect x="133.15" y="543.25" width="0.70" height="0.70" fill="#5a5ae0"/>
<rect x="94.00" y="542.60" width="12.10" height="2.00" fill="#1a1ab8"/>
<rect x="136.80" y="542.80" width="1.20" height="1.60" fill="#1a1ab8"/>
<text x="114.50" y="547.50" font-size="2.7" text-anchor="middle" fill="#2a2a2a" stroke="#2a2a2a" stroke-width="0.2">DDIT3</text>
<rect x="68.50" y="465.60" width="86.90" height="82.80" fill="none" stroke="#a8a8a8" stroke-width="0.9"/>
<line x1="68.50" y1="465.60" x2="68.50" y2="548.40" stroke="#9a9a9a" stroke-width="0.9"/>
<text x="257.20" y="451.20" font-size="7.2" text-anchor="start" fill="#111" stroke="#111" stroke-width="0.12" font-style="italic" textLength="28.75" lengthAdjust="spacing">PMEPA1</text>
<text x="213.75" y="460.20" font-size="7.1" text-anchor="start" fill="#111" stroke="#111" stroke-width="0.1" textLength="118" lengthAdjust="spacing">chr20:56,231,079-56,298,223 (hg19)</text>
<rect x="239.20" y="468.10" width="87.10" height="78.00" fill="#f8f8f8"/>
<text x="235.90" y="472.90" font-size="6.5" text-anchor="end" fill="#111" stroke="#111" stroke-width="0.14" textLength="42.1" lengthAdjust="spacingAndGlyphs">Nalm6 ATF4 ctrl</text>
<rect x="239.90" y="468.71" width="1.00" height="1.00" fill="#888"/>
<rect x="242.20" y="468.71" width="2.40" height="1.00" fill="#999"/>
<rect x="239.70" y="476.10" width="86.10" height="0.90" fill="#f0c6d0"/>
<path d="M239.7,477.0V476.9H246.2V477.0H246.7V476.9H247.7V477.0H248.7V476.9H249.7V476.6H250.2V476.8H250.7V477.0H251.7V476.9H256.7V476.8H257.2V476.5H257.7V476.6H258.2V476.9H259.7V476.5H260.2V475.9H260.7V475.2H261.2V476.3H261.7V476.8H263.2V476.9H269.2V476.7H269.7V476.0H270.2V474.8H271.7V475.5H272.2V475.6H272.7V475.4H273.2V475.7H273.7V476.5H274.2V476.4H274.7V475.5H275.2V475.6H275.7V476.5H276.2V476.9H279.7V476.7H280.2V476.2H280.7V475.6H281.2V475.9H281.7V476.7H282.2V476.9H292.7V477.0H293.2V476.9H295.2V476.4H295.7V475.5H296.2V475.1H296.7V476.2H297.2V476.8H297.7V476.9H300.2V476.6H300.7V475.6H301.2V474.3H301.7V474.9H302.2V476.5H302.7V476.9H308.7V476.5H309.2V475.4H309.7V473.2H310.2V472.4H310.7V474.3H311.2V476.1H311.7V476.7H312.2V476.9H312.7V477.0H313.2V476.9H316.7V477.0H317.2V476.9H320.7V476.6H321.2V475.5H321.7V475.2H322.2V475.9H322.7V476.7H323.2V476.9H324.7V477.0H325.2V476.9H325.8V477.0Z" fill="#d20f2c"/>
<text x="235.90" y="481.90" font-size="6.5" text-anchor="end" fill="#111" stroke="#111" stroke-width="0.14" textLength="49.0" lengthAdjust="spacingAndGlyphs">Nalm6 ATF4 LASP</text>
<rect x="239.90" y="477.50" width="1.00" height="1.00" fill="#888"/>
<rect x="242.20" y="477.50" width="2.40" height="1.00" fill="#999"/>
<rect x="239.70" y="484.89" width="86.10" height="0.90" fill="#d6b8bc"/>
<path d="M239.7,485.8V485.7H241.2V485.6H241.7V485.5H242.2V485.6H242.7V485.7H251.2V485.6H251.7V485.7H254.7V485.6H255.2V485.7H256.7V485.6H257.2V485.7H259.2V485.6H259.7V485.3H260.2V483.8H260.7V483.5H261.2V484.9H261.7V485.6H262.2V485.7H267.7V485.6H268.2V485.7H268.7V485.6H269.2V485.3H269.7V484.6H270.2V483.7H270.7V482.7H271.2V483.6H271.7V483.9H272.2V484.2H272.7V483.7H273.2V484.3H273.7V485.0H274.2V484.3H274.7V483.8H275.2V484.2H275.7V485.3H276.2V485.7H277.2V485.6H277.7V485.7H279.7V485.5H280.2V484.8H280.7V484.0H281.2V484.7H281.7V485.5H282.2V485.6H283.2V485.3H283.7V485.6H284.2V485.7H287.7V485.6H288.2V485.7H293.2V485.6H293.7V485.7H295.2V485.1H295.7V483.5H296.2V483.2H296.7V484.7H297.2V485.2H298.2V485.6H299.2V485.4H299.7V485.5H300.2V485.3H300.7V483.6H301.2V482.4H301.7V483.3H302.2V485.2H302.7V485.6H303.7V485.7H304.7V485.6H305.2V485.5H305.7V485.4H306.2V485.7H308.7V485.4H309.2V484.3H309.7V482.7H310.2V481.4H310.7V482.6H311.2V484.6H311.7V485.5H312.2V485.7H312.7V485.6H313.2V485.7H314.2V485.6H314.7V485.7H318.7V485.6H319.2V485.7H320.2V485.6H320.7V485.4H321.2V484.2H321.7V483.5H322.2V484.5H322.7V485.5H323.2V485.6H323.7V485.7H325.7V485.6H325.8V485.8Z" fill="#6e0a12"/>
<text x="235.90" y="490.90" font-size="6.5" text-anchor="end" fill="#111" stroke="#111" stroke-width="0.14" textLength="43.2" lengthAdjust="spacingAndGlyphs">Nalm6 ATAC ctrl</text>
<rect x="239.90" y="486.29" width="1.00" height="1.00" fill="#888"/>
<rect x="242.20" y="486.29" width="2.40" height="1.00" fill="#999"/>
<rect x="239.70" y="493.68" width="86.10" height="0.90" fill="#ffd6d6"/>
<path d="M239.7,494.6V494.5H246.2V494.3H247.2V494.4H247.7V494.5H255.7V494.4H256.2V494.5H257.2V494.4H257.7V494.5H260.2V493.7H260.7V493.2H261.2V494.3H261.7V494.5H264.2V494.3H264.7V494.2H265.2V494.4H265.7V494.5H270.2V493.9H270.7V491.8H271.2V493.4H271.7V494.5H272.2V494.4H272.7V494.5H274.2V494.1H274.7V493.1H275.2V494.0H275.7V494.5H276.2V494.4H276.7V494.5H281.2V494.2H281.7V492.8H282.2V493.9H282.7V494.5H286.2V494.4H286.7V494.5H291.7V494.2H292.2V494.0H292.7V494.4H293.2V494.5H295.2V494.4H295.7V493.0H296.2V492.2H296.7V494.1H297.2V494.5H300.7V494.0H301.2V492.0H301.7V493.8H302.2V494.5H303.2V494.4H303.7V494.5H304.2V494.4H304.7V494.5H309.2V494.3H309.7V492.1H310.2V489.1H310.7V493.0H311.2V494.5H320.7V494.4H321.2V492.4H321.7V488.3H322.2V493.3H322.7V494.5H325.8V494.6Z" fill="#ff8a8a"/>
<text x="235.90" y="499.90" font-size="6.5" text-anchor="end" fill="#111" stroke="#111" stroke-width="0.14" textLength="50.1" lengthAdjust="spacingAndGlyphs">Nalm6 ATAC LASP</text>
<rect x="239.90" y="495.08" width="1.00" height="1.00" fill="#888"/>
<rect x="242.20" y="495.08" width="2.40" height="1.00" fill="#999"/>
<rect x="239.70" y="502.47" width="86.10" height="0.90" fill="#ffbcd4"/>
<path d="M239.7,503.4V503.2H240.2V503.3H240.7V503.2H242.2V503.3H243.7V503.2H244.2V503.0H245.2V502.7H245.7V503.1H246.2V502.9H246.7V503.1H247.2V503.3H248.7V503.2H249.2V503.3H249.7V503.2H250.2V503.3H251.2V503.2H252.2V503.3H253.2V503.2H253.7V503.3H257.2V503.2H257.7V503.3H259.7V503.2H260.2V502.3H260.7V501.2H261.2V503.1H261.7V503.2H263.7V503.3H265.7V503.2H266.2V503.3H269.7V503.2H270.2V502.2H270.7V499.8H271.2V501.6H271.7V501.8H272.2V500.6H272.7V501.7H273.2V503.2H274.2V502.8H274.7V500.9H275.2V502.3H275.7V503.2H276.7V503.3H278.7V503.2H279.2V503.3H280.7V503.2H281.2V502.9H281.7V501.6H282.2V502.7H282.7V503.3H283.2V503.2H283.7V503.3H285.2V503.2H285.7V503.3H287.7V503.2H288.2V503.3H288.7V503.2H289.7V503.3H290.7V503.2H291.2V503.3H292.2V503.2H292.7V503.3H293.2V503.2H293.7V503.3H294.7V503.2H295.7V501.2H296.2V500.1H296.7V503.0H297.2V503.3H298.2V503.2H298.7V503.3H300.2V503.2H300.7V502.7H301.2V500.1H301.7V502.4H302.2V503.3H303.2V503.2H303.7V503.3H304.2V503.2H304.7V503.3H308.2V503.2H308.7V503.3H309.2V503.0H309.7V500.0H310.2V496.1H310.7V501.6H311.2V503.2H311.7V503.3H312.2V503.2H312.7V503.3H313.2V503.2H314.2V503.3H316.2V503.2H318.2V503.3H320.2V503.2H320.7V503.3H321.2V500.9H321.7V497.3H322.2V502.2H322.7V503.3H323.7V503.2H324.7V503.3H325.8V503.4Z" fill="#ff1060"/>
<text x="235.90" y="508.90" font-size="6.5" text-anchor="end" fill="#111" stroke="#111" stroke-width="0.14" textLength="49.2" lengthAdjust="spacingAndGlyphs">SUPB15 ATF4 ctrl</text>
<rect x="239.90" y="503.87" width="1.00" height="1.00" fill="#888"/>
<rect x="242.20" y="503.87" width="2.40" height="1.00" fill="#999"/>
<rect x="239.70" y="510.96" width="86.10" height="1.20" fill="#3c3cc8"/>
<path d="M239.7,512.2V511.7H240.7V511.5H241.2V511.8H241.7V511.3H242.2V511.4H242.7V511.7H243.2V511.8H244.2V511.9H244.7V511.8H245.2V511.7H245.7V511.6H247.2V511.7H247.7V511.6H248.2V511.7H248.7V511.9H249.2V511.7H249.7V511.9H250.2V511.8H251.2V511.6H252.2V511.8H252.7V511.3H253.2V511.6H253.7V511.5H254.2V511.9H255.2V511.5H255.7V511.8H256.7V511.5H257.2V511.6H259.2V511.8H259.7V511.5H261.2V511.6H262.2V511.7H262.7V511.5H263.2V511.4H263.7V511.8H264.2V511.5H264.7V511.8H265.2V511.4H266.2V511.3H266.7V511.5H267.2V511.4H267.7V511.2H268.2V511.5H268.7V511.1H269.2V511.3H269.7V511.2H270.7V511.1H271.2V511.2H271.7V511.0H272.2V510.8H272.7V511.2H273.2V510.6H273.7V510.8H274.2V510.7H274.7V510.8H275.2V510.9H275.7V510.8H276.2V511.1H276.7V511.2H277.2V510.9H278.2V510.8H278.7V511.0H279.2V511.1H279.7V511.0H280.2V511.2H280.7V511.3H281.2V511.2H281.7V511.4H282.2V511.1H282.7V511.2H283.2V511.5H283.7V511.2H284.2V511.5H284.7V511.2H285.7V511.1H287.2V511.4H287.7V511.6H288.7V511.4H289.2V511.6H289.7V511.1H290.2V511.2H290.7V511.3H291.2V511.2H291.7V511.5H292.2V511.1H292.7V511.2H293.7V511.6H294.2V511.1H294.7V511.2H295.2V511.5H295.7V511.1H296.2V511.2H296.7V511.6H297.2V511.2H297.7V511.3H298.2V511.2H298.7V511.3H299.2V511.6H299.7V511.4H301.7V511.5H302.7V511.6H303.2V511.3H303.7V511.6H304.2V511.5H304.7V511.4H305.2V511.2H305.7V511.6H306.2V511.4H306.7V510.8H307.2V511.1H307.7V511.2H308.2V511.5H308.7V511.4H309.2V511.5H309.7V511.4H310.7V511.6H311.2V511.3H311.7V511.5H312.7V511.6H313.2V511.5H313.7V511.4H314.2V511.6H314.7V511.5H315.2V511.6H316.2V511.8H316.7V511.6H317.2V511.5H317.7V511.9H318.2V511.7H318.7V511.8H319.7V511.9H320.2V511.7H320.7V511.6H321.2V511.7H321.7V511.5H322.2V511.8H322.7V511.6H323.2V511.5H325.2V511.6H325.8V512.2Z" fill="#2828c4"/>
<text x="235.90" y="517.90" font-size="6.5" text-anchor="end" fill="#111" stroke="#111" stroke-width="0.14" textLength="56.1" lengthAdjust="spacingAndGlyphs">SUPB15 ATF4 LASP</text>
<rect x="239.90" y="512.66" width="1.00" height="1.00" fill="#888"/>
<rect x="242.20" y="512.66" width="2.40" height="1.00" fill="#999"/>
<rect x="239.70" y="519.75" width="86.10" height="1.20" fill="#2a2a84"/>
<path d="M239.7,521.0V520.4H240.7V520.7H241.2V520.6H242.2V520.7H242.7V520.6H243.7V520.7H244.2V520.4H244.7V520.6H245.7V520.4H246.2V520.5H246.7V520.4H247.7V520.5H248.7V520.4H249.7V520.2H250.2V520.3H250.7V520.4H251.2V520.5H251.7V520.3H252.2V520.5H252.7V520.4H253.2V520.6H253.7V520.4H254.7V520.7H256.2V520.6H256.7V520.4H258.2V520.7H258.7V520.3H259.2V520.7H259.7V520.6H260.2V520.3H260.7V520.7H261.7V520.4H262.7V520.3H263.2V520.0H263.7V520.4H264.7V520.5H265.7V520.2H266.2V520.3H266.7V520.4H267.2V520.5H267.7V520.4H268.7V520.3H269.2V520.5H270.2V520.4H270.7V520.1H271.2V520.4H271.7V520.3H272.7V520.1H273.2V520.2H273.7V520.1H274.2V520.0H274.7V520.2H275.2V520.3H275.7V520.2H276.2V520.1H276.7V520.2H277.7V519.9H278.2V520.3H279.2V520.2H279.7V520.0H280.2V520.2H282.2V520.0H282.7V520.2H283.2V520.0H283.7V520.2H284.2V520.1H284.7V520.0H285.2V520.3H285.7V520.0H286.2V520.2H287.2V520.1H287.7V520.3H288.2V520.1H288.7V520.0H289.2V520.3H289.7V520.1H290.7V520.3H291.2V520.2H292.2V520.1H292.7V520.2H293.2V520.4H294.2V520.0H294.7V520.2H295.2V520.1H295.7V520.0H296.2V520.2H296.7V520.1H297.2V520.0H297.7V520.1H298.7V520.3H299.2V520.0H299.7V520.1H300.7V520.0H301.2V520.1H302.7V520.3H303.2V520.0H303.7V520.3H304.2V520.2H304.7V520.1H305.2V520.3H305.7V520.1H306.2V520.2H306.7V520.1H307.7V520.4H308.2V520.2H308.7V520.3H309.2V519.9H309.7V519.5H310.2V518.6H310.7V519.5H311.2V520.2H311.7V520.1H312.2V520.4H313.2V520.3H313.7V519.9H314.2V520.2H314.7V520.6H315.2V520.5H315.7V520.2H316.2V520.3H316.7V520.7H317.2V520.4H318.2V520.5H319.7V520.6H321.2V520.3H321.7V520.6H322.2V520.3H322.7V520.4H323.2V520.3H323.7V520.6H324.2V520.7H324.7V520.5H325.2V520.3H325.7V520.4H325.8V521.0Z" fill="#16166c"/>
<text x="235.90" y="526.90" font-size="6.5" text-anchor="end" fill="#111" stroke="#111" stroke-width="0.14" textLength="50.3" lengthAdjust="spacingAndGlyphs">SUPB15 ATAC ctrl</text>
<rect x="239.90" y="521.45" width="1.00" height="1.00" fill="#888"/>
<rect x="242.20" y="521.45" width="2.40" height="1.00" fill="#999"/>
<rect x="239.70" y="528.84" width="86.10" height="0.90" fill="#cfe6ff"/>
<path d="M239.7,529.7V529.6H240.2V529.7H240.7V529.6H241.2V529.7H241.7V529.6H243.2V529.7H244.2V529.6H247.7V529.7H248.2V529.5H248.7V529.3H249.2V529.4H249.7V529.5H250.2V529.6H251.2V529.5H251.7V529.3H252.2V529.6H253.7V529.7H254.2V529.6H254.7V529.7H255.2V529.6H259.7V529.5H260.2V529.0H260.7V528.8H261.2V529.4H261.7V529.7H262.7V529.6H264.2V529.7H264.7V529.6H265.7V529.7H266.2V529.6H267.2V529.5H267.7V529.6H269.7V529.5H270.2V529.0H270.7V528.0H271.2V528.8H271.7V529.5H272.2V529.2H272.7V528.6H273.2V529.0H273.7V529.5H274.2V529.3H274.7V528.6H275.2V529.0H275.7V529.6H277.7V529.7H278.2V529.6H279.7V529.5H280.2V529.3H280.7V529.0H281.2V529.3H281.7V529.5H282.2V529.6H283.2V529.7H284.2V529.6H284.7V529.5H285.2V529.7H285.7V529.6H286.2V529.7H286.7V529.6H287.2V529.5H288.2V529.6H291.2V529.5H291.7V529.7H292.2V529.6H293.2V529.7H294.2V529.6H294.7V529.5H295.2V528.9H295.7V528.7H296.2V529.3H296.7V529.5H297.2V529.6H298.7V529.7H299.2V529.5H300.2V529.6H300.7V529.3H301.2V528.8H301.7V529.2H302.2V529.6H303.2V529.7H305.2V529.5H305.7V529.7H306.2V529.6H307.7V529.7H308.2V529.6H308.7V529.5H309.2V529.4H309.7V528.5H310.2V527.8H310.7V528.7H311.2V529.6H313.2V529.5H313.7V529.6H315.7V529.3H316.2V529.4H316.7V529.3H317.7V529.6H319.2V529.7H319.7V529.6H321.2V529.1H321.7V528.8H322.2V529.4H322.7V529.6H324.2V529.7H324.7V529.6H325.8V529.7Z" fill="#8cc6ff"/>
<text x="235.90" y="535.90" font-size="6.5" text-anchor="end" fill="#111" stroke="#111" stroke-width="0.14" textLength="57.2" lengthAdjust="spacingAndGlyphs">SUPB15 ATAC LASP</text>
<rect x="239.90" y="530.24" width="1.00" height="1.00" fill="#888"/>
<rect x="242.20" y="530.24" width="2.40" height="1.00" fill="#999"/>
<rect x="239.70" y="537.63" width="86.10" height="0.90" fill="#b4ccff"/>
<path d="M239.7,538.5V538.3H241.2V538.4H241.7V538.2H242.2V538.3H243.2V538.4H245.2V538.3H245.7V538.4H246.7V538.3H247.2V538.4H247.7V538.3H248.2V538.4H248.7V538.3H249.2V538.2H249.7V537.9H250.2V538.1H250.7V537.9H251.2V538.3H251.7V538.4H253.2V538.3H255.2V538.4H255.7V538.3H256.2V538.4H257.2V538.3H259.7V538.2H260.7V538.3H261.2V538.0H261.7V537.4H262.2V537.8H262.7V538.1H263.2V538.2H265.2V538.3H265.7V538.1H266.2V538.3H266.7V538.2H269.7V538.0H270.2V536.9H270.7V536.1H271.2V536.7H271.7V537.1H272.2V536.5H272.7V537.0H273.2V537.2H273.7V536.6H274.2V536.9H274.7V537.7H275.2V537.6H275.7V537.1H276.2V537.7H276.7V538.2H277.2V538.0H277.7V538.1H278.2V538.0H278.7V538.1H279.2V538.2H279.7V538.0H280.2V537.7H280.7V537.2H281.2V537.8H281.7V538.1H282.7V538.2H283.2V538.1H284.7V538.0H285.2V538.1H289.2V538.0H290.2V538.1H291.2V538.0H291.7V538.1H292.7V538.0H293.2V538.1H293.7V538.0H294.2V538.1H295.2V537.7H295.7V537.0H296.2V537.6H296.7V538.1H298.7V538.2H299.2V538.1H299.7V538.2H300.2V538.0H300.7V537.7H301.2V536.9H301.7V537.3H302.2V538.1H303.2V538.0H303.7V538.1H304.7V538.2H305.2V538.1H305.7V538.2H306.2V538.0H306.7V538.1H307.2V538.2H308.2V538.1H308.7V537.9H309.2V537.2H309.7V536.2H310.2V535.5H310.7V536.8H311.2V537.8H311.7V538.2H312.2V538.1H312.7V538.2H315.2V538.1H316.2V538.3H316.7V538.2H317.2V538.3H317.7V538.2H318.2V538.3H319.7V538.2H320.2V538.3H321.2V537.6H321.7V537.2H322.2V537.7H322.7V538.0H323.2V538.3H325.8V538.5Z" fill="#1468ff"/>
<line x1="243.90" y1="541.00" x2="314.90" y2="541.00" stroke="#b4b4f0" stroke-width="0.6"/>
<rect x="246.05" y="540.65" width="0.70" height="0.70" fill="#5a5ae0"/>
<rect x="251.05" y="540.65" width="0.70" height="0.70" fill="#5a5ae0"/>
<rect x="256.05" y="540.65" width="0.70" height="0.70" fill="#5a5ae0"/>
<rect x="261.05" y="540.65" width="0.70" height="0.70" fill="#5a5ae0"/>
<rect x="266.05" y="540.65" width="0.70" height="0.70" fill="#5a5ae0"/>
<rect x="271.05" y="540.65" width="0.70" height="0.70" fill="#5a5ae0"/>
<rect x="276.05" y="540.65" width="0.70" height="0.70" fill="#5a5ae0"/>
<rect x="281.05" y="540.65" width="0.70" height="0.70" fill="#5a5ae0"/>
<rect x="286.05" y="540.65" width="0.70" height="0.70" fill="#5a5ae0"/>
<rect x="291.05" y="540.65" width="0.70" height="0.70" fill="#5a5ae0"/>
<rect x="296.05" y="540.65" width="0.70" height="0.70" fill="#5a5ae0"/>
<rect x="301.05" y="540.65" width="0.70" height="0.70" fill="#5a5ae0"/>
<rect x="306.05" y="540.65" width="0.70" height="0.70" fill="#5a5ae0"/>
<rect x="311.05" y="540.65" width="0.70" height="0.70" fill="#5a5ae0"/>
<rect x="244.00" y="540.25" width="1.00" height="1.50" fill="#1a1ab8"/>
<rect x="284.10" y="540.25" width="1.00" height="1.50" fill="#1a1ab8"/>
<rect x="309.30" y="540.25" width="4.70" height="1.50" fill="#1a1ab8"/>
<text x="275.50" y="545.70" font-size="2.7" text-anchor="middle" fill="#2a2a2a" stroke="#2a2a2a" stroke-width="0.2">PMEPA1</text>
<text x="312.20" y="545.70" font-size="2.7" text-anchor="middle" fill="#2a2a2a" stroke="#2a2a2a" stroke-width="0.2">ANKLE</text>
<rect x="239.20" y="468.10" width="87.10" height="78.00" fill="none" stroke="#a8a8a8" stroke-width="0.9"/>
<line x1="239.20" y1="468.10" x2="239.20" y2="546.10" stroke="#9a9a9a" stroke-width="0.9"/>
<text x="432.20" y="451.20" font-size="7.2" text-anchor="start" fill="#111" stroke="#111" stroke-width="0.12" font-style="italic" textLength="21.75" lengthAdjust="spacing">TRIM2</text>
<text x="383.00" y="460.20" font-size="7.1" text-anchor="start" fill="#111" stroke="#111" stroke-width="0.1" textLength="118.75" lengthAdjust="spacing">chr4:153,977,596-154,124,981 (hg19)</text>
<rect x="410.00" y="467.30" width="86.50" height="78.90" fill="#f8f8f8"/>
<text x="405.90" y="472.90" font-size="6.5" text-anchor="end" fill="#111" stroke="#111" stroke-width="0.14" textLength="42.1" lengthAdjust="spacingAndGlyphs">Nalm6 ATF4 ctrl</text>
<rect x="410.70" y="468.10" width="1.00" height="1.00" fill="#888"/>
<rect x="413.00" y="468.10" width="2.40" height="1.00" fill="#999"/>
<rect x="410.50" y="475.50" width="85.50" height="0.90" fill="#f0c6d0"/>
<path d="M410.5,476.4V476.3H411.0V476.2H412.0V476.3H413.0V476.2H413.5V476.3H414.0V476.2H415.0V476.3H420.5V476.1H421.0V475.9H421.5V476.1H422.0V476.2H422.5V476.3H423.0V475.7H423.5V475.1H424.0V474.7H424.5V475.7H425.0V476.2H426.0V476.0H426.5V476.1H427.0V476.2H427.5V476.3H430.0V476.2H431.5V476.3H434.5V476.2H435.0V476.3H435.5V476.2H436.0V476.3H437.0V476.2H438.5V476.3H439.0V475.9H439.5V476.1H440.0V476.2H440.5V475.9H441.0V475.4H441.5V474.1H442.0V472.8H442.5V473.2H443.0V472.7H443.5V471.4H444.0V472.7H444.5V474.7H445.0V473.3H445.5V472.5H446.0V473.1H446.5V475.3H447.0V475.9H447.5V476.2H448.0V476.3H450.5V476.2H451.0V475.9H451.5V475.4H452.0V475.5H452.5V476.0H453.0V476.3H455.0V476.2H455.5V476.3H458.0V476.2H458.5V476.3H459.0V476.2H459.5V476.3H460.0V476.2H460.5V476.3H461.5V475.9H462.0V474.4H463.0V475.9H463.5V476.2H464.0V476.3H464.5V476.2H465.0V476.0H465.5V475.8H466.0V475.4H466.5V473.8H467.0V471.5H467.5V472.0H468.0V471.9H468.5V472.4H469.0V474.7H469.5V475.6H470.0V475.9H470.5V476.1H471.5V476.2H472.0V476.3H473.0V476.2H473.5V476.3H474.0V476.2H474.5V476.3H476.0V476.2H477.5V476.3H479.0V476.2H479.5V476.3H481.5V476.2H482.0V476.3H482.5V476.2H483.0V476.3H483.5V476.2H484.0V476.3H485.0V476.2H485.5V476.3H490.5V476.2H491.5V476.3H492.5V476.2H493.5V476.3H495.0V476.2H495.5V476.3H496.0V476.4Z" fill="#d20f2c"/>
<text x="405.90" y="481.90" font-size="6.5" text-anchor="end" fill="#111" stroke="#111" stroke-width="0.14" textLength="49.0" lengthAdjust="spacingAndGlyphs">Nalm6 ATF4 LASP</text>
<rect x="410.70" y="476.90" width="1.00" height="1.00" fill="#888"/>
<rect x="413.00" y="476.90" width="2.40" height="1.00" fill="#999"/>
<rect x="410.50" y="484.30" width="85.50" height="0.90" fill="#d6b8bc"/>
<path d="M410.5,485.2V485.1H411.5V485.0H412.5V485.1H414.0V485.0H414.5V484.9H415.0V485.1H415.5V485.0H416.0V485.1H417.0V484.8H417.5V484.7H418.0V485.0H418.5V485.1H420.5V485.0H421.5V485.1H423.0V484.1H423.5V480.3H424.5V484.0H425.0V485.0H426.5V485.1H427.0V485.0H428.0V485.1H429.0V485.0H429.5V485.1H430.5V485.0H432.0V485.1H434.5V485.0H435.5V485.1H440.0V485.0H440.5V484.9H441.0V484.4H441.5V482.6H442.0V479.8H442.5V480.6H443.0V482.8H443.5V483.1H444.0V482.2H444.5V479.2H445.0V480.2H445.5V482.5H446.0V482.7H446.5V481.8H447.0V481.4H447.5V483.8H448.0V484.8H448.5V485.1H449.5V485.0H450.0V485.1H451.0V484.7H451.5V484.2H452.0V484.4H452.5V484.7H453.0V485.0H453.5V485.1H456.0V485.0H456.5V485.1H459.5V485.0H460.0V485.1H460.5V485.0H461.5V483.9H462.0V480.0H462.5V478.9H463.0V484.0H463.5V485.0H464.5V484.9H465.0V484.8H465.5V484.5H466.0V484.1H466.5V481.8H467.0V478.4H467.5V480.7H468.0V482.3H468.5V480.5H469.0V480.2H469.5V483.3H470.0V484.6H470.5V484.7H471.0V484.9H471.5V485.1H473.5V485.0H475.0V485.1H475.5V485.0H476.0V485.1H478.5V485.0H479.5V485.1H480.0V485.0H480.5V485.1H481.5V485.0H482.0V484.8H482.5V484.4H483.0V484.6H483.5V485.1H485.0V484.8H485.5V484.2H486.0V484.3H486.5V484.8H487.0V485.1H487.5V485.0H488.0V485.1H489.5V485.0H490.0V485.1H491.0V485.0H491.5V485.1H492.5V485.0H493.0V485.1H493.5V485.0H494.0V485.1H494.5V485.0H495.5V485.1H496.0V485.2Z" fill="#6e0a12"/>
<text x="405.90" y="490.90" font-size="6.5" text-anchor="end" fill="#111" stroke="#111" stroke-width="0.14" textLength="43.2" lengthAdjust="spacingAndGlyphs">Nalm6 ATAC ctrl</text>
<rect x="410.70" y="485.70" width="1.00" height="1.00" fill="#888"/>
<rect x="413.00" y="485.70" width="2.40" height="1.00" fill="#999"/>
<rect x="410.50" y="493.10" width="85.50" height="0.90" fill="#ffd6d6"/>
<path d="M410.5,494.0V493.9H413.0V493.8H413.5V493.9H416.5V493.6H417.0V493.8H417.5V493.9H423.5V494.0H424.0V493.9H428.5V493.8H429.0V493.9H430.0V494.0H430.5V493.9H432.5V493.8H433.0V493.9H436.5V493.8H437.0V493.9H440.0V493.6H440.5V489.0H441.0V489.4H441.5V493.0H442.0V492.7H442.5V488.2H443.0V488.0H443.5V492.7H444.0V493.1H444.5V492.8H445.0V492.4H445.5V488.4H446.0V487.4H446.5V493.0H447.0V493.7H447.5V493.8H448.0V493.9H451.5V493.3H452.0V493.0H452.5V493.6H453.0V493.9H456.0V493.7H456.5V493.6H457.0V493.8H457.5V492.1H458.5V493.8H459.0V493.9H461.5V493.7H462.0V491.2H462.5V491.3H463.0V493.8H464.0V493.9H464.5V493.7H465.5V493.6H466.0V493.3H466.5V492.0H467.0V487.2H467.5V490.7H468.0V492.6H468.5V489.0H469.0V487.4H469.5V493.2H470.0V493.6H470.5V493.7H471.5V493.9H472.0V493.7H472.5V493.8H473.0V493.9H477.0V493.7H478.0V493.8H478.5V493.9H481.0V494.0H481.5V493.9H491.5V494.0H492.0V493.9H496.0V494.0Z" fill="#ff8a8a"/>
<text x="405.90" y="499.90" font-size="6.5" text-anchor="end" fill="#111" stroke="#111" stroke-width="0.14" textLength="50.1" lengthAdjust="spacingAndGlyphs">Nalm6 ATAC LASP</text>
<rect x="410.70" y="494.50" width="1.00" height="1.00" fill="#888"/>
<rect x="413.00" y="494.50" width="2.40" height="1.00" fill="#999"/>
<rect x="410.50" y="501.90" width="85.50" height="0.90" fill="#ffbcd4"/>
<path d="M410.5,502.8V502.7H413.5V502.6H414.5V502.7H417.5V502.6H418.0V502.1H418.5V502.6H419.0V502.7H421.0V502.6H421.5V502.7H422.0V502.6H423.0V502.3H423.5V501.4H424.0V501.3H424.5V502.3H425.0V502.7H425.5V502.6H426.0V502.3H426.5V502.7H428.5V502.6H429.0V502.7H429.5V502.6H430.0V502.7H430.5V502.6H431.0V502.3H431.5V502.6H432.5V502.7H433.0V502.6H433.5V502.7H434.0V502.6H434.5V502.7H437.0V502.6H437.5V502.7H438.5V502.6H439.0V502.7H440.0V502.3H440.5V497.0H441.0V497.3H441.5V501.3H442.0V501.0H442.5V495.1H443.0V495.0H443.5V500.5H444.0V501.0H444.5V501.4H445.0V500.8H445.5V497.5H446.0V497.4H446.5V501.8H447.0V502.4H447.5V502.6H448.0V502.7H448.5V502.6H449.0V502.7H452.0V502.6H453.0V502.7H453.5V502.6H454.0V502.7H457.0V502.6H457.5V500.6H458.0V500.9H458.5V502.6H459.0V502.7H460.0V502.6H460.5V502.7H461.0V502.6H461.5V502.4H462.0V498.8H462.5V499.7H463.0V502.5H463.5V502.6H464.5V502.5H465.0V502.4H465.5V502.1H466.0V502.0H466.5V500.6H467.0V494.6H467.5V498.5H468.0V500.5H468.5V497.5H469.0V496.1H469.5V501.5H470.0V502.3H470.5V502.4H471.0V502.6H471.5V502.7H472.0V502.6H472.5V502.7H474.0V502.6H474.5V502.7H477.0V502.4H478.0V502.7H480.5V502.6H481.0V502.7H482.0V502.6H482.5V502.5H483.5V502.7H485.0V502.4H485.5V501.9H486.0V501.7H486.5V502.4H487.0V502.6H487.5V502.7H488.0V502.6H489.5V502.7H490.5V502.6H491.5V502.7H492.5V502.6H493.0V502.7H494.5V502.6H495.0V502.7H496.0V502.8Z" fill="#ff1060"/>
<text x="405.90" y="508.90" font-size="6.5" text-anchor="end" fill="#111" stroke="#111" stroke-width="0.14" textLength="49.2" lengthAdjust="spacingAndGlyphs">SUPB15 ATF4 ctrl</text>
<rect x="410.70" y="503.30" width="1.00" height="1.00" fill="#888"/>
<rect x="413.00" y="503.30" width="2.40" height="1.00" fill="#999"/>
<rect x="410.50" y="510.70" width="85.50" height="0.90" fill="#5050d0"/>
<path d="M410.5,511.6V511.5H411.0V511.2H411.5V511.4H412.0V511.2H412.5V511.3H413.0V511.4H413.5V511.3H414.0V511.4H415.5V511.5H416.0V511.3H416.5V511.2H417.0V511.4H417.5V511.3H418.0V511.5H418.5V511.3H419.0V511.5H419.5V511.4H420.5V511.3H421.5V511.2H422.0V511.4H423.0V511.2H423.5V511.3H424.0V511.5H424.5V511.4H425.0V511.3H425.5V511.2H426.0V511.4H426.5V511.3H427.5V511.4H428.0V511.2H429.0V510.7H429.5V511.1H430.0V511.3H430.5V511.5H431.0V511.2H431.5V511.3H432.0V511.4H432.5V511.2H433.0V511.1H433.5V511.4H434.0V511.3H435.0V511.4H435.5V511.3H436.0V511.5H436.5V511.4H437.0V511.2H437.5V511.4H438.0V511.3H438.5V511.4H439.0V511.2H440.0V511.3H440.5V511.2H441.0V511.3H442.0V511.0H442.5V510.8H443.0V510.9H443.5V511.2H444.5V510.9H445.5V511.0H446.0V510.9H446.5V511.1H447.0V510.9H448.0V511.0H448.5V510.9H449.0V510.8H449.5V510.9H450.5V510.8H451.0V511.0H451.5V510.9H452.0V511.0H452.5V510.9H453.5V510.8H454.0V511.0H454.5V510.9H455.5V511.2H456.5V511.1H457.5V511.2H458.0V511.3H459.0V510.9H459.5V511.3H460.5V511.2H461.5V511.3H463.5V511.2H464.0V511.3H464.5V511.2H465.0V511.3H467.0V511.2H467.5V511.5H468.0V511.2H468.5V511.4H469.0V511.5H469.5V511.4H470.0V511.3H471.0V511.4H472.0V511.2H473.0V511.3H473.5V511.2H475.5V511.3H476.0V511.2H477.5V511.4H478.0V511.3H478.5V511.4H479.5V511.3H480.0V511.2H480.5V511.4H481.0V511.2H481.5V511.4H482.0V511.5H482.5V511.4H483.0V511.5H483.5V511.2H484.0V511.4H485.0V511.2H485.5V511.4H486.5V511.2H487.0V511.3H488.5V511.2H489.0V511.4H490.0V511.3H490.5V511.4H491.0V511.2H491.5V511.3H492.0V511.4H493.0V511.3H493.5V511.4H494.0V511.3H495.0V511.4H495.5V511.3H496.0V511.6Z" fill="#2828c4"/>
<text x="405.90" y="517.90" font-size="6.5" text-anchor="end" fill="#111" stroke="#111" stroke-width="0.14" textLength="56.1" lengthAdjust="spacingAndGlyphs">SUPB15 ATF4 LASP</text>
<rect x="410.70" y="512.10" width="1.00" height="1.00" fill="#888"/>
<rect x="413.00" y="512.10" width="2.40" height="1.00" fill="#999"/>
<rect x="410.50" y="519.50" width="85.50" height="0.90" fill="#3a3a90"/>
<path d="M410.5,520.4V520.2H412.0V520.1H412.5V520.2H413.5V520.1H414.0V520.2H414.5V520.1H415.0V520.3H415.5V520.2H416.0V520.0H416.5V520.3H417.0V520.1H417.5V520.2H418.0V520.3H418.5V520.2H419.0V519.9H420.0V520.1H420.5V520.3H421.0V520.1H423.0V520.2H423.5V520.0H424.0V520.2H426.0V520.1H427.5V520.2H428.0V520.3H428.5V520.1H429.0V520.3H429.5V520.1H430.0V520.2H431.5V520.1H432.5V520.0H433.0V519.9H433.5V520.1H434.0V520.0H434.5V520.1H435.5V519.7H436.0V520.0H436.5V520.1H437.0V520.2H438.0V520.1H440.0V520.2H440.5V519.7H441.0V520.1H443.0V520.2H443.5V520.1H444.5V520.2H445.0V520.1H446.0V520.2H446.5V520.1H447.0V520.3H447.5V520.1H448.5V520.2H449.0V520.1H449.5V520.2H451.0V520.1H451.5V520.2H453.0V520.1H453.5V520.3H454.0V520.2H455.0V520.1H455.5V520.3H456.0V520.2H457.0V520.1H457.5V520.2H458.0V520.1H458.5V520.3H459.0V520.1H459.5V520.2H460.5V520.1H461.0V520.2H461.5V520.1H462.0V520.3H462.5V520.2H463.0V520.3H463.5V520.1H464.5V520.3H465.0V520.1H465.5V520.2H466.0V520.0H466.5V518.8H467.0V518.2H467.5V518.8H468.0V519.8H468.5V520.0H469.5V520.1H470.0V520.2H470.5V520.1H471.0V520.0H471.5V520.3H472.0V520.0H472.5V520.2H474.0V520.1H474.5V520.2H475.0V520.3H475.5V520.2H476.0V520.3H476.5V520.0H477.0V520.3H477.5V520.2H480.5V520.1H481.0V520.2H482.0V520.1H483.0V520.2H484.5V520.3H485.5V520.2H486.0V520.3H486.5V520.2H487.0V520.1H487.5V520.2H488.5V520.1H489.5V520.3H490.0V520.2H490.5V520.3H491.0V520.2H492.0V520.3H492.5V520.1H494.0V520.3H494.5V520.1H495.0V520.2H495.5V520.3H496.0V520.4Z" fill="#16166c"/>
<text x="405.90" y="526.90" font-size="6.5" text-anchor="end" fill="#111" stroke="#111" stroke-width="0.14" textLength="50.3" lengthAdjust="spacingAndGlyphs">SUPB15 ATAC ctrl</text>
<rect x="410.70" y="520.90" width="1.00" height="1.00" fill="#888"/>
<rect x="413.00" y="520.90" width="2.40" height="1.00" fill="#999"/>
<rect x="410.50" y="528.30" width="85.50" height="0.90" fill="#cfe6ff"/>
<path d="M410.5,529.2V529.1H416.5V529.0H417.0V529.1H421.0V529.0H421.5V528.8H422.0V529.0H422.5V529.1H423.0V529.0H423.5V528.5H424.0V528.3H424.5V529.0H425.0V529.1H425.5V529.2H426.0V529.1H434.0V529.0H434.5V529.1H435.0V529.0H435.5V528.8H436.0V529.0H436.5V529.1H439.0V529.0H439.5V529.1H440.0V528.9H440.5V526.5H441.0V526.7H441.5V528.9H442.0V528.8H442.5V525.3H443.0V525.9H443.5V528.8H444.0V529.1H445.0V529.0H445.5V526.3H446.0V526.0H446.5V528.9H447.0V529.1H450.5V529.0H451.0V528.9H451.5V529.0H453.0V528.8H453.5V528.7H454.0V529.0H454.5V529.1H460.5V529.0H461.0V529.1H461.5V529.0H462.0V527.7H463.0V529.0H465.0V528.9H465.5V528.8H466.0V528.6H466.5V527.5H467.0V521.5H467.5V526.6H468.0V528.0H468.5V524.9H469.0V524.7H469.5V528.4H470.0V528.8H470.5V528.9H471.0V529.0H471.5V529.1H477.0V528.9H477.5V529.1H492.5V529.0H493.0V529.1H494.5V529.2H495.0V529.0H495.5V529.1H496.0V529.2Z" fill="#8cc6ff"/>
<text x="405.90" y="535.90" font-size="6.5" text-anchor="end" fill="#111" stroke="#111" stroke-width="0.14" textLength="57.2" lengthAdjust="spacingAndGlyphs">SUPB15 ATAC LASP</text>
<rect x="410.70" y="529.70" width="1.00" height="1.00" fill="#888"/>
<rect x="413.00" y="529.70" width="2.40" height="1.00" fill="#999"/>
<rect x="410.50" y="537.10" width="85.50" height="0.90" fill="#b4ccff"/>
<path d="M410.5,538.0V537.9H411.0V537.8H411.5V537.9H412.0V537.8H413.5V537.7H414.0V537.8H415.0V537.9H417.0V537.8H417.5V537.9H418.0V537.8H418.5V537.9H421.0V537.8H421.5V537.9H423.0V537.6H423.5V536.5H424.0V536.2H424.5V537.5H425.0V537.9H429.5V537.8H430.0V537.9H430.5V537.8H431.0V537.9H433.0V537.8H434.0V537.9H435.0V537.8H435.5V537.9H436.0V537.8H436.5V537.9H440.0V537.7H440.5V535.7H441.0V535.6H441.5V537.3H442.0V536.9H442.5V532.8H443.0V531.9H443.5V536.5H444.0V536.8H444.5V536.6H445.0V536.7H445.5V533.7H446.0V534.2H446.5V537.4H447.0V537.8H447.5V537.9H448.0V537.8H448.5V537.9H450.0V537.8H450.5V537.9H451.0V537.8H451.5V537.9H452.0V537.8H452.5V537.9H453.0V537.8H453.5V537.7H454.0V537.4H454.5V537.8H455.5V537.9H456.0V537.8H456.5V537.9H457.0V537.8H457.5V536.8H458.0V536.7H458.5V537.8H459.0V537.9H459.5V537.8H460.0V537.9H461.0V537.8H462.0V536.7H462.5V536.8H463.0V537.6H463.5V537.8H464.0V537.9H464.5V537.7H465.0V537.6H465.5V537.2H466.0V536.7H466.5V536.0H467.0V529.9H467.5V534.0H468.0V536.5H468.5V533.8H469.5V537.0H470.0V537.4H470.5V537.6H471.0V537.7H471.5V537.8H472.0V537.9H474.0V537.8H474.5V537.9H475.5V537.8H476.0V537.9H479.5V537.8H480.0V537.9H483.5V537.8H484.0V537.9H485.5V537.8H486.5V537.9H489.5V537.8H490.0V537.9H491.5V537.8H492.0V537.9H493.0V537.8H493.5V537.9H494.0V537.8H494.5V537.9H496.0V538.0Z" fill="#1468ff"/>
<line x1="466.80" y1="540.90" x2="495.40" y2="540.90" stroke="#b4b4f0" stroke-width="0.6"/>
<rect x="468.95" y="540.55" width="0.70" height="0.70" fill="#5a5ae0"/>
<rect x="473.95" y="540.55" width="0.70" height="0.70" fill="#5a5ae0"/>
<rect x="478.95" y="540.55" width="0.70" height="0.70" fill="#5a5ae0"/>
<rect x="483.95" y="540.55" width="0.70" height="0.70" fill="#5a5ae0"/>
<rect x="488.95" y="540.55" width="0.70" height="0.70" fill="#5a5ae0"/>
<rect x="493.95" y="540.55" width="0.70" height="0.70" fill="#5a5ae0"/>
<text x="482.40" y="545.40" font-size="2.7" text-anchor="middle" fill="#2a2a2a" stroke="#2a2a2a" stroke-width="0.2">TRIM2</text>
<rect x="410.00" y="467.30" width="86.50" height="78.90" fill="none" stroke="#a8a8a8" stroke-width="0.9"/>
<line x1="410.00" y1="467.30" x2="410.00" y2="546.20" stroke="#9a9a9a" stroke-width="0.9"/>
<rect x="0.00" y="0.00" width="520.00" height="1.00" fill="#000"/>
<rect x="0.00" y="0.00" width="1.00" height="556.00" fill="#000"/>
<rect x="518.70" y="0.00" width="1.30" height="556.00" fill="#000"/>
<rect x="0.00" y="554.70" width="520.00" height="1.30" fill="#000"/></svg>
</body></html>
